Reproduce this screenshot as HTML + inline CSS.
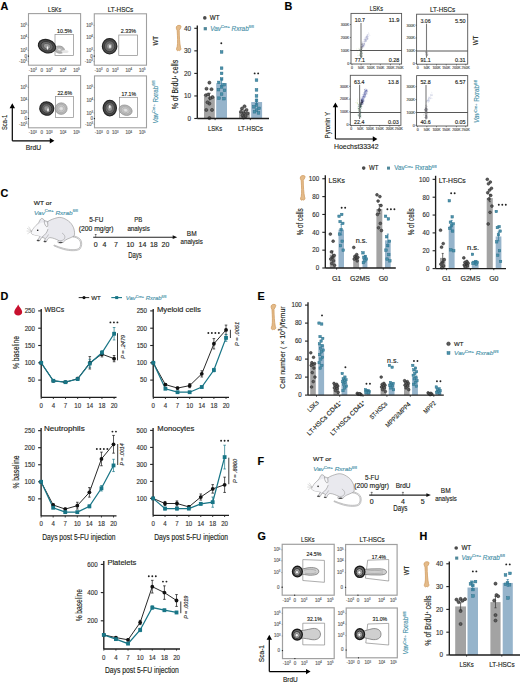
<!DOCTYPE html>
<html><head><meta charset="utf-8"><style>
html,body{margin:0;padding:0;background:#fff;}
svg{display:block;font-family:"Liberation Sans",sans-serif;}
text{stroke-width:0.15px;}
text:not([stroke]){stroke:#231f20;}
text:not([fill]){fill:#231f20;}
</style></head><body>
<svg width="520" height="684" viewBox="0 0 520 684">
<defs><radialGradient id="blobg" cx="0.5" cy="0.5" r="0.5"><stop offset="0" stop-color="#c8c8c8"/><stop offset="0.3" stop-color="#8a8a8a"/><stop offset="0.65" stop-color="#555"/><stop offset="1" stop-color="#2a2a2a"/></radialGradient><radialGradient id="lblobg" cx="0.5" cy="0.5" r="0.5"><stop offset="0" stop-color="#e8e8e8"/><stop offset="0.6" stop-color="#c4c4c4"/><stop offset="1" stop-color="#b0b0b0"/></radialGradient><radialGradient id="gdark" cx="0.55" cy="0.5" r="0.55"><stop offset="0" stop-color="#bbb"/><stop offset="0.35" stop-color="#555"/><stop offset="0.7" stop-color="#333"/><stop offset="1" stop-color="#1a1a1a"/></radialGradient></defs>
<rect width="520" height="684" fill="#fff"/>
<text x="0.6" y="10.1" font-size="10.8" font-weight="bold" fill="#000" stroke="#000" >A</text>
<text x="54.7" y="11.6" font-size="6.8" text-anchor="middle" textLength="13.3" lengthAdjust="spacingAndGlyphs" >LSKs</text>
<text x="120.5" y="11.6" font-size="6.8" text-anchor="middle" textLength="25.5" lengthAdjust="spacingAndGlyphs" >LT-HSCs</text>
<rect x="28.5" y="13.6" width="52.1" height="51.6" fill="none" stroke="#a0a0a0" stroke-width="1.1" />
<text x="27" y="26.71" font-size="4.5" fill="#666" stroke="#666" text-anchor="end">10<tspan dy="-1.8" font-size="2.7">5</tspan></text>
<text x="27" y="39.09" font-size="4.5" fill="#666" stroke="#666" text-anchor="end">10<tspan dy="-1.8" font-size="2.7">4</tspan></text>
<text x="27" y="51.99" font-size="4.5" fill="#666" stroke="#666" text-anchor="end">10<tspan dy="-1.8" font-size="2.7">3</tspan></text>
<text x="27" y="57.57" font-size="4.5" text-anchor="end" fill="#666" stroke="#666" >0</text>
<text x="27" y="63.09" font-size="4.5" fill="#666" stroke="#666" text-anchor="end">-10<tspan dy="-1.8" font-size="2.7">3</tspan></text>
<text x="32.67" y="71.8" font-size="4.5" fill="#666" stroke="#666" text-anchor="middle">-10<tspan dy="-1.8" font-size="2.7">3</tspan></text>
<text x="41.79" y="71.8" font-size="4.5" text-anchor="middle" fill="#666" stroke="#666" >0</text>
<text x="49.34" y="71.8" font-size="4.5" fill="#666" stroke="#666" text-anchor="middle">10<tspan dy="-1.8" font-size="2.7">3</tspan></text>
<text x="62.89" y="71.8" font-size="4.5" fill="#666" stroke="#666" text-anchor="middle">10<tspan dy="-1.8" font-size="2.7">4</tspan></text>
<text x="76.43" y="71.8" font-size="4.5" fill="#666" stroke="#666" text-anchor="middle">10<tspan dy="-1.8" font-size="2.7">5</tspan></text>
<line x1="27.7" y1="25.21" x2="28.5" y2="25.21" stroke="#555" stroke-width="0.5" />
<line x1="27.7" y1="37.59" x2="28.5" y2="37.59" stroke="#555" stroke-width="0.5" />
<line x1="27.7" y1="50.49" x2="28.5" y2="50.49" stroke="#555" stroke-width="0.5" />
<line x1="27.7" y1="56.07" x2="28.5" y2="56.07" stroke="#555" stroke-width="0.5" />
<line x1="27.7" y1="61.59" x2="28.5" y2="61.59" stroke="#555" stroke-width="0.5" />
<circle cx="28.5" cy="56.07" r="0.6" fill="#111" stroke="none" stroke-width="0.3"/>
<rect x="55" y="34.6" width="18.6" height="20.8" fill="none" stroke="#8a8a8a" stroke-width="0.7" />
<text x="57" y="32.8" font-size="6" textLength="15.1" lengthAdjust="spacingAndGlyphs" >10.5%</text>
<rect x="94.3" y="13.8" width="52.2" height="51.4" fill="none" stroke="#a0a0a0" stroke-width="1.1" />
<text x="92.8" y="26.87" font-size="4.5" fill="#666" stroke="#666" text-anchor="end">10<tspan dy="-1.8" font-size="2.7">5</tspan></text>
<text x="92.8" y="39.2" font-size="4.5" fill="#666" stroke="#666" text-anchor="end">10<tspan dy="-1.8" font-size="2.7">4</tspan></text>
<text x="92.8" y="52.05" font-size="4.5" fill="#666" stroke="#666" text-anchor="end">10<tspan dy="-1.8" font-size="2.7">3</tspan></text>
<text x="92.8" y="57.6" font-size="4.5" text-anchor="end" fill="#666" stroke="#666" >0</text>
<text x="92.8" y="63.1" font-size="4.5" fill="#666" stroke="#666" text-anchor="end">-10<tspan dy="-1.8" font-size="2.7">3</tspan></text>
<text x="98.48" y="71.8" font-size="4.5" fill="#666" stroke="#666" text-anchor="middle">-10<tspan dy="-1.8" font-size="2.7">3</tspan></text>
<text x="107.61" y="71.8" font-size="4.5" text-anchor="middle" fill="#666" stroke="#666" >0</text>
<text x="115.18" y="71.8" font-size="4.5" fill="#666" stroke="#666" text-anchor="middle">10<tspan dy="-1.8" font-size="2.7">3</tspan></text>
<text x="128.75" y="71.8" font-size="4.5" fill="#666" stroke="#666" text-anchor="middle">10<tspan dy="-1.8" font-size="2.7">4</tspan></text>
<text x="142.32" y="71.8" font-size="4.5" fill="#666" stroke="#666" text-anchor="middle">10<tspan dy="-1.8" font-size="2.7">5</tspan></text>
<line x1="93.5" y1="25.37" x2="94.3" y2="25.37" stroke="#555" stroke-width="0.5" />
<line x1="93.5" y1="37.7" x2="94.3" y2="37.7" stroke="#555" stroke-width="0.5" />
<line x1="93.5" y1="50.55" x2="94.3" y2="50.55" stroke="#555" stroke-width="0.5" />
<line x1="93.5" y1="56.1" x2="94.3" y2="56.1" stroke="#555" stroke-width="0.5" />
<line x1="93.5" y1="61.6" x2="94.3" y2="61.6" stroke="#555" stroke-width="0.5" />
<circle cx="94.3" cy="56.1" r="0.6" fill="#111" stroke="none" stroke-width="0.3"/>
<rect x="118.8" y="35" width="18.8" height="20.4" fill="none" stroke="#8a8a8a" stroke-width="0.7" />
<text x="120.8" y="33.2" font-size="6" textLength="15.3" lengthAdjust="spacingAndGlyphs" >2.33%</text>
<rect x="28.5" y="75.6" width="52.1" height="52.2" fill="none" stroke="#a0a0a0" stroke-width="1.1" />
<text x="27" y="88.84" font-size="4.5" fill="#666" stroke="#666" text-anchor="end">10<tspan dy="-1.8" font-size="2.7">5</tspan></text>
<text x="27" y="101.37" font-size="4.5" fill="#666" stroke="#666" text-anchor="end">10<tspan dy="-1.8" font-size="2.7">4</tspan></text>
<text x="27" y="114.42" font-size="4.5" fill="#666" stroke="#666" text-anchor="end">10<tspan dy="-1.8" font-size="2.7">3</tspan></text>
<text x="27" y="120.06" font-size="4.5" text-anchor="end" fill="#666" stroke="#666" >0</text>
<text x="27" y="125.65" font-size="4.5" fill="#666" stroke="#666" text-anchor="end">-10<tspan dy="-1.8" font-size="2.7">3</tspan></text>
<text x="32.67" y="134.4" font-size="4.5" fill="#666" stroke="#666" text-anchor="middle">-10<tspan dy="-1.8" font-size="2.7">3</tspan></text>
<text x="41.79" y="134.4" font-size="4.5" text-anchor="middle" fill="#666" stroke="#666" >0</text>
<text x="49.34" y="134.4" font-size="4.5" fill="#666" stroke="#666" text-anchor="middle">10<tspan dy="-1.8" font-size="2.7">3</tspan></text>
<text x="62.89" y="134.4" font-size="4.5" fill="#666" stroke="#666" text-anchor="middle">10<tspan dy="-1.8" font-size="2.7">4</tspan></text>
<text x="76.43" y="134.4" font-size="4.5" fill="#666" stroke="#666" text-anchor="middle">10<tspan dy="-1.8" font-size="2.7">5</tspan></text>
<line x1="27.7" y1="87.34" x2="28.5" y2="87.34" stroke="#555" stroke-width="0.5" />
<line x1="27.7" y1="99.87" x2="28.5" y2="99.87" stroke="#555" stroke-width="0.5" />
<line x1="27.7" y1="112.92" x2="28.5" y2="112.92" stroke="#555" stroke-width="0.5" />
<line x1="27.7" y1="118.56" x2="28.5" y2="118.56" stroke="#555" stroke-width="0.5" />
<line x1="27.7" y1="124.15" x2="28.5" y2="124.15" stroke="#555" stroke-width="0.5" />
<circle cx="28.5" cy="118.56" r="0.6" fill="#111" stroke="none" stroke-width="0.3"/>
<rect x="55.4" y="96.6" width="18.2" height="20.8" fill="none" stroke="#8a8a8a" stroke-width="0.7" />
<text x="57.4" y="94.8" font-size="6" textLength="14.7" lengthAdjust="spacingAndGlyphs" >22.6%</text>
<rect x="94.5" y="75.9" width="52" height="51.9" fill="none" stroke="#a0a0a0" stroke-width="1.1" />
<text x="93" y="89.08" font-size="4.5" fill="#666" stroke="#666" text-anchor="end">10<tspan dy="-1.8" font-size="2.7">5</tspan></text>
<text x="93" y="101.53" font-size="4.5" fill="#666" stroke="#666" text-anchor="end">10<tspan dy="-1.8" font-size="2.7">4</tspan></text>
<text x="93" y="114.51" font-size="4.5" fill="#666" stroke="#666" text-anchor="end">10<tspan dy="-1.8" font-size="2.7">3</tspan></text>
<text x="93" y="120.11" font-size="4.5" text-anchor="end" fill="#666" stroke="#666" >0</text>
<text x="93" y="125.67" font-size="4.5" fill="#666" stroke="#666" text-anchor="end">-10<tspan dy="-1.8" font-size="2.7">3</tspan></text>
<text x="98.66" y="134.4" font-size="4.5" fill="#666" stroke="#666" text-anchor="middle">-10<tspan dy="-1.8" font-size="2.7">3</tspan></text>
<text x="107.76" y="134.4" font-size="4.5" text-anchor="middle" fill="#666" stroke="#666" >0</text>
<text x="115.3" y="134.4" font-size="4.5" fill="#666" stroke="#666" text-anchor="middle">10<tspan dy="-1.8" font-size="2.7">3</tspan></text>
<text x="128.82" y="134.4" font-size="4.5" fill="#666" stroke="#666" text-anchor="middle">10<tspan dy="-1.8" font-size="2.7">4</tspan></text>
<text x="142.34" y="134.4" font-size="4.5" fill="#666" stroke="#666" text-anchor="middle">10<tspan dy="-1.8" font-size="2.7">5</tspan></text>
<line x1="93.7" y1="87.58" x2="94.5" y2="87.58" stroke="#555" stroke-width="0.5" />
<line x1="93.7" y1="100.03" x2="94.5" y2="100.03" stroke="#555" stroke-width="0.5" />
<line x1="93.7" y1="113.01" x2="94.5" y2="113.01" stroke="#555" stroke-width="0.5" />
<line x1="93.7" y1="118.61" x2="94.5" y2="118.61" stroke="#555" stroke-width="0.5" />
<line x1="93.7" y1="124.17" x2="94.5" y2="124.17" stroke="#555" stroke-width="0.5" />
<circle cx="94.5" cy="118.61" r="0.6" fill="#111" stroke="none" stroke-width="0.3"/>
<rect x="119.4" y="97.3" width="18.2" height="20.1" fill="none" stroke="#8a8a8a" stroke-width="0.7" />
<text x="121.4" y="95.5" font-size="6" textLength="14.7" lengthAdjust="spacingAndGlyphs" >17.1%</text>
<ellipse cx="59.5" cy="49.6" rx="5" ry="3.6" fill="url(#lblobg)" stroke="#8a8a8a" stroke-width="0.6" transform="rotate(10 59.5 49.6)"/>
<ellipse cx="59.5" cy="49.6" rx="3.5" ry="2.52" fill="none" stroke="#999" stroke-width="0.4" transform="rotate(10 59.5 49.6)"/>
<ellipse cx="59.5" cy="49.6" rx="2.1" ry="1.51" fill="none" stroke="#999" stroke-width="0.4" transform="rotate(10 59.5 49.6)"/>
<ellipse cx="65" cy="51.5" rx="3.5" ry="1.6" fill="#e6e6e6"/>
<ellipse cx="47" cy="46.2" rx="8.8" ry="6.4" fill="#4e4e4e" stroke="#262626" stroke-width="1.3" transform="rotate(18 47 46.2)"/>
<ellipse cx="47" cy="46.2" rx="6.26" ry="4.62" fill="#6a6a6a" stroke="#2e2e2e" stroke-width="0.7" transform="rotate(18 47 46.2)"/>
<ellipse cx="47" cy="46.2" rx="3.68" ry="2.72" fill="#969696" stroke="#444" stroke-width="0.5" transform="rotate(18 47 46.2)"/>
<ellipse cx="47.5" cy="48" rx="0.8" ry="1.7" fill="#fff" fill-opacity="0.95"/>
<ellipse cx="109.6" cy="46.2" rx="7.2" ry="7.6" fill="#4e4e4e" stroke="#262626" stroke-width="1.3" transform="rotate(0 109.6 46.2)"/>
<ellipse cx="109.6" cy="46.2" rx="5.17" ry="5.44" fill="#6a6a6a" stroke="#2e2e2e" stroke-width="0.7" transform="rotate(0 109.6 46.2)"/>
<ellipse cx="109.6" cy="46.2" rx="3.04" ry="3.2" fill="#969696" stroke="#444" stroke-width="0.5" transform="rotate(0 109.6 46.2)"/>
<ellipse cx="110" cy="46.5" rx="0.8" ry="1.7" fill="#fff" fill-opacity="0.95"/>
<ellipse cx="61.2" cy="108.6" rx="6" ry="5.8" fill="url(#lblobg)" stroke="#8a8a8a" stroke-width="0.6" transform="rotate(0 61.2 108.6)"/>
<ellipse cx="61.2" cy="108.6" rx="4.2" ry="4.06" fill="none" stroke="#999" stroke-width="0.4" transform="rotate(0 61.2 108.6)"/>
<ellipse cx="61.2" cy="108.6" rx="2.52" ry="2.44" fill="none" stroke="#999" stroke-width="0.4" transform="rotate(0 61.2 108.6)"/>
<ellipse cx="46.8" cy="108.5" rx="7" ry="6.6" fill="#4e4e4e" stroke="#262626" stroke-width="1.3" transform="rotate(20 46.8 108.5)"/>
<ellipse cx="46.8" cy="108.5" rx="5.03" ry="4.76" fill="#6a6a6a" stroke="#2e2e2e" stroke-width="0.7" transform="rotate(20 46.8 108.5)"/>
<ellipse cx="46.8" cy="108.5" rx="2.96" ry="2.8" fill="#969696" stroke="#444" stroke-width="0.5" transform="rotate(20 46.8 108.5)"/>
<ellipse cx="48" cy="110" rx="0.8" ry="1.7" fill="#fff" fill-opacity="0.95"/>
<ellipse cx="125.6" cy="110.2" rx="6.7" ry="5" fill="url(#lblobg)" stroke="#8a8a8a" stroke-width="0.6" transform="rotate(20 125.6 110.2)"/>
<ellipse cx="125.6" cy="110.2" rx="4.69" ry="3.5" fill="none" stroke="#999" stroke-width="0.4" transform="rotate(20 125.6 110.2)"/>
<ellipse cx="125.6" cy="110.2" rx="2.81" ry="2.1" fill="none" stroke="#999" stroke-width="0.4" transform="rotate(20 125.6 110.2)"/>
<ellipse cx="109.8" cy="108.1" rx="6.6" ry="7.7" fill="#4e4e4e" stroke="#262626" stroke-width="1.3" transform="rotate(0 109.8 108.1)"/>
<ellipse cx="109.8" cy="108.1" rx="4.76" ry="5.51" fill="#6a6a6a" stroke="#2e2e2e" stroke-width="0.7" transform="rotate(0 109.8 108.1)"/>
<ellipse cx="109.8" cy="108.1" rx="2.8" ry="3.24" fill="#969696" stroke="#444" stroke-width="0.5" transform="rotate(0 109.8 108.1)"/>
<ellipse cx="109.8" cy="106.8" rx="0.8" ry="1.7" fill="#fff" fill-opacity="0.95"/>
<text x="157.6" y="45.5" font-size="7.2" transform="rotate(-90 157.6 45.5)" textLength="9.6" lengthAdjust="spacingAndGlyphs" >WT</text>
<text x="158" y="123.6" font-size="7" fill="#4a93aa" stroke="#4a93aa" transform="rotate(-90 158 123.6)" textLength="43" lengthAdjust="spacingAndGlyphs"><tspan font-style="italic">Vav</tspan><tspan dy="-2.66" font-size="4.34">Cre+</tspan><tspan dy="2.66"> Rxrab</tspan><tspan dy="-2.66" font-size="4.34">fl/fl</tspan></text>
<path d="M12.3,140.8 L12.3,107 M12.3,140.8 L50.5,140.8" stroke="#000" stroke-width="1.2" fill="none"/>
<path d="M9.6,108.2 L12.3,103.2 L15,108.2 Z M49.8,138.1 L54.4,140.8 L49.8,143.5 Z" fill="#000"/>
<text x="7.4" y="130" font-size="7.8" transform="rotate(-90 7.4 130)" textLength="15.2" lengthAdjust="spacingAndGlyphs" >Sca-1</text>
<text x="25.8" y="150.3" font-size="7.8" textLength="15.3" lengthAdjust="spacingAndGlyphs" >BrdU</text>
<path d="M176.25,28.12 C175.93,25.52 178.77,24.74 180.66,25.78 C181.6,26.56 180.34,28.64 179.21,30.2 C179.21,36.7 179.71,43.2 180.47,47.36 C181.73,49.18 180.03,51.52 178.45,50.22 C177.19,51.52 175.62,49.7 177.19,46.84 C177.95,43.2 177.51,36.7 177.19,30.72 Z" fill="#e4bb8a" stroke="#cf9a5c" stroke-width="0.75" stroke-linejoin="round"/>
<circle cx="204.8" cy="17.9" r="1.8" fill="#4a4a4a" stroke="none" stroke-width="0.3"/>
<text x="209.8" y="20.3" font-size="6.6" textLength="9.8" lengthAdjust="spacingAndGlyphs" >WT</text>
<rect x="203.7" y="27.1" width="3.2" height="3.2" fill="#4f8799" stroke="none" stroke-width="0.4" />
<text x="210.2" y="31" font-size="6.6" fill="#4a93aa" stroke="#4a93aa" textLength="43.6" lengthAdjust="spacingAndGlyphs"><tspan font-style="italic">Vav</tspan><tspan dy="-2.51" font-size="4.09">Cre+</tspan><tspan dy="2.51" font-style="italic"> Rxrab</tspan><tspan dy="-2.51" font-size="4.09">fl/fl</tspan></text>
<rect x="204" y="96.85" width="10.8" height="21.65" fill="#a3a3a3" stroke="none" stroke-width="0.8" />
<rect x="216.2" y="83.1" width="10.8" height="35.4" fill="#96b4cb" stroke="none" stroke-width="0.8" />
<rect x="239" y="111.73" width="10.8" height="6.77" fill="#a3a3a3" stroke="none" stroke-width="0.8" />
<rect x="251.2" y="102.04" width="10.9" height="16.46" fill="#96b4cb" stroke="none" stroke-width="0.8" />
<circle cx="209.4" cy="82.65" r="1.55" fill="#5c5c5c" stroke="#262626" stroke-width="0.55"/>
<circle cx="206.5" cy="88.73" r="1.55" fill="#5c5c5c" stroke="#262626" stroke-width="0.55"/>
<circle cx="211.5" cy="89.19" r="1.55" fill="#5c5c5c" stroke="#262626" stroke-width="0.55"/>
<circle cx="205.8" cy="95.27" r="1.55" fill="#5c5c5c" stroke="#262626" stroke-width="0.55"/>
<circle cx="208" cy="94.6" r="1.55" fill="#5c5c5c" stroke="#262626" stroke-width="0.55"/>
<circle cx="212.5" cy="97.08" r="1.55" fill="#5c5c5c" stroke="#262626" stroke-width="0.55"/>
<circle cx="210.2" cy="98.2" r="1.55" fill="#5c5c5c" stroke="#262626" stroke-width="0.55"/>
<circle cx="209.4" cy="103.62" r="1.55" fill="#5c5c5c" stroke="#262626" stroke-width="0.55"/>
<circle cx="206.3" cy="109.93" r="1.55" fill="#5c5c5c" stroke="#262626" stroke-width="0.55"/>
<circle cx="212" cy="109.93" r="1.55" fill="#5c5c5c" stroke="#262626" stroke-width="0.55"/>
<circle cx="209.4" cy="118.05" r="1.55" fill="#5c5c5c" stroke="#262626" stroke-width="0.55"/>
<circle cx="207.5" cy="102.26" r="1.55" fill="#5c5c5c" stroke="#262626" stroke-width="0.55"/>
<rect x="220.25" y="50.63" width="2.7" height="2.7" fill="#4b91ab" stroke="#2c6f88" stroke-width="0.45" />
<rect x="220.25" y="66.86" width="2.7" height="2.7" fill="#4b91ab" stroke="#2c6f88" stroke-width="0.45" />
<rect x="220.25" y="72.05" width="2.7" height="2.7" fill="#4b91ab" stroke="#2c6f88" stroke-width="0.45" />
<rect x="220.25" y="77.69" width="2.7" height="2.7" fill="#4b91ab" stroke="#2c6f88" stroke-width="0.45" />
<rect x="217.45" y="81.07" width="2.7" height="2.7" fill="#4b91ab" stroke="#2c6f88" stroke-width="0.45" />
<rect x="222.85" y="83.33" width="2.7" height="2.7" fill="#4b91ab" stroke="#2c6f88" stroke-width="0.45" />
<rect x="217.15" y="88.29" width="2.7" height="2.7" fill="#4b91ab" stroke="#2c6f88" stroke-width="0.45" />
<rect x="223.15" y="88.96" width="2.7" height="2.7" fill="#4b91ab" stroke="#2c6f88" stroke-width="0.45" />
<rect x="220.25" y="92.8" width="2.7" height="2.7" fill="#4b91ab" stroke="#2c6f88" stroke-width="0.45" />
<rect x="217.65" y="96.86" width="2.7" height="2.7" fill="#4b91ab" stroke="#2c6f88" stroke-width="0.45" />
<rect x="222.65" y="97.31" width="2.7" height="2.7" fill="#4b91ab" stroke="#2c6f88" stroke-width="0.45" />
<rect x="220.25" y="85.58" width="2.7" height="2.7" fill="#4b91ab" stroke="#2c6f88" stroke-width="0.45" />
<circle cx="244.5" cy="106.32" r="1.55" fill="#5c5c5c" stroke="#262626" stroke-width="0.55"/>
<circle cx="242" cy="108.58" r="1.55" fill="#5c5c5c" stroke="#262626" stroke-width="0.55"/>
<circle cx="246.5" cy="109.93" r="1.55" fill="#5c5c5c" stroke="#262626" stroke-width="0.55"/>
<circle cx="241" cy="111.73" r="1.55" fill="#5c5c5c" stroke="#262626" stroke-width="0.55"/>
<circle cx="244" cy="113.09" r="1.55" fill="#5c5c5c" stroke="#262626" stroke-width="0.55"/>
<circle cx="247.5" cy="113.54" r="1.55" fill="#5c5c5c" stroke="#262626" stroke-width="0.55"/>
<circle cx="242.5" cy="115.34" r="1.55" fill="#5c5c5c" stroke="#262626" stroke-width="0.55"/>
<circle cx="245.5" cy="116.25" r="1.55" fill="#5c5c5c" stroke="#262626" stroke-width="0.55"/>
<circle cx="243.5" cy="117.6" r="1.55" fill="#5c5c5c" stroke="#262626" stroke-width="0.55"/>
<rect x="255.15" y="78.81" width="2.7" height="2.7" fill="#4b91ab" stroke="#2c6f88" stroke-width="0.45" />
<rect x="255.15" y="88.51" width="2.7" height="2.7" fill="#4b91ab" stroke="#2c6f88" stroke-width="0.45" />
<rect x="255.15" y="94.6" width="2.7" height="2.7" fill="#4b91ab" stroke="#2c6f88" stroke-width="0.45" />
<rect x="255.15" y="99.11" width="2.7" height="2.7" fill="#4b91ab" stroke="#2c6f88" stroke-width="0.45" />
<rect x="255.15" y="103.62" width="2.7" height="2.7" fill="#4b91ab" stroke="#2c6f88" stroke-width="0.45" />
<rect x="252.65" y="105.42" width="2.7" height="2.7" fill="#4b91ab" stroke="#2c6f88" stroke-width="0.45" />
<rect x="257.65" y="107" width="2.7" height="2.7" fill="#4b91ab" stroke="#2c6f88" stroke-width="0.45" />
<rect x="255.15" y="108.81" width="2.7" height="2.7" fill="#4b91ab" stroke="#2c6f88" stroke-width="0.45" />
<rect x="253.15" y="110.39" width="2.7" height="2.7" fill="#4b91ab" stroke="#2c6f88" stroke-width="0.45" />
<rect x="257.15" y="111.51" width="2.7" height="2.7" fill="#4b91ab" stroke="#2c6f88" stroke-width="0.45" />
<line x1="209.4" y1="100.46" x2="209.4" y2="93.24" stroke="#3c3c3c" stroke-width="0.8" />
<line x1="208.1" y1="93.24" x2="210.7" y2="93.24" stroke="#3c3c3c" stroke-width="0.8" />
<line x1="221.6" y1="87.16" x2="221.6" y2="79.04" stroke="#2f7a9c" stroke-width="0.8" />
<line x1="220.3" y1="79.04" x2="222.9" y2="79.04" stroke="#2f7a9c" stroke-width="0.8" />
<line x1="244.5" y1="113.09" x2="244.5" y2="110.38" stroke="#3c3c3c" stroke-width="0.8" />
<line x1="243.2" y1="110.38" x2="245.8" y2="110.38" stroke="#3c3c3c" stroke-width="0.8" />
<line x1="256.5" y1="104.97" x2="256.5" y2="99.11" stroke="#2f7a9c" stroke-width="0.8" />
<line x1="255.2" y1="99.11" x2="257.8" y2="99.11" stroke="#2f7a9c" stroke-width="0.8" />
<line x1="197.3" y1="118.5" x2="197.3" y2="25.59" stroke="#1e1e1e" stroke-width="1.35" />
<line x1="197.3" y1="118.5" x2="269" y2="118.5" stroke="#1e1e1e" stroke-width="1.35" />
<line x1="194.3" y1="118.5" x2="197.3" y2="118.5" stroke="#222" stroke-width="1.1" />
<text x="191" y="120.9" font-size="7" text-anchor="end" fill="#333" stroke="#333" textLength="3.56" lengthAdjust="spacingAndGlyphs" >0</text>
<line x1="194.3" y1="95.95" x2="197.3" y2="95.95" stroke="#222" stroke-width="1.1" />
<text x="191" y="98.35" font-size="7" text-anchor="end" fill="#333" stroke="#333" textLength="7.12" lengthAdjust="spacingAndGlyphs" >10</text>
<line x1="194.3" y1="73.4" x2="197.3" y2="73.4" stroke="#222" stroke-width="1.1" />
<text x="191" y="75.8" font-size="7" text-anchor="end" fill="#333" stroke="#333" textLength="7.12" lengthAdjust="spacingAndGlyphs" >20</text>
<line x1="194.3" y1="50.85" x2="197.3" y2="50.85" stroke="#222" stroke-width="1.1" />
<text x="191" y="53.25" font-size="7" text-anchor="end" fill="#333" stroke="#333" textLength="7.12" lengthAdjust="spacingAndGlyphs" >30</text>
<line x1="194.3" y1="28.3" x2="197.3" y2="28.3" stroke="#222" stroke-width="1.1" />
<text x="191" y="30.7" font-size="7" text-anchor="end" fill="#333" stroke="#333" textLength="7.12" lengthAdjust="spacingAndGlyphs" >40</text>
<line x1="215.1" y1="118.5" x2="215.1" y2="120.1" stroke="#222" stroke-width="0.9" />
<line x1="250.3" y1="118.5" x2="250.3" y2="120.1" stroke="#222" stroke-width="0.9" />
<text x="215.1" y="131.1" font-size="6.6" text-anchor="middle" textLength="14" lengthAdjust="spacingAndGlyphs" >LSKs</text>
<text x="250.5" y="131.1" font-size="6.6" text-anchor="middle" textLength="25" lengthAdjust="spacingAndGlyphs" >LT-HSCs</text>
<circle cx="221.3" cy="43.3" r="0.95" fill="#222" stroke="none" stroke-width="0.3"/>
<circle cx="254.65" cy="73.4" r="0.95" fill="#222" stroke="none" stroke-width="0.3"/>
<circle cx="258.15" cy="73.4" r="0.95" fill="#222" stroke="none" stroke-width="0.3"/>
<text x="178.6" y="84.8" font-size="8.6" text-anchor="middle" transform="rotate(-90 178.4 84.8)" textLength="49.5" lengthAdjust="spacingAndGlyphs">% of BrdU<tspan dy="-2.6" font-size="4.2">+</tspan><tspan dy="2.6"> cells</tspan></text>
<text x="284.6" y="10.1" font-size="10.8" font-weight="bold" fill="#000" stroke="#000" >B</text>
<text x="376.3" y="11.2" font-size="6.8" text-anchor="middle" textLength="13.3" lengthAdjust="spacingAndGlyphs" >LSKs</text>
<text x="442.6" y="11.7" font-size="6.8" text-anchor="middle" textLength="25.2" lengthAdjust="spacingAndGlyphs" >LT-HSCs</text>
<circle cx="364.7" cy="44.17" r="0.55" fill="#8088b8" fill-opacity="0.2"/>
<circle cx="361.6" cy="45.94" r="0.55" fill="#8088b8" fill-opacity="0.2"/>
<circle cx="362.1" cy="46.29" r="0.55" fill="#8088b8" fill-opacity="0.2"/>
<circle cx="364.96" cy="41.96" r="0.55" fill="#8088b8" fill-opacity="0.2"/>
<circle cx="364.76" cy="41.5" r="0.55" fill="#8088b8" fill-opacity="0.2"/>
<circle cx="361.82" cy="42.75" r="0.55" fill="#8088b8" fill-opacity="0.2"/>
<circle cx="363.5" cy="41.56" r="0.55" fill="#8088b8" fill-opacity="0.2"/>
<circle cx="362.75" cy="45.86" r="0.55" fill="#8088b8" fill-opacity="0.2"/>
<circle cx="363.44" cy="45.79" r="0.55" fill="#8088b8" fill-opacity="0.2"/>
<circle cx="367.4" cy="38.28" r="0.55" fill="#8088b8" fill-opacity="0.2"/>
<circle cx="365.04" cy="40.15" r="0.55" fill="#8088b8" fill-opacity="0.2"/>
<circle cx="362.95" cy="46.47" r="0.55" fill="#8088b8" fill-opacity="0.2"/>
<circle cx="365.38" cy="39.18" r="0.55" fill="#8088b8" fill-opacity="0.2"/>
<circle cx="364.79" cy="40.19" r="0.55" fill="#8088b8" fill-opacity="0.2"/>
<circle cx="366.55" cy="36.83" r="0.55" fill="#8088b8" fill-opacity="0.2"/>
<circle cx="363.63" cy="39.82" r="0.55" fill="#8088b8" fill-opacity="0.2"/>
<circle cx="365.78" cy="40.7" r="0.55" fill="#8088b8" fill-opacity="0.2"/>
<circle cx="361.39" cy="46.33" r="0.55" fill="#8088b8" fill-opacity="0.2"/>
<circle cx="362.66" cy="45.19" r="0.55" fill="#8088b8" fill-opacity="0.2"/>
<circle cx="366.12" cy="37.81" r="0.55" fill="#8088b8" fill-opacity="0.2"/>
<circle cx="366.71" cy="37.77" r="0.55" fill="#8088b8" fill-opacity="0.2"/>
<circle cx="364.7" cy="39.39" r="0.55" fill="#8088b8" fill-opacity="0.2"/>
<circle cx="368" cy="36.57" r="0.55" fill="#8088b8" fill-opacity="0.2"/>
<circle cx="367.28" cy="39.55" r="0.55" fill="#8088b8" fill-opacity="0.2"/>
<circle cx="367.55" cy="39.16" r="0.55" fill="#8088b8" fill-opacity="0.2"/>
<circle cx="362.7" cy="44.46" r="0.55" fill="#8088b8" fill-opacity="0.2"/>
<circle cx="361.61" cy="46.86" r="0.55" fill="#8088b8" fill-opacity="0.2"/>
<circle cx="364.14" cy="46.15" r="0.55" fill="#8088b8" fill-opacity="0.2"/>
<circle cx="362.79" cy="46.34" r="0.55" fill="#8088b8" fill-opacity="0.2"/>
<circle cx="368.09" cy="37.02" r="0.55" fill="#8088b8" fill-opacity="0.2"/>
<circle cx="366.53" cy="39.29" r="0.55" fill="#8088b8" fill-opacity="0.2"/>
<circle cx="367.02" cy="37.55" r="0.55" fill="#8088b8" fill-opacity="0.2"/>
<circle cx="365.84" cy="41.19" r="0.55" fill="#8088b8" fill-opacity="0.2"/>
<circle cx="363.2" cy="45.77" r="0.55" fill="#8088b8" fill-opacity="0.2"/>
<circle cx="362.2" cy="44.31" r="0.55" fill="#8088b8" fill-opacity="0.2"/>
<circle cx="364.51" cy="43.87" r="0.55" fill="#8088b8" fill-opacity="0.2"/>
<circle cx="362.18" cy="41.67" r="0.55" fill="#8088b8" fill-opacity="0.2"/>
<circle cx="364.9" cy="38.59" r="0.55" fill="#8088b8" fill-opacity="0.2"/>
<circle cx="367.88" cy="39.53" r="0.55" fill="#8088b8" fill-opacity="0.2"/>
<circle cx="367.81" cy="36.5" r="0.55" fill="#8088b8" fill-opacity="0.2"/>
<circle cx="364.02" cy="42.54" r="0.55" fill="#8088b8" fill-opacity="0.2"/>
<circle cx="366.12" cy="39.52" r="0.55" fill="#8088b8" fill-opacity="0.2"/>
<circle cx="363.68" cy="45.19" r="0.55" fill="#8088b8" fill-opacity="0.2"/>
<circle cx="362.83" cy="46.37" r="0.55" fill="#8088b8" fill-opacity="0.2"/>
<circle cx="362.47" cy="45.94" r="0.55" fill="#8088b8" fill-opacity="0.2"/>
<circle cx="366.86" cy="36.17" r="0.55" fill="#8088b8" fill-opacity="0.2"/>
<circle cx="363.02" cy="44.67" r="0.55" fill="#8088b8" fill-opacity="0.2"/>
<circle cx="364.39" cy="43.22" r="0.55" fill="#8088b8" fill-opacity="0.2"/>
<circle cx="364.42" cy="41.45" r="0.55" fill="#8088b8" fill-opacity="0.2"/>
<circle cx="362.23" cy="46.36" r="0.55" fill="#8088b8" fill-opacity="0.2"/>
<circle cx="367.08" cy="37.22" r="0.55" fill="#8088b8" fill-opacity="0.2"/>
<circle cx="367.21" cy="35.5" r="0.55" fill="#8088b8" fill-opacity="0.2"/>
<circle cx="366.35" cy="40.67" r="0.55" fill="#8088b8" fill-opacity="0.2"/>
<circle cx="368.78" cy="34.21" r="0.55" fill="#8088b8" fill-opacity="0.2"/>
<circle cx="363.2" cy="44.27" r="0.55" fill="#8088b8" fill-opacity="0.2"/>
<circle cx="365.1" cy="37.42" r="0.55" fill="#8088b8" fill-opacity="0.2"/>
<circle cx="364.26" cy="44.66" r="0.55" fill="#8088b8" fill-opacity="0.2"/>
<circle cx="368.89" cy="33.88" r="0.55" fill="#8088b8" fill-opacity="0.2"/>
<circle cx="366.87" cy="36.54" r="0.55" fill="#8088b8" fill-opacity="0.2"/>
<circle cx="364.97" cy="40.96" r="0.55" fill="#8088b8" fill-opacity="0.2"/>
<circle cx="362.04" cy="47.35" r="0.55" fill="#8088b8" fill-opacity="0.2"/>
<circle cx="367.1" cy="38.43" r="0.55" fill="#8088b8" fill-opacity="0.2"/>
<circle cx="369.86" cy="35.59" r="0.55" fill="#8088b8" fill-opacity="0.2"/>
<circle cx="364.31" cy="43.26" r="0.55" fill="#8088b8" fill-opacity="0.2"/>
<circle cx="363.54" cy="45.85" r="0.55" fill="#8088b8" fill-opacity="0.2"/>
<circle cx="367.96" cy="35.33" r="0.55" fill="#8088b8" fill-opacity="0.2"/>
<circle cx="366.03" cy="38.8" r="0.55" fill="#8088b8" fill-opacity="0.2"/>
<circle cx="367.29" cy="38.23" r="0.55" fill="#8088b8" fill-opacity="0.2"/>
<circle cx="365.94" cy="38.08" r="0.55" fill="#8088b8" fill-opacity="0.2"/>
<circle cx="365.93" cy="38.93" r="0.55" fill="#8088b8" fill-opacity="0.2"/>
<circle cx="367.11" cy="35.9" r="0.55" fill="#8088b8" fill-opacity="0.2"/>
<circle cx="367.59" cy="35.1" r="0.55" fill="#8088b8" fill-opacity="0.2"/>
<circle cx="363.9" cy="47.06" r="0.55" fill="#8088b8" fill-opacity="0.2"/>
<circle cx="367.86" cy="38.66" r="0.55" fill="#8088b8" fill-opacity="0.2"/>
<circle cx="367.42" cy="34.54" r="0.55" fill="#8088b8" fill-opacity="0.2"/>
<circle cx="365.4" cy="40.53" r="0.55" fill="#8088b8" fill-opacity="0.2"/>
<circle cx="367.18" cy="34.46" r="0.55" fill="#8088b8" fill-opacity="0.2"/>
<circle cx="365.93" cy="36.53" r="0.55" fill="#8088b8" fill-opacity="0.2"/>
<circle cx="367.12" cy="37.75" r="0.55" fill="#8088b8" fill-opacity="0.2"/>
<circle cx="363.83" cy="44.68" r="0.55" fill="#8088b8" fill-opacity="0.2"/>
<circle cx="363.14" cy="44.12" r="0.55" fill="#8088b8" fill-opacity="0.2"/>
<circle cx="366.86" cy="36.87" r="0.55" fill="#8088b8" fill-opacity="0.2"/>
<circle cx="366.28" cy="39.47" r="0.55" fill="#8088b8" fill-opacity="0.2"/>
<circle cx="366.4" cy="35.98" r="0.55" fill="#8088b8" fill-opacity="0.2"/>
<circle cx="366.1" cy="40.83" r="0.55" fill="#8088b8" fill-opacity="0.2"/>
<circle cx="364.71" cy="44.84" r="0.55" fill="#8088b8" fill-opacity="0.2"/>
<circle cx="361.61" cy="45.17" r="0.55" fill="#8088b8" fill-opacity="0.2"/>
<circle cx="364.84" cy="41.29" r="0.55" fill="#8088b8" fill-opacity="0.2"/>
<circle cx="365.42" cy="39.92" r="0.55" fill="#8088b8" fill-opacity="0.2"/>
<circle cx="365.37" cy="41" r="0.55" fill="#8088b8" fill-opacity="0.2"/>
<circle cx="365.48" cy="37.68" r="0.55" fill="#8088b8" fill-opacity="0.2"/>
<circle cx="367.39" cy="37.37" r="0.55" fill="#8088b8" fill-opacity="0.2"/>
<circle cx="364.6" cy="39.61" r="0.55" fill="#8088b8" fill-opacity="0.2"/>
<circle cx="365.09" cy="39.01" r="0.55" fill="#8088b8" fill-opacity="0.2"/>
<circle cx="366.17" cy="40.76" r="0.55" fill="#8088b8" fill-opacity="0.2"/>
<circle cx="367.91" cy="36.23" r="0.55" fill="#8088b8" fill-opacity="0.2"/>
<circle cx="366.97" cy="39.68" r="0.55" fill="#8088b8" fill-opacity="0.2"/>
<circle cx="363.52" cy="46.03" r="0.55" fill="#8088b8" fill-opacity="0.2"/>
<circle cx="362.46" cy="46.48" r="0.55" fill="#8088b8" fill-opacity="0.2"/>
<circle cx="366.42" cy="37.09" r="0.55" fill="#8088b8" fill-opacity="0.2"/>
<circle cx="362.65" cy="43.85" r="0.55" fill="#8088b8" fill-opacity="0.2"/>
<circle cx="364.6" cy="43.7" r="0.55" fill="#8088b8" fill-opacity="0.2"/>
<circle cx="364.18" cy="44.1" r="0.55" fill="#8088b8" fill-opacity="0.2"/>
<circle cx="366.62" cy="41.04" r="0.55" fill="#8088b8" fill-opacity="0.2"/>
<circle cx="361.98" cy="45.51" r="0.55" fill="#8088b8" fill-opacity="0.2"/>
<circle cx="364.3" cy="43.67" r="0.55" fill="#8088b8" fill-opacity="0.2"/>
<circle cx="367.47" cy="38.47" r="0.55" fill="#8088b8" fill-opacity="0.2"/>
<circle cx="365.45" cy="41.81" r="0.55" fill="#8088b8" fill-opacity="0.2"/>
<circle cx="365.42" cy="39.49" r="0.55" fill="#8088b8" fill-opacity="0.2"/>
<circle cx="368.48" cy="32.85" r="0.55" fill="#8088b8" fill-opacity="0.2"/>
<circle cx="362.6" cy="46" r="0.55" fill="#8088b8" fill-opacity="0.2"/>
<circle cx="366.61" cy="38.12" r="0.55" fill="#8088b8" fill-opacity="0.2"/>
<circle cx="365.95" cy="41.05" r="0.55" fill="#8088b8" fill-opacity="0.2"/>
<circle cx="364.74" cy="45.53" r="0.55" fill="#8088b8" fill-opacity="0.2"/>
<circle cx="365.3" cy="39.78" r="0.55" fill="#8088b8" fill-opacity="0.2"/>
<circle cx="361.99" cy="45.43" r="0.55" fill="#8088b8" fill-opacity="0.2"/>
<circle cx="363.62" cy="45.65" r="0.55" fill="#8088b8" fill-opacity="0.2"/>
<circle cx="368.34" cy="38.27" r="0.55" fill="#8088b8" fill-opacity="0.2"/>
<circle cx="363.04" cy="45.45" r="0.55" fill="#8088b8" fill-opacity="0.2"/>
<circle cx="362.09" cy="42.26" r="0.55" fill="#8088b8" fill-opacity="0.2"/>
<circle cx="362.05" cy="47.93" r="0.5" fill="#556" fill-opacity="0.3"/>
<circle cx="361.79" cy="47.8" r="0.5" fill="#556" fill-opacity="0.3"/>
<circle cx="361.42" cy="49.19" r="0.5" fill="#556" fill-opacity="0.3"/>
<circle cx="361.63" cy="46.67" r="0.5" fill="#556" fill-opacity="0.3"/>
<circle cx="362.09" cy="46.5" r="0.5" fill="#556" fill-opacity="0.3"/>
<circle cx="361.22" cy="49" r="0.5" fill="#556" fill-opacity="0.3"/>
<circle cx="361.78" cy="44.48" r="0.5" fill="#556" fill-opacity="0.3"/>
<circle cx="362.08" cy="46.04" r="0.5" fill="#556" fill-opacity="0.3"/>
<circle cx="361.63" cy="44.38" r="0.5" fill="#556" fill-opacity="0.3"/>
<circle cx="361.73" cy="44.44" r="0.5" fill="#556" fill-opacity="0.3"/>
<circle cx="362.64" cy="44.81" r="0.5" fill="#556" fill-opacity="0.3"/>
<circle cx="362.05" cy="43.18" r="0.5" fill="#556" fill-opacity="0.3"/>
<circle cx="361.61" cy="46.74" r="0.5" fill="#556" fill-opacity="0.3"/>
<circle cx="362.26" cy="48.64" r="0.5" fill="#556" fill-opacity="0.3"/>
<circle cx="361.66" cy="47.68" r="0.5" fill="#556" fill-opacity="0.3"/>
<circle cx="362.91" cy="43.3" r="0.5" fill="#556" fill-opacity="0.3"/>
<circle cx="361.59" cy="47.81" r="0.5" fill="#556" fill-opacity="0.3"/>
<circle cx="362.16" cy="46.79" r="0.5" fill="#556" fill-opacity="0.3"/>
<circle cx="363.11" cy="47.04" r="0.5" fill="#556" fill-opacity="0.3"/>
<circle cx="361.97" cy="47.27" r="0.5" fill="#556" fill-opacity="0.3"/>
<circle cx="361.59" cy="47.16" r="0.5" fill="#556" fill-opacity="0.3"/>
<circle cx="361" cy="46.82" r="0.5" fill="#556" fill-opacity="0.3"/>
<circle cx="361.4" cy="47.79" r="0.5" fill="#556" fill-opacity="0.3"/>
<circle cx="362.06" cy="47.74" r="0.5" fill="#556" fill-opacity="0.3"/>
<circle cx="361.76" cy="48.82" r="0.5" fill="#556" fill-opacity="0.3"/>
<circle cx="360.87" cy="47.23" r="0.5" fill="#556" fill-opacity="0.3"/>
<circle cx="361.65" cy="43.7" r="0.5" fill="#556" fill-opacity="0.3"/>
<circle cx="361.93" cy="44.07" r="0.5" fill="#556" fill-opacity="0.3"/>
<circle cx="363.05" cy="43.87" r="0.5" fill="#556" fill-opacity="0.3"/>
<circle cx="363.13" cy="45.45" r="0.5" fill="#556" fill-opacity="0.3"/>
<circle cx="360.38" cy="55.32" r="0.55" fill="#3a5a4a" fill-opacity="0.35"/>
<circle cx="361.71" cy="56.15" r="0.55" fill="#3a5a4a" fill-opacity="0.35"/>
<circle cx="361.74" cy="51.95" r="0.55" fill="#3a5a4a" fill-opacity="0.35"/>
<circle cx="359.89" cy="54.87" r="0.55" fill="#3a5a4a" fill-opacity="0.35"/>
<circle cx="360.96" cy="53.99" r="0.55" fill="#3a5a4a" fill-opacity="0.35"/>
<circle cx="361.45" cy="49.74" r="0.55" fill="#3a5a4a" fill-opacity="0.35"/>
<circle cx="361.48" cy="49.07" r="0.55" fill="#3a5a4a" fill-opacity="0.35"/>
<circle cx="360.38" cy="53.27" r="0.55" fill="#3a5a4a" fill-opacity="0.35"/>
<circle cx="362.35" cy="52.94" r="0.55" fill="#3a5a4a" fill-opacity="0.35"/>
<circle cx="360.28" cy="54.97" r="0.55" fill="#3a5a4a" fill-opacity="0.35"/>
<circle cx="362.18" cy="54.74" r="0.55" fill="#3a5a4a" fill-opacity="0.35"/>
<circle cx="361.54" cy="51.27" r="0.55" fill="#3a5a4a" fill-opacity="0.35"/>
<circle cx="361.46" cy="55.94" r="0.55" fill="#3a5a4a" fill-opacity="0.35"/>
<circle cx="360.51" cy="56.83" r="0.55" fill="#3a5a4a" fill-opacity="0.35"/>
<circle cx="360.61" cy="51.74" r="0.55" fill="#3a5a4a" fill-opacity="0.35"/>
<circle cx="360.95" cy="53.72" r="0.55" fill="#3a5a4a" fill-opacity="0.35"/>
<circle cx="361" cy="51.33" r="0.55" fill="#3a5a4a" fill-opacity="0.35"/>
<circle cx="360.96" cy="51.39" r="0.55" fill="#3a5a4a" fill-opacity="0.35"/>
<circle cx="360.89" cy="50.52" r="0.55" fill="#3a5a4a" fill-opacity="0.35"/>
<circle cx="360.88" cy="54.02" r="0.55" fill="#3a5a4a" fill-opacity="0.35"/>
<circle cx="360.34" cy="53.31" r="0.55" fill="#3a5a4a" fill-opacity="0.35"/>
<circle cx="361.39" cy="49.66" r="0.55" fill="#3a5a4a" fill-opacity="0.35"/>
<circle cx="361.32" cy="56.77" r="0.55" fill="#3a5a4a" fill-opacity="0.35"/>
<circle cx="361.87" cy="51.01" r="0.55" fill="#3a5a4a" fill-opacity="0.35"/>
<circle cx="361.03" cy="53.07" r="0.55" fill="#3a5a4a" fill-opacity="0.35"/>
<circle cx="361.41" cy="57.46" r="0.55" fill="#3a5a4a" fill-opacity="0.35"/>
<circle cx="359.32" cy="49.87" r="0.55" fill="#3a5a4a" fill-opacity="0.35"/>
<circle cx="361.38" cy="49.31" r="0.55" fill="#3a5a4a" fill-opacity="0.35"/>
<circle cx="361.03" cy="55.61" r="0.55" fill="#3a5a4a" fill-opacity="0.35"/>
<circle cx="361.02" cy="56.2" r="0.55" fill="#3a5a4a" fill-opacity="0.35"/>
<circle cx="360.24" cy="49.07" r="0.55" fill="#3a5a4a" fill-opacity="0.35"/>
<circle cx="361.47" cy="51.91" r="0.55" fill="#3a5a4a" fill-opacity="0.35"/>
<circle cx="361.09" cy="51.49" r="0.55" fill="#3a5a4a" fill-opacity="0.35"/>
<circle cx="361.34" cy="54.71" r="0.55" fill="#3a5a4a" fill-opacity="0.35"/>
<circle cx="360.84" cy="54.94" r="0.55" fill="#3a5a4a" fill-opacity="0.35"/>
<circle cx="360.57" cy="51.82" r="0.55" fill="#3a5a4a" fill-opacity="0.35"/>
<circle cx="360.64" cy="56.64" r="0.55" fill="#3a5a4a" fill-opacity="0.35"/>
<circle cx="361.05" cy="52.64" r="0.55" fill="#3a5a4a" fill-opacity="0.35"/>
<circle cx="361.31" cy="49.32" r="0.55" fill="#3a5a4a" fill-opacity="0.35"/>
<circle cx="361.19" cy="57.03" r="0.55" fill="#3a5a4a" fill-opacity="0.35"/>
<circle cx="361.35" cy="53.72" r="0.55" fill="#3a5a4a" fill-opacity="0.35"/>
<circle cx="362.15" cy="55.8" r="0.55" fill="#3a5a4a" fill-opacity="0.35"/>
<circle cx="362.55" cy="53.19" r="0.55" fill="#3a5a4a" fill-opacity="0.35"/>
<circle cx="361.07" cy="53.17" r="0.55" fill="#3a5a4a" fill-opacity="0.35"/>
<circle cx="360.03" cy="55.21" r="0.55" fill="#3a5a4a" fill-opacity="0.35"/>
<circle cx="361.08" cy="54.37" r="0.55" fill="#3a5a4a" fill-opacity="0.35"/>
<circle cx="361.74" cy="56.98" r="0.55" fill="#3a5a4a" fill-opacity="0.35"/>
<circle cx="360.73" cy="52.85" r="0.55" fill="#3a5a4a" fill-opacity="0.35"/>
<circle cx="361.13" cy="57.83" r="0.55" fill="#3a5a4a" fill-opacity="0.35"/>
<circle cx="360.4" cy="51.16" r="0.55" fill="#3a5a4a" fill-opacity="0.35"/>
<circle cx="361.29" cy="50.74" r="0.55" fill="#3a5a4a" fill-opacity="0.35"/>
<circle cx="360.69" cy="56.26" r="0.55" fill="#3a5a4a" fill-opacity="0.35"/>
<circle cx="361.95" cy="56.23" r="0.55" fill="#3a5a4a" fill-opacity="0.35"/>
<circle cx="361.14" cy="50.4" r="0.55" fill="#3a5a4a" fill-opacity="0.35"/>
<circle cx="361.5" cy="52.02" r="0.55" fill="#3a5a4a" fill-opacity="0.35"/>
<circle cx="359.73" cy="50.45" r="0.55" fill="#3a5a4a" fill-opacity="0.35"/>
<circle cx="360.53" cy="55.37" r="0.55" fill="#3a5a4a" fill-opacity="0.35"/>
<circle cx="360.65" cy="53.64" r="0.55" fill="#3a5a4a" fill-opacity="0.35"/>
<circle cx="360.7" cy="51.3" r="0.55" fill="#3a5a4a" fill-opacity="0.35"/>
<circle cx="360.04" cy="49.99" r="0.55" fill="#3a5a4a" fill-opacity="0.35"/>
<circle cx="358.52" cy="55.45" r="0.55" fill="#c8d890" fill-opacity="0.3"/>
<circle cx="357.36" cy="50.44" r="0.55" fill="#c8d890" fill-opacity="0.3"/>
<circle cx="359.29" cy="54.47" r="0.55" fill="#c8d890" fill-opacity="0.3"/>
<circle cx="358.89" cy="48.4" r="0.55" fill="#c8d890" fill-opacity="0.3"/>
<circle cx="357.51" cy="55.32" r="0.55" fill="#c8d890" fill-opacity="0.3"/>
<circle cx="356.56" cy="49.01" r="0.55" fill="#c8d890" fill-opacity="0.3"/>
<circle cx="359.53" cy="53.13" r="0.55" fill="#c8d890" fill-opacity="0.3"/>
<circle cx="358.29" cy="50.24" r="0.55" fill="#c8d890" fill-opacity="0.3"/>
<circle cx="357.48" cy="50.66" r="0.55" fill="#c8d890" fill-opacity="0.3"/>
<circle cx="357.59" cy="52.82" r="0.55" fill="#c8d890" fill-opacity="0.3"/>
<circle cx="363.26" cy="97.05" r="0.55" fill="#5860a8" fill-opacity="0.22"/>
<circle cx="365.54" cy="94.39" r="0.55" fill="#5860a8" fill-opacity="0.22"/>
<circle cx="364.39" cy="94.79" r="0.55" fill="#5860a8" fill-opacity="0.22"/>
<circle cx="361.42" cy="99.11" r="0.55" fill="#5860a8" fill-opacity="0.22"/>
<circle cx="362.66" cy="102.81" r="0.55" fill="#5860a8" fill-opacity="0.22"/>
<circle cx="363.69" cy="95.69" r="0.55" fill="#5860a8" fill-opacity="0.22"/>
<circle cx="365.11" cy="95.04" r="0.55" fill="#5860a8" fill-opacity="0.22"/>
<circle cx="364.86" cy="96.74" r="0.55" fill="#5860a8" fill-opacity="0.22"/>
<circle cx="365.17" cy="90.85" r="0.55" fill="#5860a8" fill-opacity="0.22"/>
<circle cx="363.8" cy="99.93" r="0.55" fill="#5860a8" fill-opacity="0.22"/>
<circle cx="363.8" cy="99.54" r="0.55" fill="#5860a8" fill-opacity="0.22"/>
<circle cx="364.07" cy="94.24" r="0.55" fill="#5860a8" fill-opacity="0.22"/>
<circle cx="365.28" cy="93.68" r="0.55" fill="#5860a8" fill-opacity="0.22"/>
<circle cx="360.67" cy="104.33" r="0.55" fill="#5860a8" fill-opacity="0.22"/>
<circle cx="365.3" cy="95.37" r="0.55" fill="#5860a8" fill-opacity="0.22"/>
<circle cx="364.42" cy="92.89" r="0.55" fill="#5860a8" fill-opacity="0.22"/>
<circle cx="365.67" cy="91.08" r="0.55" fill="#5860a8" fill-opacity="0.22"/>
<circle cx="362.56" cy="102.12" r="0.55" fill="#5860a8" fill-opacity="0.22"/>
<circle cx="363.68" cy="99.25" r="0.55" fill="#5860a8" fill-opacity="0.22"/>
<circle cx="362.19" cy="102.16" r="0.55" fill="#5860a8" fill-opacity="0.22"/>
<circle cx="365.17" cy="93.85" r="0.55" fill="#5860a8" fill-opacity="0.22"/>
<circle cx="363.76" cy="100.6" r="0.55" fill="#5860a8" fill-opacity="0.22"/>
<circle cx="362.1" cy="101.98" r="0.55" fill="#5860a8" fill-opacity="0.22"/>
<circle cx="364.74" cy="96.92" r="0.55" fill="#5860a8" fill-opacity="0.22"/>
<circle cx="367.23" cy="92.97" r="0.55" fill="#5860a8" fill-opacity="0.22"/>
<circle cx="363.69" cy="101.11" r="0.55" fill="#5860a8" fill-opacity="0.22"/>
<circle cx="366.48" cy="93.08" r="0.55" fill="#5860a8" fill-opacity="0.22"/>
<circle cx="362.48" cy="98.93" r="0.55" fill="#5860a8" fill-opacity="0.22"/>
<circle cx="362.7" cy="101.47" r="0.55" fill="#5860a8" fill-opacity="0.22"/>
<circle cx="363.4" cy="98.59" r="0.55" fill="#5860a8" fill-opacity="0.22"/>
<circle cx="366.54" cy="90.4" r="0.55" fill="#5860a8" fill-opacity="0.22"/>
<circle cx="365.96" cy="90.77" r="0.55" fill="#5860a8" fill-opacity="0.22"/>
<circle cx="360.37" cy="103.41" r="0.55" fill="#5860a8" fill-opacity="0.22"/>
<circle cx="366.37" cy="91.05" r="0.55" fill="#5860a8" fill-opacity="0.22"/>
<circle cx="366.89" cy="90.73" r="0.55" fill="#5860a8" fill-opacity="0.22"/>
<circle cx="365.49" cy="91.55" r="0.55" fill="#5860a8" fill-opacity="0.22"/>
<circle cx="363.16" cy="104.3" r="0.55" fill="#5860a8" fill-opacity="0.22"/>
<circle cx="362.38" cy="98.11" r="0.55" fill="#5860a8" fill-opacity="0.22"/>
<circle cx="362.53" cy="101.28" r="0.55" fill="#5860a8" fill-opacity="0.22"/>
<circle cx="364.28" cy="96.25" r="0.55" fill="#5860a8" fill-opacity="0.22"/>
<circle cx="362.73" cy="99.33" r="0.55" fill="#5860a8" fill-opacity="0.22"/>
<circle cx="366.32" cy="91.99" r="0.55" fill="#5860a8" fill-opacity="0.22"/>
<circle cx="366.87" cy="89.96" r="0.55" fill="#5860a8" fill-opacity="0.22"/>
<circle cx="365.88" cy="96.24" r="0.55" fill="#5860a8" fill-opacity="0.22"/>
<circle cx="363.12" cy="99.21" r="0.55" fill="#5860a8" fill-opacity="0.22"/>
<circle cx="364.26" cy="96.33" r="0.55" fill="#5860a8" fill-opacity="0.22"/>
<circle cx="365.29" cy="90.2" r="0.55" fill="#5860a8" fill-opacity="0.22"/>
<circle cx="364.59" cy="91.88" r="0.55" fill="#5860a8" fill-opacity="0.22"/>
<circle cx="361.69" cy="100.47" r="0.55" fill="#5860a8" fill-opacity="0.22"/>
<circle cx="361.95" cy="104.32" r="0.55" fill="#5860a8" fill-opacity="0.22"/>
<circle cx="362.59" cy="100.39" r="0.55" fill="#5860a8" fill-opacity="0.22"/>
<circle cx="362.82" cy="98.08" r="0.55" fill="#5860a8" fill-opacity="0.22"/>
<circle cx="366.6" cy="90.69" r="0.55" fill="#5860a8" fill-opacity="0.22"/>
<circle cx="362.38" cy="103.37" r="0.55" fill="#5860a8" fill-opacity="0.22"/>
<circle cx="364.25" cy="93.58" r="0.55" fill="#5860a8" fill-opacity="0.22"/>
<circle cx="362.26" cy="96.77" r="0.55" fill="#5860a8" fill-opacity="0.22"/>
<circle cx="365.92" cy="91.63" r="0.55" fill="#5860a8" fill-opacity="0.22"/>
<circle cx="362.09" cy="101.52" r="0.55" fill="#5860a8" fill-opacity="0.22"/>
<circle cx="363.03" cy="96.61" r="0.55" fill="#5860a8" fill-opacity="0.22"/>
<circle cx="362.11" cy="101.72" r="0.55" fill="#5860a8" fill-opacity="0.22"/>
<circle cx="362.78" cy="100.87" r="0.55" fill="#5860a8" fill-opacity="0.22"/>
<circle cx="360.44" cy="100.91" r="0.55" fill="#5860a8" fill-opacity="0.22"/>
<circle cx="363.99" cy="98.11" r="0.55" fill="#5860a8" fill-opacity="0.22"/>
<circle cx="365.03" cy="94.18" r="0.55" fill="#5860a8" fill-opacity="0.22"/>
<circle cx="364.38" cy="95.23" r="0.55" fill="#5860a8" fill-opacity="0.22"/>
<circle cx="366.8" cy="90.48" r="0.55" fill="#5860a8" fill-opacity="0.22"/>
<circle cx="362.6" cy="104.58" r="0.55" fill="#5860a8" fill-opacity="0.22"/>
<circle cx="365.04" cy="94.86" r="0.55" fill="#5860a8" fill-opacity="0.22"/>
<circle cx="365.06" cy="91.24" r="0.55" fill="#5860a8" fill-opacity="0.22"/>
<circle cx="365.7" cy="92.18" r="0.55" fill="#5860a8" fill-opacity="0.22"/>
<circle cx="363.79" cy="94.6" r="0.55" fill="#5860a8" fill-opacity="0.22"/>
<circle cx="363.43" cy="98.97" r="0.55" fill="#5860a8" fill-opacity="0.22"/>
<circle cx="361.28" cy="99.37" r="0.55" fill="#5860a8" fill-opacity="0.22"/>
<circle cx="362.96" cy="101.01" r="0.55" fill="#5860a8" fill-opacity="0.22"/>
<circle cx="365.06" cy="94.58" r="0.55" fill="#5860a8" fill-opacity="0.22"/>
<circle cx="362.45" cy="99.8" r="0.55" fill="#5860a8" fill-opacity="0.22"/>
<circle cx="362.11" cy="103.62" r="0.55" fill="#5860a8" fill-opacity="0.22"/>
<circle cx="363.76" cy="95.43" r="0.55" fill="#5860a8" fill-opacity="0.22"/>
<circle cx="361.57" cy="100.63" r="0.55" fill="#5860a8" fill-opacity="0.22"/>
<circle cx="361.73" cy="101.95" r="0.55" fill="#5860a8" fill-opacity="0.22"/>
<circle cx="361.9" cy="98.95" r="0.55" fill="#5860a8" fill-opacity="0.22"/>
<circle cx="365.4" cy="95.34" r="0.55" fill="#5860a8" fill-opacity="0.22"/>
<circle cx="363.5" cy="99.99" r="0.55" fill="#5860a8" fill-opacity="0.22"/>
<circle cx="364.16" cy="101.02" r="0.55" fill="#5860a8" fill-opacity="0.22"/>
<circle cx="363.75" cy="96.77" r="0.55" fill="#5860a8" fill-opacity="0.22"/>
<circle cx="365.31" cy="90.9" r="0.55" fill="#5860a8" fill-opacity="0.22"/>
<circle cx="359.79" cy="103.34" r="0.55" fill="#5860a8" fill-opacity="0.22"/>
<circle cx="367.13" cy="91.06" r="0.55" fill="#5860a8" fill-opacity="0.22"/>
<circle cx="362.51" cy="98.42" r="0.55" fill="#5860a8" fill-opacity="0.22"/>
<circle cx="360.41" cy="99.46" r="0.55" fill="#5860a8" fill-opacity="0.22"/>
<circle cx="359.88" cy="102.47" r="0.55" fill="#5860a8" fill-opacity="0.22"/>
<circle cx="366.48" cy="89.96" r="0.55" fill="#5860a8" fill-opacity="0.22"/>
<circle cx="367.26" cy="89.69" r="0.55" fill="#5860a8" fill-opacity="0.22"/>
<circle cx="362.14" cy="102.78" r="0.55" fill="#5860a8" fill-opacity="0.22"/>
<circle cx="364.68" cy="89.22" r="0.55" fill="#5860a8" fill-opacity="0.22"/>
<circle cx="362.03" cy="100.94" r="0.55" fill="#5860a8" fill-opacity="0.22"/>
<circle cx="364.24" cy="96.46" r="0.55" fill="#5860a8" fill-opacity="0.22"/>
<circle cx="362.2" cy="102.2" r="0.55" fill="#5860a8" fill-opacity="0.22"/>
<circle cx="363.49" cy="96.56" r="0.55" fill="#5860a8" fill-opacity="0.22"/>
<circle cx="362.04" cy="98.29" r="0.55" fill="#5860a8" fill-opacity="0.22"/>
<circle cx="359.75" cy="102.77" r="0.55" fill="#5860a8" fill-opacity="0.22"/>
<circle cx="361.46" cy="103.02" r="0.55" fill="#5860a8" fill-opacity="0.22"/>
<circle cx="363.03" cy="94.59" r="0.55" fill="#5860a8" fill-opacity="0.22"/>
<circle cx="361.58" cy="100.01" r="0.55" fill="#5860a8" fill-opacity="0.22"/>
<circle cx="362.78" cy="96.75" r="0.55" fill="#5860a8" fill-opacity="0.22"/>
<circle cx="364.72" cy="97.62" r="0.55" fill="#5860a8" fill-opacity="0.22"/>
<circle cx="363.84" cy="98.26" r="0.55" fill="#5860a8" fill-opacity="0.22"/>
<circle cx="364.71" cy="92.46" r="0.55" fill="#5860a8" fill-opacity="0.22"/>
<circle cx="363.99" cy="97.21" r="0.55" fill="#5860a8" fill-opacity="0.22"/>
<circle cx="364.23" cy="98.1" r="0.55" fill="#5860a8" fill-opacity="0.22"/>
<circle cx="365.11" cy="96.69" r="0.55" fill="#5860a8" fill-opacity="0.22"/>
<circle cx="361.28" cy="101.13" r="0.55" fill="#5860a8" fill-opacity="0.22"/>
<circle cx="364.87" cy="96.7" r="0.55" fill="#5860a8" fill-opacity="0.22"/>
<circle cx="363.57" cy="98.18" r="0.55" fill="#5860a8" fill-opacity="0.22"/>
<circle cx="367.26" cy="91.11" r="0.55" fill="#5860a8" fill-opacity="0.22"/>
<circle cx="366.41" cy="94.3" r="0.55" fill="#5860a8" fill-opacity="0.22"/>
<circle cx="365.74" cy="96.05" r="0.55" fill="#5860a8" fill-opacity="0.22"/>
<circle cx="362.43" cy="99.39" r="0.55" fill="#5860a8" fill-opacity="0.22"/>
<circle cx="360.41" cy="104.3" r="0.55" fill="#5860a8" fill-opacity="0.22"/>
<circle cx="362.48" cy="101.16" r="0.55" fill="#5860a8" fill-opacity="0.22"/>
<circle cx="366.18" cy="92.65" r="0.55" fill="#5860a8" fill-opacity="0.22"/>
<circle cx="366.25" cy="90.92" r="0.55" fill="#5860a8" fill-opacity="0.22"/>
<circle cx="363.67" cy="96.65" r="0.55" fill="#5860a8" fill-opacity="0.22"/>
<circle cx="363.18" cy="103.16" r="0.55" fill="#5860a8" fill-opacity="0.22"/>
<circle cx="365.2" cy="93.45" r="0.55" fill="#5860a8" fill-opacity="0.22"/>
<circle cx="366.19" cy="93" r="0.55" fill="#5860a8" fill-opacity="0.22"/>
<circle cx="363.27" cy="95.94" r="0.55" fill="#5860a8" fill-opacity="0.22"/>
<circle cx="362.33" cy="94.72" r="0.55" fill="#5860a8" fill-opacity="0.22"/>
<circle cx="362.91" cy="102.37" r="0.55" fill="#5860a8" fill-opacity="0.22"/>
<circle cx="363.39" cy="97.37" r="0.55" fill="#5860a8" fill-opacity="0.22"/>
<circle cx="365.65" cy="88.72" r="0.55" fill="#5860a8" fill-opacity="0.22"/>
<circle cx="364.65" cy="92.74" r="0.55" fill="#5860a8" fill-opacity="0.22"/>
<circle cx="366.77" cy="93.37" r="0.55" fill="#5860a8" fill-opacity="0.22"/>
<circle cx="360.64" cy="98.1" r="0.55" fill="#5860a8" fill-opacity="0.22"/>
<circle cx="363.8" cy="94.51" r="0.55" fill="#5860a8" fill-opacity="0.22"/>
<circle cx="361.54" cy="104.09" r="0.55" fill="#5860a8" fill-opacity="0.22"/>
<circle cx="363.35" cy="95.23" r="0.55" fill="#5860a8" fill-opacity="0.22"/>
<circle cx="366.39" cy="91.07" r="0.55" fill="#5860a8" fill-opacity="0.22"/>
<circle cx="364.66" cy="94.21" r="0.55" fill="#5860a8" fill-opacity="0.22"/>
<circle cx="363.65" cy="99.23" r="0.55" fill="#5860a8" fill-opacity="0.22"/>
<circle cx="361.14" cy="100" r="0.55" fill="#5860a8" fill-opacity="0.22"/>
<circle cx="361.36" cy="100.18" r="0.55" fill="#5860a8" fill-opacity="0.22"/>
<circle cx="362.4" cy="101.7" r="0.55" fill="#5860a8" fill-opacity="0.22"/>
<circle cx="362.94" cy="102.53" r="0.55" fill="#5860a8" fill-opacity="0.22"/>
<circle cx="365.99" cy="89.99" r="0.55" fill="#5860a8" fill-opacity="0.22"/>
<circle cx="363.82" cy="100.14" r="0.55" fill="#5860a8" fill-opacity="0.22"/>
<circle cx="363.29" cy="96.67" r="0.55" fill="#5860a8" fill-opacity="0.22"/>
<circle cx="364.87" cy="96.75" r="0.55" fill="#5860a8" fill-opacity="0.22"/>
<circle cx="362.6" cy="100.11" r="0.55" fill="#5860a8" fill-opacity="0.22"/>
<circle cx="363.34" cy="96.42" r="0.55" fill="#5860a8" fill-opacity="0.22"/>
<circle cx="361.35" cy="102.98" r="0.55" fill="#5860a8" fill-opacity="0.22"/>
<circle cx="364.52" cy="95.55" r="0.55" fill="#5860a8" fill-opacity="0.22"/>
<circle cx="361.22" cy="100.3" r="0.55" fill="#5860a8" fill-opacity="0.22"/>
<circle cx="364.76" cy="93.83" r="0.55" fill="#5860a8" fill-opacity="0.22"/>
<circle cx="362.61" cy="99.64" r="0.55" fill="#5860a8" fill-opacity="0.22"/>
<circle cx="366.2" cy="89.19" r="0.55" fill="#5860a8" fill-opacity="0.22"/>
<circle cx="361.91" cy="102.6" r="0.55" fill="#5860a8" fill-opacity="0.22"/>
<circle cx="363.5" cy="95.98" r="0.55" fill="#5860a8" fill-opacity="0.22"/>
<circle cx="362.79" cy="101.04" r="0.55" fill="#5860a8" fill-opacity="0.22"/>
<circle cx="360.4" cy="104.78" r="0.55" fill="#5860a8" fill-opacity="0.22"/>
<circle cx="365.67" cy="92.34" r="0.55" fill="#5860a8" fill-opacity="0.22"/>
<circle cx="361.5" cy="99.67" r="0.55" fill="#5860a8" fill-opacity="0.22"/>
<circle cx="364.6" cy="92.06" r="0.55" fill="#5860a8" fill-opacity="0.22"/>
<circle cx="365.18" cy="94.23" r="0.55" fill="#5860a8" fill-opacity="0.22"/>
<circle cx="366.57" cy="90.87" r="0.55" fill="#5860a8" fill-opacity="0.22"/>
<circle cx="362.21" cy="98.17" r="0.55" fill="#5860a8" fill-opacity="0.22"/>
<circle cx="364.19" cy="94.54" r="0.55" fill="#5860a8" fill-opacity="0.22"/>
<circle cx="362.95" cy="101.14" r="0.55" fill="#5860a8" fill-opacity="0.22"/>
<circle cx="363.97" cy="93.22" r="0.55" fill="#5860a8" fill-opacity="0.22"/>
<circle cx="364.6" cy="89.66" r="0.55" fill="#5860a8" fill-opacity="0.22"/>
<circle cx="365.47" cy="92.74" r="0.55" fill="#5860a8" fill-opacity="0.22"/>
<circle cx="364.25" cy="92.78" r="0.55" fill="#5860a8" fill-opacity="0.22"/>
<circle cx="361.89" cy="100.55" r="0.55" fill="#5860a8" fill-opacity="0.22"/>
<circle cx="366.15" cy="90.51" r="0.55" fill="#5860a8" fill-opacity="0.22"/>
<circle cx="362.37" cy="102.02" r="0.55" fill="#5860a8" fill-opacity="0.22"/>
<circle cx="362.05" cy="101.92" r="0.55" fill="#5860a8" fill-opacity="0.22"/>
<circle cx="363.83" cy="92.52" r="0.55" fill="#5860a8" fill-opacity="0.22"/>
<circle cx="366.21" cy="93.46" r="0.55" fill="#5860a8" fill-opacity="0.22"/>
<circle cx="363.72" cy="96.95" r="0.55" fill="#5860a8" fill-opacity="0.22"/>
<circle cx="367.65" cy="91.4" r="0.55" fill="#5860a8" fill-opacity="0.22"/>
<circle cx="366.45" cy="90.13" r="0.55" fill="#5860a8" fill-opacity="0.22"/>
<circle cx="362.32" cy="101.08" r="0.55" fill="#5860a8" fill-opacity="0.22"/>
<circle cx="366.17" cy="90.04" r="0.55" fill="#5860a8" fill-opacity="0.22"/>
<circle cx="365.01" cy="91.05" r="0.55" fill="#5860a8" fill-opacity="0.22"/>
<circle cx="362.86" cy="103.42" r="0.55" fill="#5860a8" fill-opacity="0.22"/>
<circle cx="361.71" cy="101.83" r="0.55" fill="#5860a8" fill-opacity="0.22"/>
<circle cx="361.08" cy="104.46" r="0.55" fill="#5860a8" fill-opacity="0.22"/>
<circle cx="364.37" cy="93.88" r="0.55" fill="#5860a8" fill-opacity="0.22"/>
<circle cx="364.45" cy="89.5" r="0.55" fill="#5860a8" fill-opacity="0.22"/>
<circle cx="365.36" cy="94.92" r="0.55" fill="#5860a8" fill-opacity="0.22"/>
<circle cx="363.53" cy="96.59" r="0.55" fill="#5860a8" fill-opacity="0.22"/>
<circle cx="364.23" cy="93.27" r="0.55" fill="#5860a8" fill-opacity="0.22"/>
<circle cx="367.22" cy="92.02" r="0.55" fill="#5860a8" fill-opacity="0.22"/>
<circle cx="362.58" cy="101.45" r="0.55" fill="#5860a8" fill-opacity="0.22"/>
<circle cx="365.28" cy="92.55" r="0.55" fill="#5860a8" fill-opacity="0.22"/>
<circle cx="362.01" cy="96.73" r="0.55" fill="#5860a8" fill-opacity="0.22"/>
<circle cx="361.14" cy="101.26" r="0.55" fill="#5860a8" fill-opacity="0.22"/>
<circle cx="365.42" cy="93.8" r="0.55" fill="#5860a8" fill-opacity="0.22"/>
<circle cx="362.88" cy="101.18" r="0.55" fill="#5860a8" fill-opacity="0.22"/>
<circle cx="364.78" cy="97.39" r="0.55" fill="#5860a8" fill-opacity="0.22"/>
<circle cx="361.79" cy="101.36" r="0.55" fill="#5860a8" fill-opacity="0.22"/>
<circle cx="364.71" cy="91.55" r="0.55" fill="#5860a8" fill-opacity="0.22"/>
<circle cx="361.63" cy="99.21" r="0.55" fill="#5860a8" fill-opacity="0.22"/>
<circle cx="361.64" cy="102.57" r="0.55" fill="#5860a8" fill-opacity="0.22"/>
<circle cx="361.96" cy="102.95" r="0.55" fill="#5860a8" fill-opacity="0.22"/>
<circle cx="362.33" cy="97.84" r="0.55" fill="#5860a8" fill-opacity="0.22"/>
<circle cx="361.15" cy="100.78" r="0.55" fill="#5860a8" fill-opacity="0.22"/>
<circle cx="365.18" cy="91.31" r="0.55" fill="#5860a8" fill-opacity="0.22"/>
<circle cx="362.66" cy="99.26" r="0.55" fill="#5860a8" fill-opacity="0.22"/>
<circle cx="364.82" cy="90.02" r="0.55" fill="#5860a8" fill-opacity="0.22"/>
<circle cx="360.42" cy="102.07" r="0.55" fill="#5860a8" fill-opacity="0.22"/>
<circle cx="364.93" cy="96.07" r="0.55" fill="#5860a8" fill-opacity="0.22"/>
<circle cx="365.92" cy="91.34" r="0.55" fill="#5860a8" fill-opacity="0.22"/>
<circle cx="362.13" cy="97.73" r="0.55" fill="#5860a8" fill-opacity="0.22"/>
<circle cx="362.25" cy="102.28" r="0.55" fill="#5860a8" fill-opacity="0.22"/>
<circle cx="362.24" cy="99.02" r="0.55" fill="#5860a8" fill-opacity="0.22"/>
<circle cx="363.77" cy="101.48" r="0.55" fill="#5860a8" fill-opacity="0.22"/>
<circle cx="366.96" cy="94.52" r="0.55" fill="#5860a8" fill-opacity="0.22"/>
<circle cx="359.52" cy="104.29" r="0.55" fill="#5860a8" fill-opacity="0.22"/>
<circle cx="365.27" cy="91.07" r="0.55" fill="#5860a8" fill-opacity="0.22"/>
<circle cx="360.31" cy="106.21" r="0.5" fill="#334" fill-opacity="0.3"/>
<circle cx="360.4" cy="106.45" r="0.5" fill="#334" fill-opacity="0.3"/>
<circle cx="361.23" cy="103.92" r="0.5" fill="#334" fill-opacity="0.3"/>
<circle cx="360.8" cy="103.5" r="0.5" fill="#334" fill-opacity="0.3"/>
<circle cx="359.87" cy="106.49" r="0.5" fill="#334" fill-opacity="0.3"/>
<circle cx="362.39" cy="101.72" r="0.5" fill="#334" fill-opacity="0.3"/>
<circle cx="361.43" cy="102.78" r="0.5" fill="#334" fill-opacity="0.3"/>
<circle cx="360.36" cy="104.95" r="0.5" fill="#334" fill-opacity="0.3"/>
<circle cx="361.57" cy="100.69" r="0.5" fill="#334" fill-opacity="0.3"/>
<circle cx="361.28" cy="102.05" r="0.5" fill="#334" fill-opacity="0.3"/>
<circle cx="360.59" cy="105.3" r="0.5" fill="#334" fill-opacity="0.3"/>
<circle cx="361.24" cy="103.71" r="0.5" fill="#334" fill-opacity="0.3"/>
<circle cx="361.57" cy="103.59" r="0.5" fill="#334" fill-opacity="0.3"/>
<circle cx="360.69" cy="103.93" r="0.5" fill="#334" fill-opacity="0.3"/>
<circle cx="362.03" cy="102.44" r="0.5" fill="#334" fill-opacity="0.3"/>
<circle cx="361.74" cy="102.18" r="0.5" fill="#334" fill-opacity="0.3"/>
<circle cx="361.39" cy="104.05" r="0.5" fill="#334" fill-opacity="0.3"/>
<circle cx="361.91" cy="104.54" r="0.5" fill="#334" fill-opacity="0.3"/>
<circle cx="362.08" cy="100.44" r="0.5" fill="#334" fill-opacity="0.3"/>
<circle cx="360.51" cy="103.16" r="0.5" fill="#334" fill-opacity="0.3"/>
<circle cx="360.56" cy="103.04" r="0.5" fill="#334" fill-opacity="0.3"/>
<circle cx="360.07" cy="104.61" r="0.5" fill="#334" fill-opacity="0.3"/>
<circle cx="360.29" cy="105.77" r="0.5" fill="#334" fill-opacity="0.3"/>
<circle cx="363.15" cy="103.1" r="0.5" fill="#334" fill-opacity="0.3"/>
<circle cx="361.34" cy="105.32" r="0.5" fill="#334" fill-opacity="0.3"/>
<circle cx="361.62" cy="104.85" r="0.5" fill="#334" fill-opacity="0.3"/>
<circle cx="360.87" cy="104.11" r="0.5" fill="#334" fill-opacity="0.3"/>
<circle cx="360.82" cy="106.85" r="0.5" fill="#334" fill-opacity="0.3"/>
<circle cx="361.93" cy="100.41" r="0.5" fill="#334" fill-opacity="0.3"/>
<circle cx="361.68" cy="101.85" r="0.5" fill="#334" fill-opacity="0.3"/>
<circle cx="360.51" cy="105.89" r="0.5" fill="#334" fill-opacity="0.3"/>
<circle cx="360.83" cy="103.07" r="0.5" fill="#334" fill-opacity="0.3"/>
<circle cx="361.11" cy="106.07" r="0.5" fill="#334" fill-opacity="0.3"/>
<circle cx="362.06" cy="101.89" r="0.5" fill="#334" fill-opacity="0.3"/>
<circle cx="360.96" cy="104.98" r="0.5" fill="#334" fill-opacity="0.3"/>
<circle cx="360.59" cy="106.51" r="0.5" fill="#334" fill-opacity="0.3"/>
<circle cx="362.06" cy="101.77" r="0.5" fill="#334" fill-opacity="0.3"/>
<circle cx="360.29" cy="106.14" r="0.5" fill="#334" fill-opacity="0.3"/>
<circle cx="359.92" cy="107.5" r="0.5" fill="#334" fill-opacity="0.3"/>
<circle cx="360.39" cy="106.69" r="0.5" fill="#334" fill-opacity="0.3"/>
<circle cx="360.5" cy="103.9" r="0.5" fill="#334" fill-opacity="0.3"/>
<circle cx="361.97" cy="104.59" r="0.5" fill="#334" fill-opacity="0.3"/>
<circle cx="360.76" cy="106.39" r="0.5" fill="#334" fill-opacity="0.3"/>
<circle cx="362.68" cy="102.6" r="0.5" fill="#334" fill-opacity="0.3"/>
<circle cx="361.67" cy="102.94" r="0.5" fill="#334" fill-opacity="0.3"/>
<circle cx="362.13" cy="100.01" r="0.5" fill="#334" fill-opacity="0.3"/>
<circle cx="360.53" cy="107.53" r="0.5" fill="#334" fill-opacity="0.3"/>
<circle cx="361.74" cy="102.07" r="0.5" fill="#334" fill-opacity="0.3"/>
<circle cx="362.35" cy="100.42" r="0.5" fill="#334" fill-opacity="0.3"/>
<circle cx="361.41" cy="100.21" r="0.5" fill="#334" fill-opacity="0.3"/>
<circle cx="362.5" cy="102" r="0.5" fill="#334" fill-opacity="0.3"/>
<circle cx="362.4" cy="102.16" r="0.5" fill="#334" fill-opacity="0.3"/>
<circle cx="361.29" cy="103.11" r="0.5" fill="#334" fill-opacity="0.3"/>
<circle cx="361.76" cy="100.78" r="0.5" fill="#334" fill-opacity="0.3"/>
<circle cx="361.03" cy="106.66" r="0.5" fill="#334" fill-opacity="0.3"/>
<circle cx="359.82" cy="107.6" r="0.5" fill="#334" fill-opacity="0.3"/>
<circle cx="360.48" cy="104.08" r="0.5" fill="#334" fill-opacity="0.3"/>
<circle cx="363.31" cy="101.14" r="0.5" fill="#334" fill-opacity="0.3"/>
<circle cx="360.35" cy="103.92" r="0.5" fill="#334" fill-opacity="0.3"/>
<circle cx="361.66" cy="101.72" r="0.5" fill="#334" fill-opacity="0.3"/>
<circle cx="363.16" cy="100.7" r="0.5" fill="#334" fill-opacity="0.3"/>
<circle cx="362.4" cy="103.06" r="0.5" fill="#334" fill-opacity="0.3"/>
<circle cx="362.19" cy="102.32" r="0.5" fill="#334" fill-opacity="0.3"/>
<circle cx="361.76" cy="100.1" r="0.5" fill="#334" fill-opacity="0.3"/>
<circle cx="363.18" cy="101.02" r="0.5" fill="#334" fill-opacity="0.3"/>
<circle cx="360.93" cy="104.01" r="0.5" fill="#334" fill-opacity="0.3"/>
<circle cx="360.19" cy="105.19" r="0.5" fill="#334" fill-opacity="0.3"/>
<circle cx="362.08" cy="102.46" r="0.5" fill="#334" fill-opacity="0.3"/>
<circle cx="360" cy="104.25" r="0.5" fill="#334" fill-opacity="0.3"/>
<circle cx="361.02" cy="105.12" r="0.5" fill="#334" fill-opacity="0.3"/>
<circle cx="361.16" cy="104.68" r="0.5" fill="#334" fill-opacity="0.3"/>
<circle cx="361.84" cy="99.32" r="0.5" fill="#334" fill-opacity="0.3"/>
<circle cx="360.62" cy="105.81" r="0.5" fill="#334" fill-opacity="0.3"/>
<circle cx="360.77" cy="102.52" r="0.5" fill="#334" fill-opacity="0.3"/>
<circle cx="359.89" cy="106.45" r="0.5" fill="#334" fill-opacity="0.3"/>
<circle cx="361.85" cy="103.79" r="0.5" fill="#334" fill-opacity="0.3"/>
<circle cx="360.51" cy="109.21" r="0.5" fill="#334" fill-opacity="0.3"/>
<circle cx="360.94" cy="102.24" r="0.5" fill="#334" fill-opacity="0.3"/>
<circle cx="361.64" cy="100.18" r="0.5" fill="#334" fill-opacity="0.3"/>
<circle cx="361.3" cy="102.22" r="0.5" fill="#334" fill-opacity="0.3"/>
<circle cx="359.81" cy="113.86" r="0.55" fill="#2f5f4f" fill-opacity="0.35"/>
<circle cx="359.57" cy="109.63" r="0.55" fill="#2f5f4f" fill-opacity="0.35"/>
<circle cx="360.69" cy="106.64" r="0.55" fill="#2f5f4f" fill-opacity="0.35"/>
<circle cx="359.22" cy="115.33" r="0.55" fill="#2f5f4f" fill-opacity="0.35"/>
<circle cx="359.79" cy="113.82" r="0.55" fill="#2f5f4f" fill-opacity="0.35"/>
<circle cx="359.29" cy="108.05" r="0.55" fill="#2f5f4f" fill-opacity="0.35"/>
<circle cx="358.62" cy="108.56" r="0.55" fill="#2f5f4f" fill-opacity="0.35"/>
<circle cx="360.45" cy="116.45" r="0.55" fill="#2f5f4f" fill-opacity="0.35"/>
<circle cx="360.44" cy="105.38" r="0.55" fill="#2f5f4f" fill-opacity="0.35"/>
<circle cx="360.22" cy="111.11" r="0.55" fill="#2f5f4f" fill-opacity="0.35"/>
<circle cx="358.79" cy="104.79" r="0.55" fill="#2f5f4f" fill-opacity="0.35"/>
<circle cx="360.38" cy="116.09" r="0.55" fill="#2f5f4f" fill-opacity="0.35"/>
<circle cx="360.35" cy="109.96" r="0.55" fill="#2f5f4f" fill-opacity="0.35"/>
<circle cx="359.59" cy="106.86" r="0.55" fill="#2f5f4f" fill-opacity="0.35"/>
<circle cx="359.36" cy="103.74" r="0.55" fill="#2f5f4f" fill-opacity="0.35"/>
<circle cx="360.8" cy="117.31" r="0.55" fill="#2f5f4f" fill-opacity="0.35"/>
<circle cx="360.62" cy="105.8" r="0.55" fill="#2f5f4f" fill-opacity="0.35"/>
<circle cx="359.48" cy="106.7" r="0.55" fill="#2f5f4f" fill-opacity="0.35"/>
<circle cx="359.67" cy="103.56" r="0.55" fill="#2f5f4f" fill-opacity="0.35"/>
<circle cx="359.55" cy="114.83" r="0.55" fill="#2f5f4f" fill-opacity="0.35"/>
<circle cx="359.37" cy="111.42" r="0.55" fill="#2f5f4f" fill-opacity="0.35"/>
<circle cx="359.55" cy="117.93" r="0.55" fill="#2f5f4f" fill-opacity="0.35"/>
<circle cx="359.69" cy="113.33" r="0.55" fill="#2f5f4f" fill-opacity="0.35"/>
<circle cx="359.68" cy="112.2" r="0.55" fill="#2f5f4f" fill-opacity="0.35"/>
<circle cx="359.48" cy="107.63" r="0.55" fill="#2f5f4f" fill-opacity="0.35"/>
<circle cx="359.34" cy="115.21" r="0.55" fill="#2f5f4f" fill-opacity="0.35"/>
<circle cx="358.87" cy="108.44" r="0.55" fill="#2f5f4f" fill-opacity="0.35"/>
<circle cx="360.33" cy="113.79" r="0.55" fill="#2f5f4f" fill-opacity="0.35"/>
<circle cx="358.93" cy="107.94" r="0.55" fill="#2f5f4f" fill-opacity="0.35"/>
<circle cx="358.62" cy="110.24" r="0.55" fill="#2f5f4f" fill-opacity="0.35"/>
<circle cx="359.79" cy="115.4" r="0.55" fill="#2f5f4f" fill-opacity="0.35"/>
<circle cx="361.28" cy="108.5" r="0.55" fill="#2f5f4f" fill-opacity="0.35"/>
<circle cx="359.86" cy="112.59" r="0.55" fill="#2f5f4f" fill-opacity="0.35"/>
<circle cx="360.87" cy="111.69" r="0.55" fill="#2f5f4f" fill-opacity="0.35"/>
<circle cx="359.29" cy="112.51" r="0.55" fill="#2f5f4f" fill-opacity="0.35"/>
<circle cx="358.83" cy="116.29" r="0.55" fill="#2f5f4f" fill-opacity="0.35"/>
<circle cx="360.57" cy="111.05" r="0.55" fill="#2f5f4f" fill-opacity="0.35"/>
<circle cx="360.08" cy="107.69" r="0.55" fill="#2f5f4f" fill-opacity="0.35"/>
<circle cx="358.44" cy="108.83" r="0.55" fill="#2f5f4f" fill-opacity="0.35"/>
<circle cx="360.87" cy="115.88" r="0.55" fill="#2f5f4f" fill-opacity="0.35"/>
<circle cx="360.19" cy="113.88" r="0.55" fill="#2f5f4f" fill-opacity="0.35"/>
<circle cx="360.28" cy="106.54" r="0.55" fill="#2f5f4f" fill-opacity="0.35"/>
<circle cx="360.12" cy="112.57" r="0.55" fill="#2f5f4f" fill-opacity="0.35"/>
<circle cx="358.33" cy="104.69" r="0.55" fill="#2f5f4f" fill-opacity="0.35"/>
<circle cx="359.52" cy="104.98" r="0.55" fill="#2f5f4f" fill-opacity="0.35"/>
<circle cx="358.7" cy="106.39" r="0.55" fill="#2f5f4f" fill-opacity="0.35"/>
<circle cx="359.69" cy="110.57" r="0.55" fill="#2f5f4f" fill-opacity="0.35"/>
<circle cx="359.78" cy="113.01" r="0.55" fill="#2f5f4f" fill-opacity="0.35"/>
<circle cx="359.93" cy="104.01" r="0.55" fill="#2f5f4f" fill-opacity="0.35"/>
<circle cx="358.21" cy="106.31" r="0.55" fill="#2f5f4f" fill-opacity="0.35"/>
<circle cx="358.8" cy="115.4" r="0.55" fill="#2f5f4f" fill-opacity="0.35"/>
<circle cx="359.73" cy="112.09" r="0.55" fill="#2f5f4f" fill-opacity="0.35"/>
<circle cx="359.32" cy="105.72" r="0.55" fill="#2f5f4f" fill-opacity="0.35"/>
<circle cx="358.87" cy="111.82" r="0.55" fill="#2f5f4f" fill-opacity="0.35"/>
<circle cx="361.82" cy="106.6" r="0.55" fill="#2f5f4f" fill-opacity="0.35"/>
<circle cx="360.32" cy="109.48" r="0.55" fill="#2f5f4f" fill-opacity="0.35"/>
<circle cx="360.1" cy="115.02" r="0.55" fill="#2f5f4f" fill-opacity="0.35"/>
<circle cx="359.39" cy="108.47" r="0.55" fill="#2f5f4f" fill-opacity="0.35"/>
<circle cx="360.9" cy="104.35" r="0.55" fill="#2f5f4f" fill-opacity="0.35"/>
<circle cx="359.05" cy="110.1" r="0.55" fill="#2f5f4f" fill-opacity="0.35"/>
<circle cx="358.06" cy="114.89" r="0.55" fill="#2f5f4f" fill-opacity="0.35"/>
<circle cx="360.33" cy="112.34" r="0.55" fill="#2f5f4f" fill-opacity="0.35"/>
<circle cx="359.98" cy="107.41" r="0.55" fill="#2f5f4f" fill-opacity="0.35"/>
<circle cx="359.71" cy="106.46" r="0.55" fill="#2f5f4f" fill-opacity="0.35"/>
<circle cx="360.09" cy="110.68" r="0.55" fill="#2f5f4f" fill-opacity="0.35"/>
<circle cx="359.81" cy="116.18" r="0.55" fill="#2f5f4f" fill-opacity="0.35"/>
<circle cx="359.28" cy="111.99" r="0.55" fill="#2f5f4f" fill-opacity="0.35"/>
<circle cx="359.56" cy="117.37" r="0.55" fill="#2f5f4f" fill-opacity="0.35"/>
<circle cx="360.57" cy="112.05" r="0.55" fill="#2f5f4f" fill-opacity="0.35"/>
<circle cx="359.15" cy="109.24" r="0.55" fill="#2f5f4f" fill-opacity="0.35"/>
<circle cx="360.09" cy="116.53" r="0.55" fill="#2f5f4f" fill-opacity="0.35"/>
<circle cx="359.48" cy="105.15" r="0.55" fill="#2f5f4f" fill-opacity="0.35"/>
<circle cx="360.69" cy="114.98" r="0.55" fill="#2f5f4f" fill-opacity="0.35"/>
<circle cx="359.75" cy="103.54" r="0.55" fill="#2f5f4f" fill-opacity="0.35"/>
<circle cx="359.8" cy="112.39" r="0.55" fill="#2f5f4f" fill-opacity="0.35"/>
<circle cx="359.57" cy="104.23" r="0.55" fill="#2f5f4f" fill-opacity="0.35"/>
<circle cx="359.29" cy="113.69" r="0.55" fill="#2f5f4f" fill-opacity="0.35"/>
<circle cx="360.06" cy="114.23" r="0.55" fill="#2f5f4f" fill-opacity="0.35"/>
<circle cx="360.1" cy="107.91" r="0.55" fill="#2f5f4f" fill-opacity="0.35"/>
<circle cx="359.55" cy="106.58" r="0.55" fill="#2f5f4f" fill-opacity="0.35"/>
<circle cx="360.68" cy="112.9" r="0.55" fill="#2f5f4f" fill-opacity="0.35"/>
<circle cx="361.08" cy="106.9" r="0.55" fill="#2f5f4f" fill-opacity="0.35"/>
<circle cx="360.81" cy="106.3" r="0.55" fill="#2f5f4f" fill-opacity="0.35"/>
<circle cx="360.08" cy="116.14" r="0.55" fill="#2f5f4f" fill-opacity="0.35"/>
<circle cx="360.72" cy="104.68" r="0.55" fill="#2f5f4f" fill-opacity="0.35"/>
<circle cx="358.95" cy="112.36" r="0.55" fill="#2f5f4f" fill-opacity="0.35"/>
<circle cx="358.61" cy="114.84" r="0.55" fill="#2f5f4f" fill-opacity="0.35"/>
<circle cx="359.56" cy="106.09" r="0.55" fill="#2f5f4f" fill-opacity="0.35"/>
<circle cx="359.2" cy="113.15" r="0.55" fill="#2f5f4f" fill-opacity="0.35"/>
<circle cx="359.51" cy="116.04" r="0.55" fill="#2f5f4f" fill-opacity="0.35"/>
<circle cx="357.09" cy="103.07" r="0.55" fill="#c8d890" fill-opacity="0.3"/>
<circle cx="357.86" cy="104.15" r="0.55" fill="#c8d890" fill-opacity="0.3"/>
<circle cx="357.71" cy="102.96" r="0.55" fill="#c8d890" fill-opacity="0.3"/>
<circle cx="359.38" cy="110.38" r="0.55" fill="#c8d890" fill-opacity="0.3"/>
<circle cx="357.82" cy="107.57" r="0.55" fill="#c8d890" fill-opacity="0.3"/>
<circle cx="357.35" cy="103.4" r="0.55" fill="#c8d890" fill-opacity="0.3"/>
<circle cx="360.24" cy="103.48" r="0.55" fill="#c8d890" fill-opacity="0.3"/>
<circle cx="358.3" cy="109.63" r="0.55" fill="#c8d890" fill-opacity="0.3"/>
<circle cx="358.94" cy="109.42" r="0.55" fill="#c8d890" fill-opacity="0.3"/>
<circle cx="357.52" cy="102.92" r="0.55" fill="#c8d890" fill-opacity="0.3"/>
<circle cx="357.45" cy="108.44" r="0.55" fill="#c8d890" fill-opacity="0.3"/>
<circle cx="357.68" cy="99.17" r="0.55" fill="#c8d890" fill-opacity="0.3"/>
<circle cx="355.69" cy="102.56" r="0.55" fill="#c8d890" fill-opacity="0.3"/>
<circle cx="356.94" cy="101.99" r="0.55" fill="#c8d890" fill-opacity="0.3"/>
<circle cx="357.47" cy="100.55" r="0.55" fill="#c8d890" fill-opacity="0.3"/>
<circle cx="426.73" cy="52.91" r="0.5" fill="#556" fill-opacity="0.5"/>
<circle cx="426.02" cy="54.45" r="0.5" fill="#556" fill-opacity="0.5"/>
<circle cx="425.78" cy="52.21" r="0.5" fill="#556" fill-opacity="0.5"/>
<circle cx="426.15" cy="55.05" r="0.5" fill="#556" fill-opacity="0.5"/>
<circle cx="426.43" cy="51.65" r="0.5" fill="#556" fill-opacity="0.5"/>
<circle cx="427.53" cy="55.26" r="0.5" fill="#556" fill-opacity="0.5"/>
<circle cx="427.15" cy="52.34" r="0.5" fill="#556" fill-opacity="0.5"/>
<circle cx="427.81" cy="54.1" r="0.5" fill="#556" fill-opacity="0.5"/>
<circle cx="426.83" cy="53.57" r="0.5" fill="#556" fill-opacity="0.5"/>
<circle cx="426.78" cy="52.24" r="0.5" fill="#556" fill-opacity="0.5"/>
<circle cx="425.94" cy="53.24" r="0.5" fill="#556" fill-opacity="0.5"/>
<circle cx="425.85" cy="51.94" r="0.5" fill="#556" fill-opacity="0.5"/>
<circle cx="427.19" cy="54.72" r="0.5" fill="#556" fill-opacity="0.5"/>
<circle cx="426.85" cy="54.87" r="0.5" fill="#556" fill-opacity="0.5"/>
<circle cx="429.24" cy="97.62" r="0.55" fill="#8890c0" fill-opacity="0.2"/>
<circle cx="429.3" cy="100.85" r="0.55" fill="#8890c0" fill-opacity="0.2"/>
<circle cx="428.38" cy="98.45" r="0.55" fill="#8890c0" fill-opacity="0.2"/>
<circle cx="431.98" cy="98.47" r="0.55" fill="#8890c0" fill-opacity="0.2"/>
<circle cx="428.57" cy="101.37" r="0.55" fill="#8890c0" fill-opacity="0.2"/>
<circle cx="428.59" cy="100.54" r="0.55" fill="#8890c0" fill-opacity="0.2"/>
<circle cx="427.7" cy="101.57" r="0.55" fill="#8890c0" fill-opacity="0.2"/>
<circle cx="426.61" cy="102.15" r="0.55" fill="#8890c0" fill-opacity="0.2"/>
<circle cx="429.47" cy="97.89" r="0.55" fill="#8890c0" fill-opacity="0.2"/>
<circle cx="430.92" cy="94.91" r="0.55" fill="#8890c0" fill-opacity="0.2"/>
<circle cx="426.93" cy="101.94" r="0.55" fill="#8890c0" fill-opacity="0.2"/>
<circle cx="429.28" cy="101.12" r="0.55" fill="#8890c0" fill-opacity="0.2"/>
<circle cx="426.55" cy="100.79" r="0.55" fill="#8890c0" fill-opacity="0.2"/>
<circle cx="426.75" cy="101.02" r="0.55" fill="#8890c0" fill-opacity="0.2"/>
<circle cx="429.13" cy="99.64" r="0.55" fill="#8890c0" fill-opacity="0.2"/>
<circle cx="427.54" cy="100.33" r="0.55" fill="#8890c0" fill-opacity="0.2"/>
<circle cx="427.9" cy="99.58" r="0.55" fill="#8890c0" fill-opacity="0.2"/>
<circle cx="430.26" cy="96.57" r="0.55" fill="#8890c0" fill-opacity="0.2"/>
<circle cx="426.51" cy="100.98" r="0.55" fill="#8890c0" fill-opacity="0.2"/>
<circle cx="432.13" cy="94.9" r="0.55" fill="#8890c0" fill-opacity="0.2"/>
<circle cx="431.92" cy="95.73" r="0.55" fill="#8890c0" fill-opacity="0.2"/>
<circle cx="431.96" cy="94.11" r="0.55" fill="#8890c0" fill-opacity="0.2"/>
<circle cx="428.61" cy="98.57" r="0.55" fill="#8890c0" fill-opacity="0.2"/>
<circle cx="430.49" cy="98.63" r="0.55" fill="#8890c0" fill-opacity="0.2"/>
<circle cx="430.01" cy="98.52" r="0.55" fill="#8890c0" fill-opacity="0.2"/>
<circle cx="431.73" cy="92.19" r="0.55" fill="#8890c0" fill-opacity="0.2"/>
<circle cx="430.71" cy="95.56" r="0.55" fill="#8890c0" fill-opacity="0.2"/>
<circle cx="432.3" cy="95.31" r="0.55" fill="#8890c0" fill-opacity="0.2"/>
<circle cx="428.25" cy="99.96" r="0.55" fill="#8890c0" fill-opacity="0.2"/>
<circle cx="430.78" cy="97.55" r="0.55" fill="#8890c0" fill-opacity="0.2"/>
<circle cx="427.55" cy="100.62" r="0.55" fill="#8890c0" fill-opacity="0.2"/>
<circle cx="431.12" cy="95.19" r="0.55" fill="#8890c0" fill-opacity="0.2"/>
<circle cx="430.97" cy="98" r="0.55" fill="#8890c0" fill-opacity="0.2"/>
<circle cx="430.62" cy="94.33" r="0.55" fill="#8890c0" fill-opacity="0.2"/>
<circle cx="428.87" cy="98.69" r="0.55" fill="#8890c0" fill-opacity="0.2"/>
<circle cx="428.5" cy="102.44" r="0.55" fill="#8890c0" fill-opacity="0.2"/>
<circle cx="428.97" cy="99.99" r="0.55" fill="#8890c0" fill-opacity="0.2"/>
<circle cx="426.2" cy="101.72" r="0.55" fill="#8890c0" fill-opacity="0.2"/>
<circle cx="428.76" cy="96.95" r="0.55" fill="#8890c0" fill-opacity="0.2"/>
<circle cx="428.06" cy="100.22" r="0.55" fill="#8890c0" fill-opacity="0.2"/>
<circle cx="428.92" cy="97.41" r="0.55" fill="#8890c0" fill-opacity="0.2"/>
<circle cx="428.77" cy="100.84" r="0.55" fill="#8890c0" fill-opacity="0.2"/>
<circle cx="428.66" cy="99.19" r="0.55" fill="#8890c0" fill-opacity="0.2"/>
<circle cx="426.47" cy="104.32" r="0.55" fill="#8890c0" fill-opacity="0.2"/>
<circle cx="427.47" cy="100.49" r="0.55" fill="#8890c0" fill-opacity="0.2"/>
<circle cx="426.73" cy="109.37" r="0.55" fill="#445" fill-opacity="0.35"/>
<circle cx="426.53" cy="115.48" r="0.55" fill="#445" fill-opacity="0.35"/>
<circle cx="426.2" cy="116.55" r="0.55" fill="#445" fill-opacity="0.35"/>
<circle cx="425.13" cy="111.08" r="0.55" fill="#445" fill-opacity="0.35"/>
<circle cx="426.33" cy="109.06" r="0.55" fill="#445" fill-opacity="0.35"/>
<circle cx="426.73" cy="115.39" r="0.55" fill="#445" fill-opacity="0.35"/>
<circle cx="425.74" cy="109.37" r="0.55" fill="#445" fill-opacity="0.35"/>
<circle cx="426.79" cy="115.44" r="0.55" fill="#445" fill-opacity="0.35"/>
<circle cx="426.32" cy="113.68" r="0.55" fill="#445" fill-opacity="0.35"/>
<circle cx="426.48" cy="110.63" r="0.55" fill="#445" fill-opacity="0.35"/>
<circle cx="427.44" cy="117.99" r="0.55" fill="#445" fill-opacity="0.35"/>
<circle cx="426.09" cy="105.13" r="0.55" fill="#445" fill-opacity="0.35"/>
<circle cx="427.14" cy="111.76" r="0.55" fill="#445" fill-opacity="0.35"/>
<circle cx="426.51" cy="109.63" r="0.55" fill="#445" fill-opacity="0.35"/>
<circle cx="425.75" cy="113.82" r="0.55" fill="#445" fill-opacity="0.35"/>
<circle cx="426.13" cy="110.92" r="0.55" fill="#445" fill-opacity="0.35"/>
<circle cx="425.55" cy="110.45" r="0.55" fill="#445" fill-opacity="0.35"/>
<circle cx="426.48" cy="108.54" r="0.55" fill="#445" fill-opacity="0.35"/>
<circle cx="425.83" cy="112.15" r="0.55" fill="#445" fill-opacity="0.35"/>
<circle cx="426.71" cy="110.37" r="0.55" fill="#445" fill-opacity="0.35"/>
<circle cx="427.63" cy="113.8" r="0.55" fill="#445" fill-opacity="0.35"/>
<circle cx="426.9" cy="108.77" r="0.55" fill="#445" fill-opacity="0.35"/>
<circle cx="426.69" cy="118.21" r="0.55" fill="#445" fill-opacity="0.35"/>
<circle cx="426.67" cy="116.94" r="0.55" fill="#445" fill-opacity="0.35"/>
<circle cx="424.71" cy="112.81" r="0.55" fill="#445" fill-opacity="0.35"/>
<circle cx="423.96" cy="114.68" r="0.55" fill="#445" fill-opacity="0.35"/>
<circle cx="425.2" cy="112.09" r="0.55" fill="#445" fill-opacity="0.35"/>
<circle cx="425.61" cy="111.41" r="0.55" fill="#445" fill-opacity="0.35"/>
<circle cx="427.17" cy="109.88" r="0.55" fill="#445" fill-opacity="0.35"/>
<circle cx="426.81" cy="112.7" r="0.55" fill="#445" fill-opacity="0.35"/>
<circle cx="425.35" cy="110.47" r="0.55" fill="#445" fill-opacity="0.35"/>
<circle cx="427.23" cy="116.38" r="0.55" fill="#445" fill-opacity="0.35"/>
<circle cx="424.57" cy="109.64" r="0.55" fill="#445" fill-opacity="0.35"/>
<circle cx="424.91" cy="109.88" r="0.55" fill="#445" fill-opacity="0.35"/>
<circle cx="425.28" cy="109.81" r="0.55" fill="#445" fill-opacity="0.35"/>
<circle cx="426.08" cy="115.89" r="0.55" fill="#445" fill-opacity="0.35"/>
<circle cx="425.97" cy="115.53" r="0.55" fill="#445" fill-opacity="0.35"/>
<circle cx="427.05" cy="117.41" r="0.55" fill="#445" fill-opacity="0.35"/>
<circle cx="425.87" cy="108.69" r="0.55" fill="#445" fill-opacity="0.35"/>
<circle cx="426.42" cy="112.47" r="0.55" fill="#445" fill-opacity="0.35"/>
<circle cx="425.79" cy="113.17" r="0.55" fill="#445" fill-opacity="0.35"/>
<circle cx="426.36" cy="117.77" r="0.55" fill="#445" fill-opacity="0.35"/>
<circle cx="426.35" cy="110.35" r="0.55" fill="#445" fill-opacity="0.35"/>
<circle cx="426.94" cy="114.3" r="0.55" fill="#445" fill-opacity="0.35"/>
<circle cx="425.53" cy="115.57" r="0.55" fill="#445" fill-opacity="0.35"/>
<circle cx="425.21" cy="108.37" r="0.55" fill="#445" fill-opacity="0.35"/>
<circle cx="425.61" cy="108.51" r="0.55" fill="#445" fill-opacity="0.35"/>
<circle cx="425.86" cy="117.64" r="0.55" fill="#445" fill-opacity="0.35"/>
<circle cx="426.71" cy="108.44" r="0.55" fill="#445" fill-opacity="0.35"/>
<circle cx="426.4" cy="107.53" r="0.55" fill="#445" fill-opacity="0.35"/>
<circle cx="426.69" cy="111.41" r="0.55" fill="#445" fill-opacity="0.35"/>
<circle cx="426.51" cy="115.72" r="0.55" fill="#445" fill-opacity="0.35"/>
<circle cx="425.9" cy="116.24" r="0.55" fill="#445" fill-opacity="0.35"/>
<circle cx="426.44" cy="110.73" r="0.55" fill="#445" fill-opacity="0.35"/>
<circle cx="426.81" cy="106.67" r="0.55" fill="#445" fill-opacity="0.35"/>
<circle cx="425.52" cy="110.4" r="0.55" fill="#445" fill-opacity="0.35"/>
<circle cx="426.74" cy="106.07" r="0.55" fill="#445" fill-opacity="0.35"/>
<circle cx="425.58" cy="117.88" r="0.55" fill="#445" fill-opacity="0.35"/>
<circle cx="427.68" cy="109.43" r="0.55" fill="#445" fill-opacity="0.35"/>
<circle cx="425.83" cy="117.63" r="0.55" fill="#445" fill-opacity="0.35"/>
<circle cx="426.09" cy="116.69" r="0.55" fill="#445" fill-opacity="0.35"/>
<circle cx="424.77" cy="117.57" r="0.55" fill="#445" fill-opacity="0.35"/>
<circle cx="425.26" cy="109.63" r="0.55" fill="#445" fill-opacity="0.35"/>
<circle cx="425.59" cy="109.99" r="0.55" fill="#445" fill-opacity="0.35"/>
<circle cx="426.38" cy="111.31" r="0.55" fill="#445" fill-opacity="0.35"/>
<circle cx="425.8" cy="108.43" r="0.55" fill="#445" fill-opacity="0.35"/>
<circle cx="426.26" cy="118.53" r="0.55" fill="#445" fill-opacity="0.35"/>
<circle cx="425.38" cy="107.23" r="0.55" fill="#445" fill-opacity="0.35"/>
<circle cx="426.53" cy="110.98" r="0.55" fill="#445" fill-opacity="0.35"/>
<circle cx="426.1" cy="116.33" r="0.55" fill="#445" fill-opacity="0.35"/>
<circle cx="425.99" cy="108.8" r="0.55" fill="#445" fill-opacity="0.35"/>
<circle cx="425.69" cy="105.87" r="0.55" fill="#445" fill-opacity="0.35"/>
<circle cx="425.99" cy="107.57" r="0.55" fill="#445" fill-opacity="0.35"/>
<circle cx="426.32" cy="108.92" r="0.55" fill="#445" fill-opacity="0.35"/>
<circle cx="426.87" cy="110.24" r="0.55" fill="#445" fill-opacity="0.35"/>
<circle cx="425.4" cy="108.81" r="0.55" fill="#445" fill-opacity="0.35"/>
<circle cx="426.65" cy="110.4" r="0.55" fill="#445" fill-opacity="0.35"/>
<circle cx="425.97" cy="117.4" r="0.55" fill="#445" fill-opacity="0.35"/>
<circle cx="426.97" cy="112.24" r="0.55" fill="#445" fill-opacity="0.35"/>
<circle cx="426.88" cy="108.58" r="0.55" fill="#445" fill-opacity="0.35"/>
<rect x="351" y="13.4" width="50.6" height="50.6" fill="none" stroke="#555" stroke-width="0.9" />
<line x1="349.8" y1="24.53" x2="351" y2="24.53" stroke="#333" stroke-width="0.6" />
<text x="349.2" y="25.83" font-size="3.6" text-anchor="end" fill="#555" stroke="#555" >300K</text>
<line x1="349.8" y1="37.44" x2="351" y2="37.44" stroke="#333" stroke-width="0.6" />
<text x="349.2" y="38.73" font-size="3.6" text-anchor="end" fill="#555" stroke="#555" >200K</text>
<line x1="349.8" y1="50.34" x2="351" y2="50.34" stroke="#333" stroke-width="0.6" />
<text x="349.2" y="51.64" font-size="3.6" text-anchor="end" fill="#555" stroke="#555" >100K</text>
<line x1="349.8" y1="63.24" x2="351" y2="63.24" stroke="#333" stroke-width="0.6" />
<text x="349.2" y="64.54" font-size="3.6" text-anchor="end" fill="#555" stroke="#555" >0</text>
<line x1="352.01" y1="64" x2="352.01" y2="65.2" stroke="#333" stroke-width="0.6" />
<text x="352.01" y="68.6" font-size="3.5" text-anchor="middle" fill="#555" stroke="#555" >0</text>
<line x1="361.12" y1="64" x2="361.12" y2="65.2" stroke="#333" stroke-width="0.6" />
<text x="361.12" y="68.6" font-size="3.5" text-anchor="middle" fill="#555" stroke="#555" >50K</text>
<line x1="370.73" y1="64" x2="370.73" y2="65.2" stroke="#333" stroke-width="0.6" />
<text x="370.73" y="68.6" font-size="3.5" text-anchor="middle" fill="#555" stroke="#555" >100K</text>
<line x1="380.35" y1="64" x2="380.35" y2="65.2" stroke="#333" stroke-width="0.6" />
<text x="380.35" y="68.6" font-size="3.5" text-anchor="middle" fill="#555" stroke="#555" >150K</text>
<line x1="390.47" y1="64" x2="390.47" y2="65.2" stroke="#333" stroke-width="0.6" />
<text x="390.47" y="68.6" font-size="3.5" text-anchor="middle" fill="#555" stroke="#555" >200K</text>
<line x1="399.58" y1="64" x2="399.58" y2="65.2" stroke="#333" stroke-width="0.6" />
<text x="399.58" y="68.6" font-size="3.5" text-anchor="middle" fill="#555" stroke="#555" >250K</text>
<line x1="351" y1="50.5" x2="401.6" y2="50.5" stroke="#444" stroke-width="0.9" />
<line x1="361" y1="22.9" x2="361" y2="57.5" stroke="#7a7a7a" stroke-width="1.1" />
<text x="354.8" y="22.1" font-size="6.2" textLength="10.2" lengthAdjust="spacingAndGlyphs" >10.7</text>
<text x="399.4" y="22.1" font-size="6.2" text-anchor="end" textLength="10.6" lengthAdjust="spacingAndGlyphs" >11.9</text>
<text x="354.8" y="62.2" font-size="6.2" textLength="10.2" lengthAdjust="spacingAndGlyphs" >77.1</text>
<text x="399.4" y="62.2" font-size="6.2" text-anchor="end" textLength="10.6" lengthAdjust="spacingAndGlyphs" >0.28</text>
<rect x="416.6" y="14.2" width="51.1" height="50" fill="none" stroke="#555" stroke-width="0.9" />
<line x1="415.4" y1="25.2" x2="416.6" y2="25.2" stroke="#333" stroke-width="0.6" />
<text x="414.8" y="26.5" font-size="3.6" text-anchor="end" fill="#555" stroke="#555" >300K</text>
<line x1="415.4" y1="37.95" x2="416.6" y2="37.95" stroke="#333" stroke-width="0.6" />
<text x="414.8" y="39.25" font-size="3.6" text-anchor="end" fill="#555" stroke="#555" >200K</text>
<line x1="415.4" y1="50.7" x2="416.6" y2="50.7" stroke="#333" stroke-width="0.6" />
<text x="414.8" y="52" font-size="3.6" text-anchor="end" fill="#555" stroke="#555" >100K</text>
<line x1="415.4" y1="63.45" x2="416.6" y2="63.45" stroke="#333" stroke-width="0.6" />
<text x="414.8" y="64.75" font-size="3.6" text-anchor="end" fill="#555" stroke="#555" >0</text>
<line x1="417.62" y1="64.2" x2="417.62" y2="65.4" stroke="#333" stroke-width="0.6" />
<text x="417.62" y="68.8" font-size="3.5" text-anchor="middle" fill="#555" stroke="#555" >0</text>
<line x1="426.82" y1="64.2" x2="426.82" y2="65.4" stroke="#333" stroke-width="0.6" />
<text x="426.82" y="68.8" font-size="3.5" text-anchor="middle" fill="#555" stroke="#555" >50K</text>
<line x1="436.53" y1="64.2" x2="436.53" y2="65.4" stroke="#333" stroke-width="0.6" />
<text x="436.53" y="68.8" font-size="3.5" text-anchor="middle" fill="#555" stroke="#555" >100K</text>
<line x1="446.24" y1="64.2" x2="446.24" y2="65.4" stroke="#333" stroke-width="0.6" />
<text x="446.24" y="68.8" font-size="3.5" text-anchor="middle" fill="#555" stroke="#555" >150K</text>
<line x1="456.46" y1="64.2" x2="456.46" y2="65.4" stroke="#333" stroke-width="0.6" />
<text x="456.46" y="68.8" font-size="3.5" text-anchor="middle" fill="#555" stroke="#555" >200K</text>
<line x1="465.66" y1="64.2" x2="465.66" y2="65.4" stroke="#333" stroke-width="0.6" />
<text x="465.66" y="68.8" font-size="3.5" text-anchor="middle" fill="#555" stroke="#555" >250K</text>
<line x1="416.6" y1="51" x2="467.7" y2="51" stroke="#444" stroke-width="0.9" />
<line x1="426.5" y1="23.7" x2="426.5" y2="57.7" stroke="#7a7a7a" stroke-width="1.1" />
<text x="420.4" y="22.9" font-size="6.2" textLength="10.2" lengthAdjust="spacingAndGlyphs" >3.06</text>
<text x="465.5" y="22.9" font-size="6.2" text-anchor="end" textLength="10.6" lengthAdjust="spacingAndGlyphs" >5.50</text>
<text x="420.4" y="62.4" font-size="6.2" textLength="10.2" lengthAdjust="spacingAndGlyphs" >91.1</text>
<text x="465.5" y="62.4" font-size="6.2" text-anchor="end" textLength="10.6" lengthAdjust="spacingAndGlyphs" >0.31</text>
<rect x="350.3" y="75.3" width="50.6" height="50.1" fill="none" stroke="#555" stroke-width="0.9" />
<line x1="349.1" y1="86.32" x2="350.3" y2="86.32" stroke="#333" stroke-width="0.6" />
<text x="348.5" y="87.62" font-size="3.6" text-anchor="end" fill="#555" stroke="#555" >300K</text>
<line x1="349.1" y1="99.1" x2="350.3" y2="99.1" stroke="#333" stroke-width="0.6" />
<text x="348.5" y="100.4" font-size="3.6" text-anchor="end" fill="#555" stroke="#555" >200K</text>
<line x1="349.1" y1="111.87" x2="350.3" y2="111.87" stroke="#333" stroke-width="0.6" />
<text x="348.5" y="113.17" font-size="3.6" text-anchor="end" fill="#555" stroke="#555" >100K</text>
<line x1="349.1" y1="124.65" x2="350.3" y2="124.65" stroke="#333" stroke-width="0.6" />
<text x="348.5" y="125.95" font-size="3.6" text-anchor="end" fill="#555" stroke="#555" >0</text>
<line x1="351.31" y1="125.4" x2="351.31" y2="126.6" stroke="#333" stroke-width="0.6" />
<text x="351.31" y="130" font-size="3.5" text-anchor="middle" fill="#555" stroke="#555" >0</text>
<line x1="360.42" y1="125.4" x2="360.42" y2="126.6" stroke="#333" stroke-width="0.6" />
<text x="360.42" y="130" font-size="3.5" text-anchor="middle" fill="#555" stroke="#555" >50K</text>
<line x1="370.03" y1="125.4" x2="370.03" y2="126.6" stroke="#333" stroke-width="0.6" />
<text x="370.03" y="130" font-size="3.5" text-anchor="middle" fill="#555" stroke="#555" >100K</text>
<line x1="379.65" y1="125.4" x2="379.65" y2="126.6" stroke="#333" stroke-width="0.6" />
<text x="379.65" y="130" font-size="3.5" text-anchor="middle" fill="#555" stroke="#555" >150K</text>
<line x1="389.77" y1="125.4" x2="389.77" y2="126.6" stroke="#333" stroke-width="0.6" />
<text x="389.77" y="130" font-size="3.5" text-anchor="middle" fill="#555" stroke="#555" >200K</text>
<line x1="398.88" y1="125.4" x2="398.88" y2="126.6" stroke="#333" stroke-width="0.6" />
<text x="398.88" y="130" font-size="3.5" text-anchor="middle" fill="#555" stroke="#555" >250K</text>
<line x1="350.3" y1="112.5" x2="400.9" y2="112.5" stroke="#444" stroke-width="0.9" />
<line x1="359.6" y1="84.8" x2="359.6" y2="118.9" stroke="#7a7a7a" stroke-width="1.1" />
<text x="354.1" y="84" font-size="6.2" textLength="10.2" lengthAdjust="spacingAndGlyphs" >63.4</text>
<text x="398.7" y="84" font-size="6.2" text-anchor="end" textLength="10.6" lengthAdjust="spacingAndGlyphs" >13.8</text>
<text x="354.1" y="123.6" font-size="6.2" textLength="10.2" lengthAdjust="spacingAndGlyphs" >22.4</text>
<text x="398.7" y="123.6" font-size="6.2" text-anchor="end" textLength="10.6" lengthAdjust="spacingAndGlyphs" >0.03</text>
<rect x="416.6" y="75.6" width="51.1" height="50.4" fill="none" stroke="#555" stroke-width="0.9" />
<line x1="415.4" y1="86.69" x2="416.6" y2="86.69" stroke="#333" stroke-width="0.6" />
<text x="414.8" y="87.99" font-size="3.6" text-anchor="end" fill="#555" stroke="#555" >300K</text>
<line x1="415.4" y1="99.54" x2="416.6" y2="99.54" stroke="#333" stroke-width="0.6" />
<text x="414.8" y="100.84" font-size="3.6" text-anchor="end" fill="#555" stroke="#555" >200K</text>
<line x1="415.4" y1="112.39" x2="416.6" y2="112.39" stroke="#333" stroke-width="0.6" />
<text x="414.8" y="113.69" font-size="3.6" text-anchor="end" fill="#555" stroke="#555" >100K</text>
<line x1="415.4" y1="125.24" x2="416.6" y2="125.24" stroke="#333" stroke-width="0.6" />
<text x="414.8" y="126.54" font-size="3.6" text-anchor="end" fill="#555" stroke="#555" >0</text>
<line x1="417.62" y1="126" x2="417.62" y2="127.2" stroke="#333" stroke-width="0.6" />
<text x="417.62" y="130.6" font-size="3.5" text-anchor="middle" fill="#555" stroke="#555" >0</text>
<line x1="426.82" y1="126" x2="426.82" y2="127.2" stroke="#333" stroke-width="0.6" />
<text x="426.82" y="130.6" font-size="3.5" text-anchor="middle" fill="#555" stroke="#555" >50K</text>
<line x1="436.53" y1="126" x2="436.53" y2="127.2" stroke="#333" stroke-width="0.6" />
<text x="436.53" y="130.6" font-size="3.5" text-anchor="middle" fill="#555" stroke="#555" >100K</text>
<line x1="446.24" y1="126" x2="446.24" y2="127.2" stroke="#333" stroke-width="0.6" />
<text x="446.24" y="130.6" font-size="3.5" text-anchor="middle" fill="#555" stroke="#555" >150K</text>
<line x1="456.46" y1="126" x2="456.46" y2="127.2" stroke="#333" stroke-width="0.6" />
<text x="456.46" y="130.6" font-size="3.5" text-anchor="middle" fill="#555" stroke="#555" >200K</text>
<line x1="465.66" y1="126" x2="465.66" y2="127.2" stroke="#333" stroke-width="0.6" />
<text x="465.66" y="130.6" font-size="3.5" text-anchor="middle" fill="#555" stroke="#555" >250K</text>
<line x1="416.6" y1="112.5" x2="467.7" y2="112.5" stroke="#444" stroke-width="0.9" />
<line x1="426" y1="85.1" x2="426" y2="119.5" stroke="#7a7a7a" stroke-width="1.1" />
<text x="420.4" y="84.3" font-size="6.2" textLength="10.2" lengthAdjust="spacingAndGlyphs" >52.8</text>
<text x="465.5" y="84.3" font-size="6.2" text-anchor="end" textLength="10.6" lengthAdjust="spacingAndGlyphs" >6.57</text>
<text x="420.4" y="124.2" font-size="6.2" textLength="10.2" lengthAdjust="spacingAndGlyphs" >40.6</text>
<text x="465.5" y="124.2" font-size="6.2" text-anchor="end" textLength="10.6" lengthAdjust="spacingAndGlyphs" >0.05</text>
<text x="478" y="45.2" font-size="7.2" transform="rotate(-90 478 45.2)" textLength="9.6" lengthAdjust="spacingAndGlyphs" >WT</text>
<text x="479.2" y="123" font-size="7" fill="#4a93aa" stroke="#4a93aa" transform="rotate(-90 479.2 123)" textLength="43.2" lengthAdjust="spacingAndGlyphs"><tspan font-style="italic">Vav</tspan><tspan dy="-2.66" font-size="4.34">Cre+</tspan><tspan dy="2.66"> Rxrab</tspan><tspan dy="-2.66" font-size="4.34">fl/fl</tspan></text>
<path d="M335.4,139 L335.4,106 M335.4,139 L373.5,139" stroke="#000" stroke-width="1.2" fill="none"/>
<path d="M332.7,107.2 L335.4,102.4 L338.1,107.2 Z M372.8,136.3 L377.4,139 L372.8,141.7 Z" fill="#000"/>
<text x="330.2" y="138.4" font-size="7.8" transform="rotate(-90 330.2 138.4)" textLength="26.5" lengthAdjust="spacingAndGlyphs" >Pyronin Y</text>
<text x="334" y="149.3" font-size="7.8" textLength="44.5" lengthAdjust="spacingAndGlyphs" >Hoechst33342</text>
<text x="0.4" y="196.8" font-size="10.8" font-weight="bold" fill="#000" stroke="#000" >C</text>
<text x="33.8" y="204.7" font-size="6" textLength="17.9" lengthAdjust="spacingAndGlyphs" >WT or</text>
<text x="34" y="214.6" font-size="6" fill="#4a93aa" stroke="#4a93aa" textLength="43.8" lengthAdjust="spacingAndGlyphs"><tspan font-style="italic">Vav</tspan><tspan dy="-2.28" font-size="3.72">Cre+</tspan><tspan dy="2.28" font-style="italic"> Rxrab</tspan><tspan dy="-2.28" font-size="3.72">fl/fl</tspan></text>
<path d="M72.8,236 C75.5,236 78.5,237.2 80.6,239.6 C82.2,241.8 82.2,246.5 80,249 C77.5,251.2 70,251.2 63.5,249.4 C60,248.4 57,247.2 54,245.9 C53.6,245.6 53.8,245 54.3,245.1 C57.2,246.3 60.3,247.5 63.8,248.4 C70,250 77,250.2 79.2,248.2 C81,246.2 81,242.2 79.6,240.2 C77.8,238.2 75.4,237 72.8,237 Z" fill="#f4f4f6" stroke="#8a8a8a" stroke-width="0.5"/>
<path d="M31.3,232.4 C32.5,229.5 34.5,226.5 37,224.7 C38.3,223.5 39.5,221.5 40.2,219.7 C40.8,218.6 41.6,218.3 42.2,218.5 C43.2,218.8 44,219.5 44.4,220.6 C45.5,221 46.8,221.2 47.8,221.6 C49.5,220.3 52,219.3 54.5,218.5 C56.5,217.8 58,217.4 59.2,217.4 C62,217.3 64.5,218.4 66.8,219.9 C69.3,221.4 71,223 71.9,224.7 C73.3,226.8 74,228.5 74.3,230.6 C74.6,232 74.7,233.5 74.5,234.8 C74.2,236 73.5,236.5 72.5,236.8 C71,237.5 69,238.5 67,239.2 C65.2,240.2 63.8,241.2 63.3,242.4 L58.3,242.9 C57.6,242 57.8,241 58.6,240.5 C56,239.2 53,237.8 50,237.6 C49,237.7 48,238.6 47.4,239.6 L46.2,241.9 L44,241.7 C44.5,240.6 45,239.6 45.3,238.6 C44.3,238.1 43,237.6 42,237.1 L39.6,240.9 L37,240.7 C38,239.5 39.4,237.6 40.2,235.9 C38,235.6 35,235.3 32.6,234.4 C31.8,233.9 31.2,233.2 31.3,232.4 Z" fill="#e9e9ee" stroke="#7a7a7a" stroke-width="0.5" stroke-linejoin="round"/>
<path d="M31.6,232.4 C32.8,229.6 34.8,226.8 37.2,225 C39.5,223.2 42.5,222 45.2,222.2 C47.8,222.6 48.6,226 47.6,229.2 C46.8,232 45,234.5 42.2,236.4 C39.5,235.6 35.5,235.2 32.8,234.2 C32,233.8 31.5,233.2 31.6,232.4 Z" fill="#f7f7f9" stroke="none"/>
<path d="M44.4,220.6 C44,222 44.5,224.8 46.4,226.6 C47.3,227.4 47.9,226 47.8,224.6 C47.7,223.2 47.5,222.2 47.8,221.6" fill="none" stroke="#666" stroke-width="0.45"/>
<path d="M48,229 C47.2,232.2 45.4,234.6 42,237.1" fill="none" stroke="#777" stroke-width="0.45"/>
<path d="M62,233 C65,234.8 66,237.6 63.3,240 C61.5,240.8 60,240.6 58.6,240.5" fill="none" stroke="#888" stroke-width="0.45"/>
<path d="M48.5,234.5 C47.8,236 46.8,237.3 45.3,238.6" fill="none" stroke="#888" stroke-width="0.45"/>
<ellipse cx="38.2" cy="240.5" rx="1.5" ry="0.75" fill="#4a4a4a"/>
<ellipse cx="45" cy="241.5" rx="1.4" ry="0.7" fill="#4a4a4a"/>
<ellipse cx="60.6" cy="242.4" rx="2" ry="0.75" fill="#4a4a4a"/>
<circle cx="37.7" cy="230.3" r="0.8" fill="#111"/>
<path d="M31.6,231.2 L27,228.2" stroke="#999" stroke-width="0.35"/>
<path d="M31.6,231.2 L26.6,231" stroke="#999" stroke-width="0.35"/>
<path d="M31.6,231.2 L27.4,233.8" stroke="#999" stroke-width="0.35"/>
<path d="M31.6,231.2 L28.6,226.6" stroke="#999" stroke-width="0.35"/>
<line x1="93.2" y1="237.2" x2="174.2" y2="237.2" stroke="#222" stroke-width="1.15" />
<path d="M172.7,235.3 L177.2,237.2 L172.7,239.1 Z" fill="#111"/>
<path d="M95.7,237.2 L95.7,234 M94.8,235 L95.7,234 L96.6,235" stroke="#222" stroke-width="0.5" fill="none"/>
<text x="95.7" y="246.9" font-size="7" text-anchor="middle" >0</text>
<text x="104.5" y="246.9" font-size="7" text-anchor="middle" >4</text>
<text x="116" y="246.9" font-size="7" text-anchor="middle" >7</text>
<text x="130.3" y="246.9" font-size="7" text-anchor="middle" >10</text>
<text x="142.5" y="246.9" font-size="7" text-anchor="middle" >14</text>
<text x="153.8" y="246.9" font-size="7" text-anchor="middle" >18</text>
<text x="165.5" y="246.9" font-size="7" text-anchor="middle" >20</text>
<text x="135" y="257.8" font-size="8.2" text-anchor="middle" textLength="13.5" lengthAdjust="spacingAndGlyphs" >Days</text>
<text x="96.3" y="222.3" font-size="7.2" text-anchor="middle" textLength="14.2" lengthAdjust="spacingAndGlyphs" >5-FU</text>
<text x="96.2" y="230.5" font-size="7" text-anchor="middle" textLength="34.8" lengthAdjust="spacingAndGlyphs" >(200 mg/gr)</text>
<text x="138.3" y="222.3" font-size="7.2" text-anchor="middle" textLength="8" lengthAdjust="spacingAndGlyphs" >PB</text>
<text x="138.6" y="230.5" font-size="7" text-anchor="middle" textLength="22.4" lengthAdjust="spacingAndGlyphs" >analysis</text>
<text x="191.7" y="235.9" font-size="7" text-anchor="middle" textLength="9.8" lengthAdjust="spacingAndGlyphs" >BM</text>
<text x="191.7" y="244.4" font-size="7" text-anchor="middle" textLength="22.2" lengthAdjust="spacingAndGlyphs" >analysis</text>
<path d="M300.26,178.24 C299.94,175.71 302.82,174.95 304.74,175.96 C305.7,176.72 304.42,178.74 303.27,180.26 C303.27,186.58 303.78,192.91 304.55,196.96 C305.83,198.73 304.1,201.01 302.5,199.74 C301.22,201.01 299.62,199.23 301.22,196.45 C301.99,192.91 301.54,186.58 301.22,180.77 Z" fill="#e4bb8a" stroke="#cf9a5c" stroke-width="0.75" stroke-linejoin="round"/>
<circle cx="363.7" cy="168.1" r="1.8" fill="#4a4a4a" stroke="none" stroke-width="0.3"/>
<text x="369" y="170.4" font-size="6.8" textLength="9.4" lengthAdjust="spacingAndGlyphs" >WT</text>
<rect x="387" y="166.6" width="3" height="3" fill="#4f8799" stroke="none" stroke-width="0.4" />
<text x="394.2" y="170.4" font-size="6.6" fill="#4a93aa" stroke="#4a93aa" textLength="42.5" lengthAdjust="spacingAndGlyphs"><tspan>Vav</tspan><tspan dy="-2.51" font-size="4.09">Cre+</tspan><tspan dy="2.51"> Rxrab</tspan><tspan dy="-2.51" font-size="4.09">fl/fl</tspan></text>
<rect x="329.8" y="254.61" width="5.6" height="13.39" fill="#a3a3a3" stroke="none" stroke-width="0.8" />
<rect x="338.5" y="229.62" width="5.5" height="38.38" fill="#96b4cb" stroke="none" stroke-width="0.8" />
<rect x="353.2" y="257.29" width="5.9" height="10.71" fill="#a3a3a3" stroke="none" stroke-width="0.8" />
<rect x="362.5" y="257.29" width="4.9" height="10.71" fill="#96b4cb" stroke="none" stroke-width="0.8" />
<rect x="376.4" y="209.09" width="5.9" height="58.91" fill="#a3a3a3" stroke="none" stroke-width="0.8" />
<rect x="385" y="240.33" width="5.7" height="27.67" fill="#96b4cb" stroke="none" stroke-width="0.8" />
<circle cx="330.36" cy="234.08" r="1.4" fill="#5c5c5c" stroke="#262626" stroke-width="0.55"/>
<circle cx="333.13" cy="241.22" r="1.4" fill="#5c5c5c" stroke="#262626" stroke-width="0.55"/>
<circle cx="331.42" cy="251.94" r="1.4" fill="#5c5c5c" stroke="#262626" stroke-width="0.55"/>
<circle cx="334.19" cy="255.5" r="1.4" fill="#5c5c5c" stroke="#262626" stroke-width="0.55"/>
<circle cx="332.47" cy="257.29" r="1.4" fill="#5c5c5c" stroke="#262626" stroke-width="0.55"/>
<circle cx="330.76" cy="259.07" r="1.4" fill="#5c5c5c" stroke="#262626" stroke-width="0.55"/>
<circle cx="333.53" cy="260.86" r="1.4" fill="#5c5c5c" stroke="#262626" stroke-width="0.55"/>
<circle cx="331.82" cy="263.54" r="1.4" fill="#5c5c5c" stroke="#262626" stroke-width="0.55"/>
<circle cx="334.59" cy="265.32" r="1.4" fill="#5c5c5c" stroke="#262626" stroke-width="0.55"/>
<line x1="332.6" y1="258.18" x2="332.6" y2="251.04" stroke="#333" stroke-width="0.7" />
<line x1="331.6" y1="251.04" x2="333.6" y2="251.04" stroke="#333" stroke-width="0.7" />
<line x1="331.6" y1="258.18" x2="333.6" y2="258.18" stroke="#333" stroke-width="0.7" />
<rect x="337.8" y="214.99" width="2.5" height="2.5" fill="#4b91ab" stroke="#2c6f88" stroke-width="0.45" />
<rect x="340.52" y="213.2" width="2.5" height="2.5" fill="#4b91ab" stroke="#2c6f88" stroke-width="0.45" />
<rect x="338.84" y="220.34" width="2.5" height="2.5" fill="#4b91ab" stroke="#2c6f88" stroke-width="0.45" />
<rect x="341.56" y="222.12" width="2.5" height="2.5" fill="#4b91ab" stroke="#2c6f88" stroke-width="0.45" />
<rect x="339.88" y="228.37" width="2.5" height="2.5" fill="#4b91ab" stroke="#2c6f88" stroke-width="0.45" />
<rect x="338.2" y="232.83" width="2.5" height="2.5" fill="#4b91ab" stroke="#2c6f88" stroke-width="0.45" />
<rect x="340.92" y="239.97" width="2.5" height="2.5" fill="#4b91ab" stroke="#2c6f88" stroke-width="0.45" />
<rect x="339.23" y="244.44" width="2.5" height="2.5" fill="#4b91ab" stroke="#2c6f88" stroke-width="0.45" />
<rect x="341.95" y="248.9" width="2.5" height="2.5" fill="#4b91ab" stroke="#2c6f88" stroke-width="0.45" />
<line x1="341.25" y1="234.98" x2="341.25" y2="224.27" stroke="#2f7a9c" stroke-width="0.7" />
<line x1="340.25" y1="224.27" x2="342.25" y2="224.27" stroke="#2f7a9c" stroke-width="0.7" />
<line x1="340.25" y1="234.98" x2="342.25" y2="234.98" stroke="#2f7a9c" stroke-width="0.7" />
<circle cx="353.79" cy="247.47" r="1.4" fill="#5c5c5c" stroke="#262626" stroke-width="0.55"/>
<circle cx="356.71" cy="254.61" r="1.4" fill="#5c5c5c" stroke="#262626" stroke-width="0.55"/>
<circle cx="354.9" cy="256.4" r="1.4" fill="#5c5c5c" stroke="#262626" stroke-width="0.55"/>
<circle cx="357.82" cy="257.29" r="1.4" fill="#5c5c5c" stroke="#262626" stroke-width="0.55"/>
<circle cx="356.02" cy="258.18" r="1.4" fill="#5c5c5c" stroke="#262626" stroke-width="0.55"/>
<circle cx="354.21" cy="259.07" r="1.4" fill="#5c5c5c" stroke="#262626" stroke-width="0.55"/>
<circle cx="357.13" cy="260.86" r="1.4" fill="#5c5c5c" stroke="#262626" stroke-width="0.55"/>
<line x1="356.15" y1="258.63" x2="356.15" y2="255.95" stroke="#333" stroke-width="0.7" />
<line x1="355.15" y1="255.95" x2="357.15" y2="255.95" stroke="#333" stroke-width="0.7" />
<line x1="355.15" y1="258.63" x2="357.15" y2="258.63" stroke="#333" stroke-width="0.7" />
<rect x="361.74" y="251.58" width="2.5" height="2.5" fill="#4b91ab" stroke="#2c6f88" stroke-width="0.45" />
<rect x="364.16" y="255.15" width="2.5" height="2.5" fill="#4b91ab" stroke="#2c6f88" stroke-width="0.45" />
<rect x="362.67" y="256.04" width="2.5" height="2.5" fill="#4b91ab" stroke="#2c6f88" stroke-width="0.45" />
<rect x="365.09" y="257.82" width="2.5" height="2.5" fill="#4b91ab" stroke="#2c6f88" stroke-width="0.45" />
<rect x="363.59" y="259.61" width="2.5" height="2.5" fill="#4b91ab" stroke="#2c6f88" stroke-width="0.45" />
<rect x="362.09" y="261.39" width="2.5" height="2.5" fill="#4b91ab" stroke="#2c6f88" stroke-width="0.45" />
<line x1="364.95" y1="258.63" x2="364.95" y2="255.95" stroke="#2f7a9c" stroke-width="0.7" />
<line x1="363.95" y1="255.95" x2="365.95" y2="255.95" stroke="#2f7a9c" stroke-width="0.7" />
<line x1="363.95" y1="258.63" x2="365.95" y2="258.63" stroke="#2f7a9c" stroke-width="0.7" />
<circle cx="376.99" cy="194.81" r="1.4" fill="#5c5c5c" stroke="#262626" stroke-width="0.55"/>
<circle cx="379.91" cy="196.6" r="1.4" fill="#5c5c5c" stroke="#262626" stroke-width="0.55"/>
<circle cx="378.1" cy="201.06" r="1.4" fill="#5c5c5c" stroke="#262626" stroke-width="0.55"/>
<circle cx="381.02" cy="205.52" r="1.4" fill="#5c5c5c" stroke="#262626" stroke-width="0.55"/>
<circle cx="379.22" cy="209.99" r="1.4" fill="#5c5c5c" stroke="#262626" stroke-width="0.55"/>
<circle cx="377.41" cy="214.45" r="1.4" fill="#5c5c5c" stroke="#262626" stroke-width="0.55"/>
<circle cx="380.33" cy="223.38" r="1.4" fill="#5c5c5c" stroke="#262626" stroke-width="0.55"/>
<circle cx="378.53" cy="227.84" r="1.4" fill="#5c5c5c" stroke="#262626" stroke-width="0.55"/>
<circle cx="381.45" cy="230.51" r="1.4" fill="#5c5c5c" stroke="#262626" stroke-width="0.55"/>
<line x1="379.35" y1="213.56" x2="379.35" y2="204.63" stroke="#333" stroke-width="0.7" />
<line x1="378.35" y1="204.63" x2="380.35" y2="204.63" stroke="#333" stroke-width="0.7" />
<line x1="378.35" y1="213.56" x2="380.35" y2="213.56" stroke="#333" stroke-width="0.7" />
<rect x="384.32" y="214.99" width="2.5" height="2.5" fill="#4b91ab" stroke="#2c6f88" stroke-width="0.45" />
<rect x="387.14" y="217.66" width="2.5" height="2.5" fill="#4b91ab" stroke="#2c6f88" stroke-width="0.45" />
<rect x="385.4" y="235.51" width="2.5" height="2.5" fill="#4b91ab" stroke="#2c6f88" stroke-width="0.45" />
<rect x="388.21" y="239.97" width="2.5" height="2.5" fill="#4b91ab" stroke="#2c6f88" stroke-width="0.45" />
<rect x="386.47" y="244.44" width="2.5" height="2.5" fill="#4b91ab" stroke="#2c6f88" stroke-width="0.45" />
<rect x="384.73" y="248.9" width="2.5" height="2.5" fill="#4b91ab" stroke="#2c6f88" stroke-width="0.45" />
<rect x="387.55" y="253.36" width="2.5" height="2.5" fill="#4b91ab" stroke="#2c6f88" stroke-width="0.45" />
<rect x="385.81" y="257.82" width="2.5" height="2.5" fill="#4b91ab" stroke="#2c6f88" stroke-width="0.45" />
<rect x="388.62" y="259.61" width="2.5" height="2.5" fill="#4b91ab" stroke="#2c6f88" stroke-width="0.45" />
<line x1="387.85" y1="246.58" x2="387.85" y2="234.08" stroke="#2f7a9c" stroke-width="0.7" />
<line x1="386.85" y1="234.08" x2="388.85" y2="234.08" stroke="#2f7a9c" stroke-width="0.7" />
<line x1="386.85" y1="246.58" x2="388.85" y2="246.58" stroke="#2f7a9c" stroke-width="0.7" />
<line x1="325.3" y1="268" x2="325.3" y2="175.18" stroke="#1e1e1e" stroke-width="1.35" />
<line x1="325.3" y1="268" x2="395.8" y2="268" stroke="#1e1e1e" stroke-width="1.35" />
<line x1="322.3" y1="268" x2="325.3" y2="268" stroke="#222" stroke-width="1.1" />
<text x="319.1" y="270.3" font-size="6.9" text-anchor="end" fill="#333" stroke="#333" textLength="3.45" lengthAdjust="spacingAndGlyphs" >0</text>
<line x1="322.3" y1="250.15" x2="325.3" y2="250.15" stroke="#222" stroke-width="1.1" />
<text x="319.1" y="252.45" font-size="6.9" text-anchor="end" fill="#333" stroke="#333" textLength="6.89" lengthAdjust="spacingAndGlyphs" >20</text>
<line x1="322.3" y1="232.3" x2="325.3" y2="232.3" stroke="#222" stroke-width="1.1" />
<text x="319.1" y="234.6" font-size="6.9" text-anchor="end" fill="#333" stroke="#333" textLength="6.89" lengthAdjust="spacingAndGlyphs" >40</text>
<line x1="322.3" y1="214.45" x2="325.3" y2="214.45" stroke="#222" stroke-width="1.1" />
<text x="319.1" y="216.75" font-size="6.9" text-anchor="end" fill="#333" stroke="#333" textLength="6.89" lengthAdjust="spacingAndGlyphs" >60</text>
<line x1="322.3" y1="196.6" x2="325.3" y2="196.6" stroke="#222" stroke-width="1.1" />
<text x="319.1" y="198.9" font-size="6.9" text-anchor="end" fill="#333" stroke="#333" textLength="6.89" lengthAdjust="spacingAndGlyphs" >80</text>
<line x1="322.3" y1="178.75" x2="325.3" y2="178.75" stroke="#222" stroke-width="1.1" />
<text x="319.1" y="181.05" font-size="6.9" text-anchor="end" fill="#333" stroke="#333" textLength="10.34" lengthAdjust="spacingAndGlyphs" >100</text>
<line x1="336.6" y1="268" x2="336.6" y2="269.6" stroke="#222" stroke-width="0.9" />
<text x="336.6" y="280.6" font-size="7" text-anchor="middle" >G1</text>
<line x1="360" y1="268" x2="360" y2="269.6" stroke="#222" stroke-width="0.9" />
<text x="360" y="280.6" font-size="7" text-anchor="middle" >G2MS</text>
<line x1="383.3" y1="268" x2="383.3" y2="269.6" stroke="#222" stroke-width="0.9" />
<text x="383.3" y="280.6" font-size="7" text-anchor="middle" >G0</text>
<text x="328.6" y="183.2" font-size="6.8" >LSKs</text>
<text x="302.6" y="221.8" font-size="8.6" text-anchor="middle" transform="rotate(-90 302.6 221.8)" textLength="27" lengthAdjust="spacingAndGlyphs">% of cells</text>
<rect x="440" y="257.89" width="5.4" height="10.71" fill="#a3a3a3" stroke="none" stroke-width="0.8" />
<rect x="448.7" y="225.76" width="5.9" height="42.84" fill="#96b4cb" stroke="none" stroke-width="0.8" />
<rect x="463.2" y="264.14" width="6.2" height="4.46" fill="#a3a3a3" stroke="none" stroke-width="0.8" />
<rect x="471.8" y="262.35" width="6.8" height="6.25" fill="#96b4cb" stroke="none" stroke-width="0.8" />
<rect x="486.7" y="198.09" width="6.1" height="70.51" fill="#a3a3a3" stroke="none" stroke-width="0.8" />
<rect x="495.7" y="236.47" width="5.7" height="32.13" fill="#96b4cb" stroke="none" stroke-width="0.8" />
<circle cx="440.54" cy="230.22" r="1.4" fill="#5c5c5c" stroke="#262626" stroke-width="0.55"/>
<circle cx="443.21" cy="243.61" r="1.4" fill="#5c5c5c" stroke="#262626" stroke-width="0.55"/>
<circle cx="441.56" cy="247.18" r="1.4" fill="#5c5c5c" stroke="#262626" stroke-width="0.55"/>
<circle cx="444.23" cy="259.68" r="1.4" fill="#5c5c5c" stroke="#262626" stroke-width="0.55"/>
<circle cx="442.58" cy="262.35" r="1.4" fill="#5c5c5c" stroke="#262626" stroke-width="0.55"/>
<circle cx="440.93" cy="264.14" r="1.4" fill="#5c5c5c" stroke="#262626" stroke-width="0.55"/>
<circle cx="443.6" cy="265.92" r="1.4" fill="#5c5c5c" stroke="#262626" stroke-width="0.55"/>
<circle cx="441.95" cy="267.71" r="1.4" fill="#5c5c5c" stroke="#262626" stroke-width="0.55"/>
<line x1="442.7" y1="262.35" x2="442.7" y2="253.43" stroke="#333" stroke-width="0.7" />
<line x1="441.7" y1="253.43" x2="443.7" y2="253.43" stroke="#333" stroke-width="0.7" />
<line x1="441.7" y1="262.35" x2="443.7" y2="262.35" stroke="#333" stroke-width="0.7" />
<rect x="448.04" y="199.52" width="2.5" height="2.5" fill="#4b91ab" stroke="#2c6f88" stroke-width="0.45" />
<rect x="450.96" y="215.59" width="2.5" height="2.5" fill="#4b91ab" stroke="#2c6f88" stroke-width="0.45" />
<rect x="449.15" y="220.94" width="2.5" height="2.5" fill="#4b91ab" stroke="#2c6f88" stroke-width="0.45" />
<rect x="452.07" y="222.73" width="2.5" height="2.5" fill="#4b91ab" stroke="#2c6f88" stroke-width="0.45" />
<rect x="450.27" y="224.51" width="2.5" height="2.5" fill="#4b91ab" stroke="#2c6f88" stroke-width="0.45" />
<rect x="448.46" y="227.19" width="2.5" height="2.5" fill="#4b91ab" stroke="#2c6f88" stroke-width="0.45" />
<rect x="451.38" y="229.87" width="2.5" height="2.5" fill="#4b91ab" stroke="#2c6f88" stroke-width="0.45" />
<rect x="449.58" y="248.61" width="2.5" height="2.5" fill="#4b91ab" stroke="#2c6f88" stroke-width="0.45" />
<rect x="452.5" y="249.5" width="2.5" height="2.5" fill="#4b91ab" stroke="#2c6f88" stroke-width="0.45" />
<line x1="451.65" y1="231.12" x2="451.65" y2="220.41" stroke="#2f7a9c" stroke-width="0.7" />
<line x1="450.65" y1="220.41" x2="452.65" y2="220.41" stroke="#2f7a9c" stroke-width="0.7" />
<line x1="450.65" y1="231.12" x2="452.65" y2="231.12" stroke="#2f7a9c" stroke-width="0.7" />
<circle cx="463.82" cy="257.89" r="1.4" fill="#5c5c5c" stroke="#262626" stroke-width="0.55"/>
<circle cx="466.89" cy="261.46" r="1.4" fill="#5c5c5c" stroke="#262626" stroke-width="0.55"/>
<circle cx="464.99" cy="262.35" r="1.4" fill="#5c5c5c" stroke="#262626" stroke-width="0.55"/>
<circle cx="468.06" cy="263.25" r="1.4" fill="#5c5c5c" stroke="#262626" stroke-width="0.55"/>
<circle cx="466.16" cy="264.14" r="1.4" fill="#5c5c5c" stroke="#262626" stroke-width="0.55"/>
<circle cx="464.27" cy="265.03" r="1.4" fill="#5c5c5c" stroke="#262626" stroke-width="0.55"/>
<circle cx="467.33" cy="265.92" r="1.4" fill="#5c5c5c" stroke="#262626" stroke-width="0.55"/>
<circle cx="465.44" cy="266.81" r="1.4" fill="#5c5c5c" stroke="#262626" stroke-width="0.55"/>
<line x1="466.3" y1="265.21" x2="466.3" y2="263.07" stroke="#333" stroke-width="0.7" />
<line x1="465.3" y1="263.07" x2="467.3" y2="263.07" stroke="#333" stroke-width="0.7" />
<line x1="465.3" y1="265.21" x2="467.3" y2="265.21" stroke="#333" stroke-width="0.7" />
<rect x="471.23" y="253.07" width="2.5" height="2.5" fill="#4b91ab" stroke="#2c6f88" stroke-width="0.45" />
<rect x="474.59" y="260.21" width="2.5" height="2.5" fill="#4b91ab" stroke="#2c6f88" stroke-width="0.45" />
<rect x="472.51" y="261.1" width="2.5" height="2.5" fill="#4b91ab" stroke="#2c6f88" stroke-width="0.45" />
<rect x="475.88" y="261.1" width="2.5" height="2.5" fill="#4b91ab" stroke="#2c6f88" stroke-width="0.45" />
<rect x="473.8" y="262" width="2.5" height="2.5" fill="#4b91ab" stroke="#2c6f88" stroke-width="0.45" />
<rect x="471.72" y="262" width="2.5" height="2.5" fill="#4b91ab" stroke="#2c6f88" stroke-width="0.45" />
<rect x="475.08" y="262.89" width="2.5" height="2.5" fill="#4b91ab" stroke="#2c6f88" stroke-width="0.45" />
<line x1="475.2" y1="263.42" x2="475.2" y2="261.28" stroke="#2f7a9c" stroke-width="0.7" />
<line x1="474.2" y1="261.28" x2="476.2" y2="261.28" stroke="#2f7a9c" stroke-width="0.7" />
<line x1="474.2" y1="263.42" x2="476.2" y2="263.42" stroke="#2f7a9c" stroke-width="0.7" />
<circle cx="487.31" cy="179.35" r="1.4" fill="#5c5c5c" stroke="#262626" stroke-width="0.55"/>
<circle cx="490.33" cy="182.03" r="1.4" fill="#5c5c5c" stroke="#262626" stroke-width="0.55"/>
<circle cx="488.46" cy="183.81" r="1.4" fill="#5c5c5c" stroke="#262626" stroke-width="0.55"/>
<circle cx="491.48" cy="188.28" r="1.4" fill="#5c5c5c" stroke="#262626" stroke-width="0.55"/>
<circle cx="489.61" cy="190.06" r="1.4" fill="#5c5c5c" stroke="#262626" stroke-width="0.55"/>
<circle cx="487.75" cy="192.74" r="1.4" fill="#5c5c5c" stroke="#262626" stroke-width="0.55"/>
<circle cx="490.77" cy="195.42" r="1.4" fill="#5c5c5c" stroke="#262626" stroke-width="0.55"/>
<circle cx="488.9" cy="198.99" r="1.4" fill="#5c5c5c" stroke="#262626" stroke-width="0.55"/>
<circle cx="491.92" cy="206.12" r="1.4" fill="#5c5c5c" stroke="#262626" stroke-width="0.55"/>
<circle cx="490.05" cy="212.37" r="1.4" fill="#5c5c5c" stroke="#262626" stroke-width="0.55"/>
<circle cx="488.19" cy="223.98" r="1.4" fill="#5c5c5c" stroke="#262626" stroke-width="0.55"/>
<line x1="489.75" y1="201.66" x2="489.75" y2="194.52" stroke="#333" stroke-width="0.7" />
<line x1="488.75" y1="194.52" x2="490.75" y2="194.52" stroke="#333" stroke-width="0.7" />
<line x1="488.75" y1="201.66" x2="490.75" y2="201.66" stroke="#333" stroke-width="0.7" />
<rect x="495.02" y="210.23" width="2.5" height="2.5" fill="#4b91ab" stroke="#2c6f88" stroke-width="0.45" />
<rect x="497.84" y="225.4" width="2.5" height="2.5" fill="#4b91ab" stroke="#2c6f88" stroke-width="0.45" />
<rect x="496.1" y="226.3" width="2.5" height="2.5" fill="#4b91ab" stroke="#2c6f88" stroke-width="0.45" />
<rect x="498.91" y="229.87" width="2.5" height="2.5" fill="#4b91ab" stroke="#2c6f88" stroke-width="0.45" />
<rect x="497.17" y="233.44" width="2.5" height="2.5" fill="#4b91ab" stroke="#2c6f88" stroke-width="0.45" />
<rect x="495.43" y="240.58" width="2.5" height="2.5" fill="#4b91ab" stroke="#2c6f88" stroke-width="0.45" />
<rect x="498.25" y="249.5" width="2.5" height="2.5" fill="#4b91ab" stroke="#2c6f88" stroke-width="0.45" />
<rect x="496.51" y="253.96" width="2.5" height="2.5" fill="#4b91ab" stroke="#2c6f88" stroke-width="0.45" />
<rect x="499.32" y="260.21" width="2.5" height="2.5" fill="#4b91ab" stroke="#2c6f88" stroke-width="0.45" />
<line x1="498.55" y1="240.93" x2="498.55" y2="232.01" stroke="#2f7a9c" stroke-width="0.7" />
<line x1="497.55" y1="232.01" x2="499.55" y2="232.01" stroke="#2f7a9c" stroke-width="0.7" />
<line x1="497.55" y1="240.93" x2="499.55" y2="240.93" stroke="#2f7a9c" stroke-width="0.7" />
<line x1="435.6" y1="268.6" x2="435.6" y2="175.78" stroke="#1e1e1e" stroke-width="1.35" />
<line x1="435.6" y1="268.6" x2="506" y2="268.6" stroke="#1e1e1e" stroke-width="1.35" />
<line x1="432.6" y1="268.6" x2="435.6" y2="268.6" stroke="#222" stroke-width="1.1" />
<text x="429.4" y="270.9" font-size="6.9" text-anchor="end" fill="#333" stroke="#333" textLength="3.45" lengthAdjust="spacingAndGlyphs" >0</text>
<line x1="432.6" y1="250.75" x2="435.6" y2="250.75" stroke="#222" stroke-width="1.1" />
<text x="429.4" y="253.05" font-size="6.9" text-anchor="end" fill="#333" stroke="#333" textLength="6.89" lengthAdjust="spacingAndGlyphs" >20</text>
<line x1="432.6" y1="232.9" x2="435.6" y2="232.9" stroke="#222" stroke-width="1.1" />
<text x="429.4" y="235.2" font-size="6.9" text-anchor="end" fill="#333" stroke="#333" textLength="6.89" lengthAdjust="spacingAndGlyphs" >40</text>
<line x1="432.6" y1="215.05" x2="435.6" y2="215.05" stroke="#222" stroke-width="1.1" />
<text x="429.4" y="217.35" font-size="6.9" text-anchor="end" fill="#333" stroke="#333" textLength="6.89" lengthAdjust="spacingAndGlyphs" >60</text>
<line x1="432.6" y1="197.2" x2="435.6" y2="197.2" stroke="#222" stroke-width="1.1" />
<text x="429.4" y="199.5" font-size="6.9" text-anchor="end" fill="#333" stroke="#333" textLength="6.89" lengthAdjust="spacingAndGlyphs" >80</text>
<line x1="432.6" y1="179.35" x2="435.6" y2="179.35" stroke="#222" stroke-width="1.1" />
<text x="429.4" y="181.65" font-size="6.9" text-anchor="end" fill="#333" stroke="#333" textLength="10.34" lengthAdjust="spacingAndGlyphs" >100</text>
<line x1="446.6" y1="268.6" x2="446.6" y2="270.2" stroke="#222" stroke-width="0.9" />
<text x="446.6" y="281.2" font-size="7" text-anchor="middle" >G1</text>
<line x1="470.4" y1="268.6" x2="470.4" y2="270.2" stroke="#222" stroke-width="0.9" />
<text x="470.4" y="281.2" font-size="7" text-anchor="middle" >G2MS</text>
<line x1="493.8" y1="268.6" x2="493.8" y2="270.2" stroke="#222" stroke-width="0.9" />
<text x="493.8" y="281.2" font-size="7" text-anchor="middle" >G0</text>
<text x="438.7" y="183.2" font-size="6.8" >LT-HSCs</text>
<text x="413.6" y="221.8" font-size="8.6" text-anchor="middle" transform="rotate(-90 413.6 221.8)" textLength="27" lengthAdjust="spacingAndGlyphs">% of cells</text>
<circle cx="341.65" cy="207.8" r="0.95" fill="#222" stroke="none" stroke-width="0.3"/>
<circle cx="345.15" cy="207.8" r="0.95" fill="#222" stroke="none" stroke-width="0.3"/>
<text x="361.5" y="243.2" font-size="6.4" text-anchor="middle" textLength="11.7" lengthAdjust="spacingAndGlyphs" >n.s.</text>
<circle cx="387.4" cy="209.2" r="0.95" fill="#222" stroke="none" stroke-width="0.3"/>
<circle cx="390.9" cy="209.2" r="0.95" fill="#222" stroke="none" stroke-width="0.3"/>
<circle cx="394.4" cy="209.2" r="0.95" fill="#222" stroke="none" stroke-width="0.3"/>
<circle cx="451.15" cy="193.2" r="0.95" fill="#222" stroke="none" stroke-width="0.3"/>
<circle cx="454.65" cy="193.2" r="0.95" fill="#222" stroke="none" stroke-width="0.3"/>
<text x="473.1" y="249.7" font-size="6.4" text-anchor="middle" textLength="12.2" lengthAdjust="spacingAndGlyphs" >n.s.</text>
<circle cx="498.8" cy="204.7" r="0.95" fill="#222" stroke="none" stroke-width="0.3"/>
<circle cx="502.3" cy="204.7" r="0.95" fill="#222" stroke="none" stroke-width="0.3"/>
<circle cx="505.8" cy="204.7" r="0.95" fill="#222" stroke="none" stroke-width="0.3"/>
<text x="0.6" y="299.6" font-size="10.8" font-weight="bold" fill="#000" stroke="#000" >D</text>
<path d="M18.2,304.6 C17.2,307.4 14.2,309.6 14.2,312.0 C14.2,314.2 16.0,315.4 18.2,315.4 C20.4,315.4 22.2,314.2 22.2,312.0 C22.2,309.6 19.2,307.4 18.2,304.6 Z" fill="#c8102e"/>
<line x1="78.7" y1="297.6" x2="89.2" y2="297.6" stroke="#111" stroke-width="0.9" />
<circle cx="84" cy="297.6" r="1.6" fill="#111" stroke="none" stroke-width="0.3"/>
<text x="91.2" y="299.8" font-size="6" textLength="9.6" lengthAdjust="spacingAndGlyphs" >WT</text>
<line x1="111.3" y1="297.6" x2="122" y2="297.6" stroke="#187586" stroke-width="1.1" />
<rect x="115.2" y="296.1" width="3" height="3" fill="#187586" stroke="none" stroke-width="0.4" />
<text x="125.8" y="299.8" font-size="6" fill="#4a93aa" stroke="#4a93aa" textLength="40.5" lengthAdjust="spacingAndGlyphs"><tspan font-style="italic">Vav</tspan><tspan dy="-2.28" font-size="3.72">Cre+</tspan><tspan dy="2.28" font-style="italic"> Rxrab</tspan><tspan dy="-2.28" font-size="3.72">fl/fl</tspan></text>
<line x1="41.2" y1="397.4" x2="41.2" y2="309" stroke="#1e1e1e" stroke-width="1.35" />
<line x1="41.2" y1="397.4" x2="116.5" y2="397.4" stroke="#1e1e1e" stroke-width="1.35" />
<line x1="38.2" y1="380.1" x2="41.2" y2="380.1" stroke="#222" stroke-width="1.1" />
<text x="35" y="382.4" font-size="6.9" text-anchor="end" fill="#333" stroke="#333" textLength="6.89" lengthAdjust="spacingAndGlyphs" >50</text>
<line x1="38.2" y1="362.8" x2="41.2" y2="362.8" stroke="#222" stroke-width="1.1" />
<text x="35" y="365.1" font-size="6.9" text-anchor="end" fill="#333" stroke="#333" textLength="10.34" lengthAdjust="spacingAndGlyphs" >100</text>
<line x1="38.2" y1="345.5" x2="41.2" y2="345.5" stroke="#222" stroke-width="1.1" />
<text x="35" y="347.8" font-size="6.9" text-anchor="end" fill="#333" stroke="#333" textLength="10.34" lengthAdjust="spacingAndGlyphs" >150</text>
<line x1="38.2" y1="328.2" x2="41.2" y2="328.2" stroke="#222" stroke-width="1.1" />
<text x="35" y="330.5" font-size="6.9" text-anchor="end" fill="#333" stroke="#333" textLength="10.34" lengthAdjust="spacingAndGlyphs" >200</text>
<line x1="38.2" y1="310.9" x2="41.2" y2="310.9" stroke="#222" stroke-width="1.1" />
<text x="35" y="313.2" font-size="6.9" text-anchor="end" fill="#333" stroke="#333" textLength="10.34" lengthAdjust="spacingAndGlyphs" >250</text>
<line x1="41.2" y1="397.4" x2="41.2" y2="399" stroke="#222" stroke-width="0.9" />
<text x="41.2" y="407.9" font-size="6.8" text-anchor="middle" fill="#333" stroke="#333" textLength="3.39" lengthAdjust="spacingAndGlyphs" >0</text>
<line x1="53.35" y1="397.4" x2="53.35" y2="399" stroke="#222" stroke-width="0.9" />
<text x="53.35" y="407.9" font-size="6.8" text-anchor="middle" fill="#333" stroke="#333" textLength="3.39" lengthAdjust="spacingAndGlyphs" >4</text>
<line x1="65.5" y1="397.4" x2="65.5" y2="399" stroke="#222" stroke-width="0.9" />
<text x="65.5" y="407.9" font-size="6.8" text-anchor="middle" fill="#333" stroke="#333" textLength="3.39" lengthAdjust="spacingAndGlyphs" >7</text>
<line x1="77.65" y1="397.4" x2="77.65" y2="399" stroke="#222" stroke-width="0.9" />
<text x="77.65" y="407.9" font-size="6.8" text-anchor="middle" fill="#333" stroke="#333" textLength="6.78" lengthAdjust="spacingAndGlyphs" >10</text>
<line x1="89.8" y1="397.4" x2="89.8" y2="399" stroke="#222" stroke-width="0.9" />
<text x="89.8" y="407.9" font-size="6.8" text-anchor="middle" fill="#333" stroke="#333" textLength="6.78" lengthAdjust="spacingAndGlyphs" >14</text>
<line x1="101.95" y1="397.4" x2="101.95" y2="399" stroke="#222" stroke-width="0.9" />
<text x="101.95" y="407.9" font-size="6.8" text-anchor="middle" fill="#333" stroke="#333" textLength="6.78" lengthAdjust="spacingAndGlyphs" >18</text>
<line x1="114.1" y1="397.4" x2="114.1" y2="399" stroke="#222" stroke-width="0.9" />
<text x="114.1" y="407.9" font-size="6.8" text-anchor="middle" fill="#333" stroke="#333" textLength="6.78" lengthAdjust="spacingAndGlyphs" >20</text>
<line x1="53.35" y1="381.48" x2="53.35" y2="380.1" stroke="#111" stroke-width="0.7" />
<line x1="52.05" y1="380.1" x2="54.65" y2="380.1" stroke="#111" stroke-width="0.7" />
<line x1="52.05" y1="381.48" x2="54.65" y2="381.48" stroke="#111" stroke-width="0.7" />
<line x1="65.5" y1="382.87" x2="65.5" y2="381.48" stroke="#111" stroke-width="0.7" />
<line x1="64.2" y1="381.48" x2="66.8" y2="381.48" stroke="#111" stroke-width="0.7" />
<line x1="64.2" y1="382.87" x2="66.8" y2="382.87" stroke="#111" stroke-width="0.7" />
<line x1="77.65" y1="380.1" x2="77.65" y2="377.33" stroke="#111" stroke-width="0.7" />
<line x1="76.35" y1="377.33" x2="78.95" y2="377.33" stroke="#111" stroke-width="0.7" />
<line x1="76.35" y1="380.1" x2="78.95" y2="380.1" stroke="#111" stroke-width="0.7" />
<line x1="89.8" y1="369.03" x2="89.8" y2="356.57" stroke="#111" stroke-width="0.7" />
<line x1="88.5" y1="356.57" x2="91.1" y2="356.57" stroke="#111" stroke-width="0.7" />
<line x1="88.5" y1="369.03" x2="91.1" y2="369.03" stroke="#111" stroke-width="0.7" />
<line x1="101.95" y1="356.92" x2="101.95" y2="351.38" stroke="#111" stroke-width="0.7" />
<line x1="100.65" y1="351.38" x2="103.25" y2="351.38" stroke="#111" stroke-width="0.7" />
<line x1="100.65" y1="356.92" x2="103.25" y2="356.92" stroke="#111" stroke-width="0.7" />
<line x1="114.1" y1="361.76" x2="114.1" y2="355.53" stroke="#111" stroke-width="0.7" />
<line x1="112.8" y1="355.53" x2="115.4" y2="355.53" stroke="#111" stroke-width="0.7" />
<line x1="112.8" y1="361.76" x2="115.4" y2="361.76" stroke="#111" stroke-width="0.7" />
<line x1="53.35" y1="381.48" x2="53.35" y2="380.1" stroke="#187586" stroke-width="0.7" />
<line x1="52.05" y1="380.1" x2="54.65" y2="380.1" stroke="#187586" stroke-width="0.7" />
<line x1="52.05" y1="381.48" x2="54.65" y2="381.48" stroke="#187586" stroke-width="0.7" />
<line x1="65.5" y1="382.87" x2="65.5" y2="381.48" stroke="#187586" stroke-width="0.7" />
<line x1="64.2" y1="381.48" x2="66.8" y2="381.48" stroke="#187586" stroke-width="0.7" />
<line x1="64.2" y1="382.87" x2="66.8" y2="382.87" stroke="#187586" stroke-width="0.7" />
<line x1="77.65" y1="380.1" x2="77.65" y2="378.02" stroke="#187586" stroke-width="0.7" />
<line x1="76.35" y1="378.02" x2="78.95" y2="378.02" stroke="#187586" stroke-width="0.7" />
<line x1="76.35" y1="380.1" x2="78.95" y2="380.1" stroke="#187586" stroke-width="0.7" />
<line x1="89.8" y1="367.64" x2="89.8" y2="359.34" stroke="#187586" stroke-width="0.7" />
<line x1="88.5" y1="359.34" x2="91.1" y2="359.34" stroke="#187586" stroke-width="0.7" />
<line x1="88.5" y1="367.64" x2="91.1" y2="367.64" stroke="#187586" stroke-width="0.7" />
<line x1="101.95" y1="354.84" x2="101.95" y2="350.69" stroke="#187586" stroke-width="0.7" />
<line x1="100.65" y1="350.69" x2="103.25" y2="350.69" stroke="#187586" stroke-width="0.7" />
<line x1="100.65" y1="354.84" x2="103.25" y2="354.84" stroke="#187586" stroke-width="0.7" />
<line x1="114.1" y1="339.96" x2="114.1" y2="327.51" stroke="#187586" stroke-width="0.7" />
<line x1="112.8" y1="327.51" x2="115.4" y2="327.51" stroke="#187586" stroke-width="0.7" />
<line x1="112.8" y1="339.96" x2="115.4" y2="339.96" stroke="#187586" stroke-width="0.7" />
<polyline points="41.2,362.8 53.35,380.79 65.5,382.18 77.65,378.72 89.8,362.8 101.95,354.15 114.1,358.65" fill="none" stroke="#111" stroke-width="0.9"/>
<polyline points="41.2,362.8 53.35,380.79 65.5,382.18 77.65,379.06 89.8,363.49 101.95,352.77 114.1,333.74" fill="none" stroke="#187586" stroke-width="1.25"/>
<circle cx="41.2" cy="362.8" r="1.9" fill="#111" stroke="none" stroke-width="0.3"/>
<circle cx="53.35" cy="380.79" r="1.9" fill="#111" stroke="none" stroke-width="0.3"/>
<circle cx="65.5" cy="382.18" r="1.9" fill="#111" stroke="none" stroke-width="0.3"/>
<circle cx="77.65" cy="378.72" r="1.9" fill="#111" stroke="none" stroke-width="0.3"/>
<circle cx="89.8" cy="362.8" r="1.9" fill="#111" stroke="none" stroke-width="0.3"/>
<circle cx="101.95" cy="354.15" r="1.9" fill="#111" stroke="none" stroke-width="0.3"/>
<circle cx="114.1" cy="358.65" r="1.9" fill="#111" stroke="none" stroke-width="0.3"/>
<rect x="39.3" y="360.9" width="3.8" height="3.8" fill="#187586" stroke="none" stroke-width="0.4" />
<rect x="51.45" y="378.89" width="3.8" height="3.8" fill="#187586" stroke="none" stroke-width="0.4" />
<rect x="63.6" y="380.28" width="3.8" height="3.8" fill="#187586" stroke="none" stroke-width="0.4" />
<rect x="75.75" y="377.16" width="3.8" height="3.8" fill="#187586" stroke="none" stroke-width="0.4" />
<rect x="87.9" y="361.59" width="3.8" height="3.8" fill="#187586" stroke="none" stroke-width="0.4" />
<rect x="100.05" y="350.87" width="3.8" height="3.8" fill="#187586" stroke="none" stroke-width="0.4" />
<rect x="112.2" y="331.84" width="3.8" height="3.8" fill="#187586" stroke="none" stroke-width="0.4" />
<text x="44.6" y="312.1" font-size="7" textLength="19.6" lengthAdjust="spacingAndGlyphs" >WBCs</text>
<circle cx="110.4" cy="322.4" r="0.95" fill="#222" stroke="none" stroke-width="0.3"/>
<circle cx="113.9" cy="322.4" r="0.95" fill="#222" stroke="none" stroke-width="0.3"/>
<circle cx="117.4" cy="322.4" r="0.95" fill="#222" stroke="none" stroke-width="0.3"/>
<line x1="117.5" y1="333.2" x2="117.5" y2="360.3" stroke="#222" stroke-width="0.9" />
<text x="125.4" y="346.75" font-size="5.2" font-style="italic" text-anchor="middle" fill="#333" stroke="#333" transform="rotate(-90 125.4 346.75)" textLength="24" lengthAdjust="spacingAndGlyphs">P = .2479</text>
<line x1="153.2" y1="397.4" x2="153.2" y2="309" stroke="#1e1e1e" stroke-width="1.35" />
<line x1="153.2" y1="397.4" x2="229" y2="397.4" stroke="#1e1e1e" stroke-width="1.35" />
<line x1="150.2" y1="380.1" x2="153.2" y2="380.1" stroke="#222" stroke-width="1.1" />
<text x="147" y="382.4" font-size="6.9" text-anchor="end" fill="#333" stroke="#333" textLength="6.89" lengthAdjust="spacingAndGlyphs" >50</text>
<line x1="150.2" y1="362.8" x2="153.2" y2="362.8" stroke="#222" stroke-width="1.1" />
<text x="147" y="365.1" font-size="6.9" text-anchor="end" fill="#333" stroke="#333" textLength="10.34" lengthAdjust="spacingAndGlyphs" >100</text>
<line x1="150.2" y1="345.5" x2="153.2" y2="345.5" stroke="#222" stroke-width="1.1" />
<text x="147" y="347.8" font-size="6.9" text-anchor="end" fill="#333" stroke="#333" textLength="10.34" lengthAdjust="spacingAndGlyphs" >150</text>
<line x1="150.2" y1="328.2" x2="153.2" y2="328.2" stroke="#222" stroke-width="1.1" />
<text x="147" y="330.5" font-size="6.9" text-anchor="end" fill="#333" stroke="#333" textLength="10.34" lengthAdjust="spacingAndGlyphs" >200</text>
<line x1="150.2" y1="310.9" x2="153.2" y2="310.9" stroke="#222" stroke-width="1.1" />
<text x="147" y="313.2" font-size="6.9" text-anchor="end" fill="#333" stroke="#333" textLength="10.34" lengthAdjust="spacingAndGlyphs" >250</text>
<line x1="153.3" y1="397.4" x2="153.3" y2="399" stroke="#222" stroke-width="0.9" />
<text x="153.3" y="407.9" font-size="6.8" text-anchor="middle" fill="#333" stroke="#333" textLength="3.39" lengthAdjust="spacingAndGlyphs" >0</text>
<line x1="165.42" y1="397.4" x2="165.42" y2="399" stroke="#222" stroke-width="0.9" />
<text x="165.42" y="407.9" font-size="6.8" text-anchor="middle" fill="#333" stroke="#333" textLength="3.39" lengthAdjust="spacingAndGlyphs" >4</text>
<line x1="177.54" y1="397.4" x2="177.54" y2="399" stroke="#222" stroke-width="0.9" />
<text x="177.54" y="407.9" font-size="6.8" text-anchor="middle" fill="#333" stroke="#333" textLength="3.39" lengthAdjust="spacingAndGlyphs" >7</text>
<line x1="189.66" y1="397.4" x2="189.66" y2="399" stroke="#222" stroke-width="0.9" />
<text x="189.66" y="407.9" font-size="6.8" text-anchor="middle" fill="#333" stroke="#333" textLength="6.78" lengthAdjust="spacingAndGlyphs" >10</text>
<line x1="201.78" y1="397.4" x2="201.78" y2="399" stroke="#222" stroke-width="0.9" />
<text x="201.78" y="407.9" font-size="6.8" text-anchor="middle" fill="#333" stroke="#333" textLength="6.78" lengthAdjust="spacingAndGlyphs" >14</text>
<line x1="213.9" y1="397.4" x2="213.9" y2="399" stroke="#222" stroke-width="0.9" />
<text x="213.9" y="407.9" font-size="6.8" text-anchor="middle" fill="#333" stroke="#333" textLength="6.78" lengthAdjust="spacingAndGlyphs" >18</text>
<line x1="226.02" y1="397.4" x2="226.02" y2="399" stroke="#222" stroke-width="0.9" />
<text x="226.02" y="407.9" font-size="6.8" text-anchor="middle" fill="#333" stroke="#333" textLength="6.78" lengthAdjust="spacingAndGlyphs" >20</text>
<line x1="165.42" y1="385.64" x2="165.42" y2="383.56" stroke="#111" stroke-width="0.7" />
<line x1="164.12" y1="383.56" x2="166.72" y2="383.56" stroke="#111" stroke-width="0.7" />
<line x1="164.12" y1="385.64" x2="166.72" y2="385.64" stroke="#111" stroke-width="0.7" />
<line x1="177.54" y1="389.1" x2="177.54" y2="387.02" stroke="#111" stroke-width="0.7" />
<line x1="176.24" y1="387.02" x2="178.84" y2="387.02" stroke="#111" stroke-width="0.7" />
<line x1="176.24" y1="389.1" x2="178.84" y2="389.1" stroke="#111" stroke-width="0.7" />
<line x1="189.66" y1="387.71" x2="189.66" y2="383.56" stroke="#111" stroke-width="0.7" />
<line x1="188.36" y1="383.56" x2="190.96" y2="383.56" stroke="#111" stroke-width="0.7" />
<line x1="188.36" y1="387.71" x2="190.96" y2="387.71" stroke="#111" stroke-width="0.7" />
<line x1="201.78" y1="376.99" x2="201.78" y2="370.76" stroke="#111" stroke-width="0.7" />
<line x1="200.48" y1="370.76" x2="203.08" y2="370.76" stroke="#111" stroke-width="0.7" />
<line x1="200.48" y1="376.99" x2="203.08" y2="376.99" stroke="#111" stroke-width="0.7" />
<line x1="213.9" y1="348.96" x2="213.9" y2="338.58" stroke="#111" stroke-width="0.7" />
<line x1="212.6" y1="338.58" x2="215.2" y2="338.58" stroke="#111" stroke-width="0.7" />
<line x1="212.6" y1="348.96" x2="215.2" y2="348.96" stroke="#111" stroke-width="0.7" />
<line x1="226.02" y1="334.77" x2="226.02" y2="325.09" stroke="#111" stroke-width="0.7" />
<line x1="224.72" y1="325.09" x2="227.32" y2="325.09" stroke="#111" stroke-width="0.7" />
<line x1="224.72" y1="334.77" x2="227.32" y2="334.77" stroke="#111" stroke-width="0.7" />
<line x1="165.42" y1="389.44" x2="165.42" y2="388.06" stroke="#187586" stroke-width="0.7" />
<line x1="164.12" y1="388.06" x2="166.72" y2="388.06" stroke="#187586" stroke-width="0.7" />
<line x1="164.12" y1="389.44" x2="166.72" y2="389.44" stroke="#187586" stroke-width="0.7" />
<line x1="177.54" y1="392.9" x2="177.54" y2="391.52" stroke="#187586" stroke-width="0.7" />
<line x1="176.24" y1="391.52" x2="178.84" y2="391.52" stroke="#187586" stroke-width="0.7" />
<line x1="176.24" y1="392.9" x2="178.84" y2="392.9" stroke="#187586" stroke-width="0.7" />
<line x1="189.66" y1="392.9" x2="189.66" y2="391.52" stroke="#187586" stroke-width="0.7" />
<line x1="188.36" y1="391.52" x2="190.96" y2="391.52" stroke="#187586" stroke-width="0.7" />
<line x1="188.36" y1="392.9" x2="190.96" y2="392.9" stroke="#187586" stroke-width="0.7" />
<line x1="201.78" y1="388.06" x2="201.78" y2="385.98" stroke="#187586" stroke-width="0.7" />
<line x1="200.48" y1="385.98" x2="203.08" y2="385.98" stroke="#187586" stroke-width="0.7" />
<line x1="200.48" y1="388.06" x2="203.08" y2="388.06" stroke="#187586" stroke-width="0.7" />
<line x1="213.9" y1="371.8" x2="213.9" y2="368.34" stroke="#187586" stroke-width="0.7" />
<line x1="212.6" y1="368.34" x2="215.2" y2="368.34" stroke="#187586" stroke-width="0.7" />
<line x1="212.6" y1="371.8" x2="215.2" y2="371.8" stroke="#187586" stroke-width="0.7" />
<line x1="226.02" y1="341.35" x2="226.02" y2="334.43" stroke="#187586" stroke-width="0.7" />
<line x1="224.72" y1="334.43" x2="227.32" y2="334.43" stroke="#187586" stroke-width="0.7" />
<line x1="224.72" y1="341.35" x2="227.32" y2="341.35" stroke="#187586" stroke-width="0.7" />
<polyline points="153.3,362.8 165.42,384.6 177.54,388.06 189.66,385.64 201.78,373.87 213.9,343.77 226.02,329.93" fill="none" stroke="#111" stroke-width="0.9"/>
<polyline points="153.3,362.8 165.42,388.75 177.54,392.21 189.66,392.21 201.78,387.02 213.9,370.07 226.02,337.89" fill="none" stroke="#187586" stroke-width="1.25"/>
<circle cx="153.3" cy="362.8" r="1.9" fill="#111" stroke="none" stroke-width="0.3"/>
<circle cx="165.42" cy="384.6" r="1.9" fill="#111" stroke="none" stroke-width="0.3"/>
<circle cx="177.54" cy="388.06" r="1.9" fill="#111" stroke="none" stroke-width="0.3"/>
<circle cx="189.66" cy="385.64" r="1.9" fill="#111" stroke="none" stroke-width="0.3"/>
<circle cx="201.78" cy="373.87" r="1.9" fill="#111" stroke="none" stroke-width="0.3"/>
<circle cx="213.9" cy="343.77" r="1.9" fill="#111" stroke="none" stroke-width="0.3"/>
<circle cx="226.02" cy="329.93" r="1.9" fill="#111" stroke="none" stroke-width="0.3"/>
<rect x="151.4" y="360.9" width="3.8" height="3.8" fill="#187586" stroke="none" stroke-width="0.4" />
<rect x="163.52" y="386.85" width="3.8" height="3.8" fill="#187586" stroke="none" stroke-width="0.4" />
<rect x="175.64" y="390.31" width="3.8" height="3.8" fill="#187586" stroke="none" stroke-width="0.4" />
<rect x="187.76" y="390.31" width="3.8" height="3.8" fill="#187586" stroke="none" stroke-width="0.4" />
<rect x="199.88" y="385.12" width="3.8" height="3.8" fill="#187586" stroke="none" stroke-width="0.4" />
<rect x="212" y="368.17" width="3.8" height="3.8" fill="#187586" stroke="none" stroke-width="0.4" />
<rect x="224.12" y="335.99" width="3.8" height="3.8" fill="#187586" stroke="none" stroke-width="0.4" />
<text x="156.9" y="312.1" font-size="7" textLength="44" lengthAdjust="spacingAndGlyphs" >Myeloid cells</text>
<circle cx="208.35" cy="333" r="0.95" fill="#222" stroke="none" stroke-width="0.3"/>
<circle cx="211.85" cy="333" r="0.95" fill="#222" stroke="none" stroke-width="0.3"/>
<circle cx="215.35" cy="333" r="0.95" fill="#222" stroke="none" stroke-width="0.3"/>
<circle cx="218.85" cy="333" r="0.95" fill="#222" stroke="none" stroke-width="0.3"/>
<line x1="230.4" y1="329.8" x2="230.4" y2="338" stroke="#222" stroke-width="0.9" />
<text x="239.3" y="333.9" font-size="5.2" font-style="italic" text-anchor="middle" fill="#333" stroke="#333" transform="rotate(-90 239.3 333.9)" textLength="24" lengthAdjust="spacingAndGlyphs">P = .0051</text>
<line x1="41.1" y1="515.9" x2="41.1" y2="428" stroke="#1e1e1e" stroke-width="1.35" />
<line x1="41.1" y1="515.9" x2="116.5" y2="515.9" stroke="#1e1e1e" stroke-width="1.35" />
<line x1="38.1" y1="498.85" x2="41.1" y2="498.85" stroke="#222" stroke-width="1.1" />
<text x="34.9" y="501.15" font-size="6.9" text-anchor="end" fill="#333" stroke="#333" textLength="6.89" lengthAdjust="spacingAndGlyphs" >50</text>
<line x1="38.1" y1="481.8" x2="41.1" y2="481.8" stroke="#222" stroke-width="1.1" />
<text x="34.9" y="484.1" font-size="6.9" text-anchor="end" fill="#333" stroke="#333" textLength="10.34" lengthAdjust="spacingAndGlyphs" >100</text>
<line x1="38.1" y1="464.75" x2="41.1" y2="464.75" stroke="#222" stroke-width="1.1" />
<text x="34.9" y="467.05" font-size="6.9" text-anchor="end" fill="#333" stroke="#333" textLength="10.34" lengthAdjust="spacingAndGlyphs" >150</text>
<line x1="38.1" y1="447.7" x2="41.1" y2="447.7" stroke="#222" stroke-width="1.1" />
<text x="34.9" y="450" font-size="6.9" text-anchor="end" fill="#333" stroke="#333" textLength="10.34" lengthAdjust="spacingAndGlyphs" >200</text>
<line x1="38.1" y1="430.65" x2="41.1" y2="430.65" stroke="#222" stroke-width="1.1" />
<text x="34.9" y="432.95" font-size="6.9" text-anchor="end" fill="#333" stroke="#333" textLength="10.34" lengthAdjust="spacingAndGlyphs" >250</text>
<line x1="41.1" y1="515.9" x2="41.1" y2="517.5" stroke="#222" stroke-width="0.9" />
<text x="41.1" y="526.4" font-size="6.8" text-anchor="middle" fill="#333" stroke="#333" textLength="3.39" lengthAdjust="spacingAndGlyphs" >0</text>
<line x1="53.17" y1="515.9" x2="53.17" y2="517.5" stroke="#222" stroke-width="0.9" />
<text x="53.17" y="526.4" font-size="6.8" text-anchor="middle" fill="#333" stroke="#333" textLength="3.39" lengthAdjust="spacingAndGlyphs" >4</text>
<line x1="65.24" y1="515.9" x2="65.24" y2="517.5" stroke="#222" stroke-width="0.9" />
<text x="65.24" y="526.4" font-size="6.8" text-anchor="middle" fill="#333" stroke="#333" textLength="3.39" lengthAdjust="spacingAndGlyphs" >7</text>
<line x1="77.31" y1="515.9" x2="77.31" y2="517.5" stroke="#222" stroke-width="0.9" />
<text x="77.31" y="526.4" font-size="6.8" text-anchor="middle" fill="#333" stroke="#333" textLength="6.78" lengthAdjust="spacingAndGlyphs" >10</text>
<line x1="89.38" y1="515.9" x2="89.38" y2="517.5" stroke="#222" stroke-width="0.9" />
<text x="89.38" y="526.4" font-size="6.8" text-anchor="middle" fill="#333" stroke="#333" textLength="6.78" lengthAdjust="spacingAndGlyphs" >14</text>
<line x1="101.45" y1="515.9" x2="101.45" y2="517.5" stroke="#222" stroke-width="0.9" />
<text x="101.45" y="526.4" font-size="6.8" text-anchor="middle" fill="#333" stroke="#333" textLength="6.78" lengthAdjust="spacingAndGlyphs" >18</text>
<line x1="113.52" y1="515.9" x2="113.52" y2="517.5" stroke="#222" stroke-width="0.9" />
<text x="113.52" y="526.4" font-size="6.8" text-anchor="middle" fill="#333" stroke="#333" textLength="6.78" lengthAdjust="spacingAndGlyphs" >20</text>
<line x1="53.17" y1="506.01" x2="53.17" y2="503.96" stroke="#111" stroke-width="0.7" />
<line x1="51.87" y1="503.96" x2="54.47" y2="503.96" stroke="#111" stroke-width="0.7" />
<line x1="51.87" y1="506.01" x2="54.47" y2="506.01" stroke="#111" stroke-width="0.7" />
<line x1="65.24" y1="510.1" x2="65.24" y2="508.06" stroke="#111" stroke-width="0.7" />
<line x1="63.94" y1="508.06" x2="66.54" y2="508.06" stroke="#111" stroke-width="0.7" />
<line x1="63.94" y1="510.1" x2="66.54" y2="510.1" stroke="#111" stroke-width="0.7" />
<line x1="77.31" y1="509.08" x2="77.31" y2="502.26" stroke="#111" stroke-width="0.7" />
<line x1="76.01" y1="502.26" x2="78.61" y2="502.26" stroke="#111" stroke-width="0.7" />
<line x1="76.01" y1="509.08" x2="78.61" y2="509.08" stroke="#111" stroke-width="0.7" />
<line x1="89.38" y1="497.14" x2="89.38" y2="487.6" stroke="#111" stroke-width="0.7" />
<line x1="88.08" y1="487.6" x2="90.68" y2="487.6" stroke="#111" stroke-width="0.7" />
<line x1="88.08" y1="497.14" x2="90.68" y2="497.14" stroke="#111" stroke-width="0.7" />
<line x1="101.45" y1="465.77" x2="101.45" y2="452.13" stroke="#111" stroke-width="0.7" />
<line x1="100.15" y1="452.13" x2="102.75" y2="452.13" stroke="#111" stroke-width="0.7" />
<line x1="100.15" y1="465.77" x2="102.75" y2="465.77" stroke="#111" stroke-width="0.7" />
<line x1="113.52" y1="453.16" x2="113.52" y2="435.42" stroke="#111" stroke-width="0.7" />
<line x1="112.22" y1="435.42" x2="114.82" y2="435.42" stroke="#111" stroke-width="0.7" />
<line x1="112.22" y1="453.16" x2="114.82" y2="453.16" stroke="#111" stroke-width="0.7" />
<line x1="53.17" y1="508.74" x2="53.17" y2="506.69" stroke="#187586" stroke-width="0.7" />
<line x1="51.87" y1="506.69" x2="54.47" y2="506.69" stroke="#187586" stroke-width="0.7" />
<line x1="51.87" y1="508.74" x2="54.47" y2="508.74" stroke="#187586" stroke-width="0.7" />
<line x1="65.24" y1="512.83" x2="65.24" y2="511.47" stroke="#187586" stroke-width="0.7" />
<line x1="63.94" y1="511.47" x2="66.54" y2="511.47" stroke="#187586" stroke-width="0.7" />
<line x1="63.94" y1="512.83" x2="66.54" y2="512.83" stroke="#187586" stroke-width="0.7" />
<line x1="77.31" y1="512.83" x2="77.31" y2="511.47" stroke="#187586" stroke-width="0.7" />
<line x1="76.01" y1="511.47" x2="78.61" y2="511.47" stroke="#187586" stroke-width="0.7" />
<line x1="76.01" y1="512.83" x2="78.61" y2="512.83" stroke="#187586" stroke-width="0.7" />
<line x1="89.38" y1="507.72" x2="89.38" y2="504.99" stroke="#187586" stroke-width="0.7" />
<line x1="88.08" y1="504.99" x2="90.68" y2="504.99" stroke="#187586" stroke-width="0.7" />
<line x1="88.08" y1="507.72" x2="90.68" y2="507.72" stroke="#187586" stroke-width="0.7" />
<line x1="101.45" y1="491.01" x2="101.45" y2="485.55" stroke="#187586" stroke-width="0.7" />
<line x1="100.15" y1="485.55" x2="102.75" y2="485.55" stroke="#187586" stroke-width="0.7" />
<line x1="100.15" y1="491.01" x2="102.75" y2="491.01" stroke="#187586" stroke-width="0.7" />
<line x1="113.52" y1="471.57" x2="113.52" y2="459.29" stroke="#187586" stroke-width="0.7" />
<line x1="112.22" y1="459.29" x2="114.82" y2="459.29" stroke="#187586" stroke-width="0.7" />
<line x1="112.22" y1="471.57" x2="114.82" y2="471.57" stroke="#187586" stroke-width="0.7" />
<polyline points="41.1,481.8 53.17,504.99 65.24,509.08 77.31,505.67 89.38,492.37 101.45,458.95 113.52,444.29" fill="none" stroke="#111" stroke-width="0.9"/>
<polyline points="41.1,481.8 53.17,507.72 65.24,512.15 77.31,512.15 89.38,506.35 101.45,488.28 113.52,465.43" fill="none" stroke="#187586" stroke-width="1.25"/>
<circle cx="41.1" cy="481.8" r="1.9" fill="#111" stroke="none" stroke-width="0.3"/>
<circle cx="53.17" cy="504.99" r="1.9" fill="#111" stroke="none" stroke-width="0.3"/>
<circle cx="65.24" cy="509.08" r="1.9" fill="#111" stroke="none" stroke-width="0.3"/>
<circle cx="77.31" cy="505.67" r="1.9" fill="#111" stroke="none" stroke-width="0.3"/>
<circle cx="89.38" cy="492.37" r="1.9" fill="#111" stroke="none" stroke-width="0.3"/>
<circle cx="101.45" cy="458.95" r="1.9" fill="#111" stroke="none" stroke-width="0.3"/>
<circle cx="113.52" cy="444.29" r="1.9" fill="#111" stroke="none" stroke-width="0.3"/>
<rect x="39.2" y="479.9" width="3.8" height="3.8" fill="#187586" stroke="none" stroke-width="0.4" />
<rect x="51.27" y="505.82" width="3.8" height="3.8" fill="#187586" stroke="none" stroke-width="0.4" />
<rect x="63.34" y="510.25" width="3.8" height="3.8" fill="#187586" stroke="none" stroke-width="0.4" />
<rect x="75.41" y="510.25" width="3.8" height="3.8" fill="#187586" stroke="none" stroke-width="0.4" />
<rect x="87.48" y="504.45" width="3.8" height="3.8" fill="#187586" stroke="none" stroke-width="0.4" />
<rect x="99.55" y="486.38" width="3.8" height="3.8" fill="#187586" stroke="none" stroke-width="0.4" />
<rect x="111.62" y="463.53" width="3.8" height="3.8" fill="#187586" stroke="none" stroke-width="0.4" />
<text x="43.9" y="431" font-size="7" textLength="40.8" lengthAdjust="spacingAndGlyphs" >Neutrophils</text>
<circle cx="96.85" cy="449" r="0.95" fill="#222" stroke="none" stroke-width="0.3"/>
<circle cx="100.35" cy="449" r="0.95" fill="#222" stroke="none" stroke-width="0.3"/>
<circle cx="103.85" cy="449" r="0.95" fill="#222" stroke="none" stroke-width="0.3"/>
<circle cx="107.35" cy="449" r="0.95" fill="#222" stroke="none" stroke-width="0.3"/>
<circle cx="112.45" cy="431.6" r="0.95" fill="#222" stroke="none" stroke-width="0.3"/>
<circle cx="115.95" cy="431.6" r="0.95" fill="#222" stroke="none" stroke-width="0.3"/>
<line x1="117.7" y1="444" x2="117.7" y2="465" stroke="#222" stroke-width="0.9" />
<text x="124" y="454.5" font-size="5.2" font-style="italic" text-anchor="middle" fill="#333" stroke="#333" transform="rotate(-90 124 454.5)" textLength="22" lengthAdjust="spacingAndGlyphs">P = .0014</text>
<line x1="153.1" y1="515.4" x2="153.1" y2="428" stroke="#1e1e1e" stroke-width="1.35" />
<line x1="153.1" y1="515.4" x2="229" y2="515.4" stroke="#1e1e1e" stroke-width="1.35" />
<line x1="150.1" y1="498.4" x2="153.1" y2="498.4" stroke="#222" stroke-width="1.1" />
<text x="146.9" y="500.7" font-size="6.9" text-anchor="end" fill="#333" stroke="#333" textLength="10.34" lengthAdjust="spacingAndGlyphs" >100</text>
<line x1="150.1" y1="481.4" x2="153.1" y2="481.4" stroke="#222" stroke-width="1.1" />
<text x="146.9" y="483.7" font-size="6.9" text-anchor="end" fill="#333" stroke="#333" textLength="10.34" lengthAdjust="spacingAndGlyphs" >200</text>
<line x1="150.1" y1="464.4" x2="153.1" y2="464.4" stroke="#222" stroke-width="1.1" />
<text x="146.9" y="466.7" font-size="6.9" text-anchor="end" fill="#333" stroke="#333" textLength="10.34" lengthAdjust="spacingAndGlyphs" >300</text>
<line x1="150.1" y1="447.4" x2="153.1" y2="447.4" stroke="#222" stroke-width="1.1" />
<text x="146.9" y="449.7" font-size="6.9" text-anchor="end" fill="#333" stroke="#333" textLength="10.34" lengthAdjust="spacingAndGlyphs" >400</text>
<line x1="150.1" y1="430.4" x2="153.1" y2="430.4" stroke="#222" stroke-width="1.1" />
<text x="146.9" y="432.7" font-size="6.9" text-anchor="end" fill="#333" stroke="#333" textLength="10.34" lengthAdjust="spacingAndGlyphs" >500</text>
<line x1="153.1" y1="515.4" x2="153.1" y2="517" stroke="#222" stroke-width="0.9" />
<text x="153.1" y="525.9" font-size="6.8" text-anchor="middle" fill="#333" stroke="#333" textLength="3.39" lengthAdjust="spacingAndGlyphs" >0</text>
<line x1="165.02" y1="515.4" x2="165.02" y2="517" stroke="#222" stroke-width="0.9" />
<text x="165.02" y="525.9" font-size="6.8" text-anchor="middle" fill="#333" stroke="#333" textLength="3.39" lengthAdjust="spacingAndGlyphs" >4</text>
<line x1="176.94" y1="515.4" x2="176.94" y2="517" stroke="#222" stroke-width="0.9" />
<text x="176.94" y="525.9" font-size="6.8" text-anchor="middle" fill="#333" stroke="#333" textLength="3.39" lengthAdjust="spacingAndGlyphs" >7</text>
<line x1="188.86" y1="515.4" x2="188.86" y2="517" stroke="#222" stroke-width="0.9" />
<text x="188.86" y="525.9" font-size="6.8" text-anchor="middle" fill="#333" stroke="#333" textLength="6.78" lengthAdjust="spacingAndGlyphs" >10</text>
<line x1="200.78" y1="515.4" x2="200.78" y2="517" stroke="#222" stroke-width="0.9" />
<text x="200.78" y="525.9" font-size="6.8" text-anchor="middle" fill="#333" stroke="#333" textLength="6.78" lengthAdjust="spacingAndGlyphs" >14</text>
<line x1="212.7" y1="515.4" x2="212.7" y2="517" stroke="#222" stroke-width="0.9" />
<text x="212.7" y="525.9" font-size="6.8" text-anchor="middle" fill="#333" stroke="#333" textLength="6.78" lengthAdjust="spacingAndGlyphs" >18</text>
<line x1="224.62" y1="515.4" x2="224.62" y2="517" stroke="#222" stroke-width="0.9" />
<text x="224.62" y="525.9" font-size="6.8" text-anchor="middle" fill="#333" stroke="#333" textLength="6.78" lengthAdjust="spacingAndGlyphs" >20</text>
<line x1="165.02" y1="505.54" x2="165.02" y2="501.46" stroke="#111" stroke-width="0.7" />
<line x1="163.72" y1="501.46" x2="166.32" y2="501.46" stroke="#111" stroke-width="0.7" />
<line x1="163.72" y1="505.54" x2="166.32" y2="505.54" stroke="#111" stroke-width="0.7" />
<line x1="176.94" y1="506.05" x2="176.94" y2="500.95" stroke="#111" stroke-width="0.7" />
<line x1="175.64" y1="500.95" x2="178.24" y2="500.95" stroke="#111" stroke-width="0.7" />
<line x1="175.64" y1="506.05" x2="178.24" y2="506.05" stroke="#111" stroke-width="0.7" />
<line x1="188.86" y1="508.26" x2="188.86" y2="505.54" stroke="#111" stroke-width="0.7" />
<line x1="187.56" y1="505.54" x2="190.16" y2="505.54" stroke="#111" stroke-width="0.7" />
<line x1="187.56" y1="508.26" x2="190.16" y2="508.26" stroke="#111" stroke-width="0.7" />
<line x1="200.78" y1="500.1" x2="200.78" y2="493.98" stroke="#111" stroke-width="0.7" />
<line x1="199.48" y1="493.98" x2="202.08" y2="493.98" stroke="#111" stroke-width="0.7" />
<line x1="199.48" y1="500.1" x2="202.08" y2="500.1" stroke="#111" stroke-width="0.7" />
<line x1="212.7" y1="493.13" x2="212.7" y2="484.63" stroke="#111" stroke-width="0.7" />
<line x1="211.4" y1="484.63" x2="214" y2="484.63" stroke="#111" stroke-width="0.7" />
<line x1="211.4" y1="493.13" x2="214" y2="493.13" stroke="#111" stroke-width="0.7" />
<line x1="224.62" y1="492.45" x2="224.62" y2="477.15" stroke="#111" stroke-width="0.7" />
<line x1="223.32" y1="477.15" x2="225.92" y2="477.15" stroke="#111" stroke-width="0.7" />
<line x1="223.32" y1="492.45" x2="225.92" y2="492.45" stroke="#111" stroke-width="0.7" />
<line x1="165.02" y1="509.96" x2="165.02" y2="507.24" stroke="#187586" stroke-width="0.7" />
<line x1="163.72" y1="507.24" x2="166.32" y2="507.24" stroke="#187586" stroke-width="0.7" />
<line x1="163.72" y1="509.96" x2="166.32" y2="509.96" stroke="#187586" stroke-width="0.7" />
<line x1="176.94" y1="509.96" x2="176.94" y2="507.24" stroke="#187586" stroke-width="0.7" />
<line x1="175.64" y1="507.24" x2="178.24" y2="507.24" stroke="#187586" stroke-width="0.7" />
<line x1="175.64" y1="509.96" x2="178.24" y2="509.96" stroke="#187586" stroke-width="0.7" />
<line x1="188.86" y1="509.62" x2="188.86" y2="507.58" stroke="#187586" stroke-width="0.7" />
<line x1="187.56" y1="507.58" x2="190.16" y2="507.58" stroke="#187586" stroke-width="0.7" />
<line x1="187.56" y1="509.62" x2="190.16" y2="509.62" stroke="#187586" stroke-width="0.7" />
<line x1="200.78" y1="505.2" x2="200.78" y2="502.48" stroke="#187586" stroke-width="0.7" />
<line x1="199.48" y1="502.48" x2="202.08" y2="502.48" stroke="#187586" stroke-width="0.7" />
<line x1="199.48" y1="505.2" x2="202.08" y2="505.2" stroke="#187586" stroke-width="0.7" />
<line x1="212.7" y1="507.24" x2="212.7" y2="497.04" stroke="#187586" stroke-width="0.7" />
<line x1="211.4" y1="497.04" x2="214" y2="497.04" stroke="#187586" stroke-width="0.7" />
<line x1="211.4" y1="507.24" x2="214" y2="507.24" stroke="#187586" stroke-width="0.7" />
<line x1="224.62" y1="468.99" x2="224.62" y2="445.19" stroke="#187586" stroke-width="0.7" />
<line x1="223.32" y1="445.19" x2="225.92" y2="445.19" stroke="#187586" stroke-width="0.7" />
<line x1="223.32" y1="468.99" x2="225.92" y2="468.99" stroke="#187586" stroke-width="0.7" />
<polyline points="153.1,498.4 165.02,503.5 176.94,503.5 188.86,506.9 200.78,497.04 212.7,488.88 224.62,484.8" fill="none" stroke="#111" stroke-width="0.9"/>
<polyline points="153.1,498.4 165.02,508.6 176.94,508.6 188.86,508.6 200.78,503.84 212.7,502.14 224.62,457.09" fill="none" stroke="#187586" stroke-width="1.25"/>
<circle cx="153.1" cy="498.4" r="1.9" fill="#111" stroke="none" stroke-width="0.3"/>
<circle cx="165.02" cy="503.5" r="1.9" fill="#111" stroke="none" stroke-width="0.3"/>
<circle cx="176.94" cy="503.5" r="1.9" fill="#111" stroke="none" stroke-width="0.3"/>
<circle cx="188.86" cy="506.9" r="1.9" fill="#111" stroke="none" stroke-width="0.3"/>
<circle cx="200.78" cy="497.04" r="1.9" fill="#111" stroke="none" stroke-width="0.3"/>
<circle cx="212.7" cy="488.88" r="1.9" fill="#111" stroke="none" stroke-width="0.3"/>
<circle cx="224.62" cy="484.8" r="1.9" fill="#111" stroke="none" stroke-width="0.3"/>
<rect x="151.2" y="496.5" width="3.8" height="3.8" fill="#187586" stroke="none" stroke-width="0.4" />
<rect x="163.12" y="506.7" width="3.8" height="3.8" fill="#187586" stroke="none" stroke-width="0.4" />
<rect x="175.04" y="506.7" width="3.8" height="3.8" fill="#187586" stroke="none" stroke-width="0.4" />
<rect x="186.96" y="506.7" width="3.8" height="3.8" fill="#187586" stroke="none" stroke-width="0.4" />
<rect x="198.88" y="501.94" width="3.8" height="3.8" fill="#187586" stroke="none" stroke-width="0.4" />
<rect x="210.8" y="500.24" width="3.8" height="3.8" fill="#187586" stroke="none" stroke-width="0.4" />
<rect x="222.72" y="455.19" width="3.8" height="3.8" fill="#187586" stroke="none" stroke-width="0.4" />
<text x="157.3" y="431" font-size="7" textLength="37" lengthAdjust="spacingAndGlyphs" >Monocytes</text>
<circle cx="221.1" cy="440.8" r="0.95" fill="#222" stroke="none" stroke-width="0.3"/>
<circle cx="224.6" cy="440.8" r="0.95" fill="#222" stroke="none" stroke-width="0.3"/>
<circle cx="228.1" cy="440.8" r="0.95" fill="#222" stroke="none" stroke-width="0.3"/>
<line x1="228.8" y1="457.7" x2="228.8" y2="484.2" stroke="#222" stroke-width="0.9" />
<text x="237.2" y="470.95" font-size="5.2" font-style="italic" text-anchor="middle" fill="#333" stroke="#333" transform="rotate(-90 237.2 470.95)" textLength="24" lengthAdjust="spacingAndGlyphs">P = .8860</text>
<line x1="103.8" y1="649" x2="103.8" y2="561" stroke="#1e1e1e" stroke-width="1.35" />
<line x1="103.8" y1="649" x2="180" y2="649" stroke="#1e1e1e" stroke-width="1.35" />
<line x1="100.8" y1="620.8" x2="103.8" y2="620.8" stroke="#222" stroke-width="1.1" />
<text x="97.6" y="623.1" font-size="6.9" text-anchor="end" fill="#333" stroke="#333" textLength="10.34" lengthAdjust="spacingAndGlyphs" >200</text>
<line x1="100.8" y1="592.6" x2="103.8" y2="592.6" stroke="#222" stroke-width="1.1" />
<text x="97.6" y="594.9" font-size="6.9" text-anchor="end" fill="#333" stroke="#333" textLength="10.34" lengthAdjust="spacingAndGlyphs" >400</text>
<line x1="100.8" y1="564.4" x2="103.8" y2="564.4" stroke="#222" stroke-width="1.1" />
<text x="97.6" y="566.7" font-size="6.9" text-anchor="end" fill="#333" stroke="#333" textLength="10.34" lengthAdjust="spacingAndGlyphs" >600</text>
<line x1="103.8" y1="649" x2="103.8" y2="650.6" stroke="#222" stroke-width="0.9" />
<text x="103.8" y="659.5" font-size="6.8" text-anchor="middle" fill="#333" stroke="#333" textLength="3.39" lengthAdjust="spacingAndGlyphs" >0</text>
<line x1="115.92" y1="649" x2="115.92" y2="650.6" stroke="#222" stroke-width="0.9" />
<text x="115.92" y="659.5" font-size="6.8" text-anchor="middle" fill="#333" stroke="#333" textLength="3.39" lengthAdjust="spacingAndGlyphs" >4</text>
<line x1="128.04" y1="649" x2="128.04" y2="650.6" stroke="#222" stroke-width="0.9" />
<text x="128.04" y="659.5" font-size="6.8" text-anchor="middle" fill="#333" stroke="#333" textLength="3.39" lengthAdjust="spacingAndGlyphs" >7</text>
<line x1="140.16" y1="649" x2="140.16" y2="650.6" stroke="#222" stroke-width="0.9" />
<text x="140.16" y="659.5" font-size="6.8" text-anchor="middle" fill="#333" stroke="#333" textLength="6.78" lengthAdjust="spacingAndGlyphs" >10</text>
<line x1="152.28" y1="649" x2="152.28" y2="650.6" stroke="#222" stroke-width="0.9" />
<text x="152.28" y="659.5" font-size="6.8" text-anchor="middle" fill="#333" stroke="#333" textLength="6.78" lengthAdjust="spacingAndGlyphs" >14</text>
<line x1="164.4" y1="649" x2="164.4" y2="650.6" stroke="#222" stroke-width="0.9" />
<text x="164.4" y="659.5" font-size="6.8" text-anchor="middle" fill="#333" stroke="#333" textLength="6.78" lengthAdjust="spacingAndGlyphs" >18</text>
<line x1="176.52" y1="649" x2="176.52" y2="650.6" stroke="#222" stroke-width="0.9" />
<text x="176.52" y="659.5" font-size="6.8" text-anchor="middle" fill="#333" stroke="#333" textLength="6.78" lengthAdjust="spacingAndGlyphs" >20</text>
<line x1="115.92" y1="638.42" x2="115.92" y2="636.73" stroke="#111" stroke-width="0.7" />
<line x1="114.62" y1="636.73" x2="117.22" y2="636.73" stroke="#111" stroke-width="0.7" />
<line x1="114.62" y1="638.42" x2="117.22" y2="638.42" stroke="#111" stroke-width="0.7" />
<line x1="128.04" y1="640.96" x2="128.04" y2="638.71" stroke="#111" stroke-width="0.7" />
<line x1="126.74" y1="638.71" x2="129.34" y2="638.71" stroke="#111" stroke-width="0.7" />
<line x1="126.74" y1="640.96" x2="129.34" y2="640.96" stroke="#111" stroke-width="0.7" />
<line x1="140.16" y1="624.61" x2="140.16" y2="620.38" stroke="#111" stroke-width="0.7" />
<line x1="138.86" y1="620.38" x2="141.46" y2="620.38" stroke="#111" stroke-width="0.7" />
<line x1="138.86" y1="624.61" x2="141.46" y2="624.61" stroke="#111" stroke-width="0.7" />
<line x1="152.28" y1="593.02" x2="152.28" y2="580.33" stroke="#111" stroke-width="0.7" />
<line x1="150.98" y1="580.33" x2="153.58" y2="580.33" stroke="#111" stroke-width="0.7" />
<line x1="150.98" y1="593.02" x2="153.58" y2="593.02" stroke="#111" stroke-width="0.7" />
<line x1="164.4" y1="599.37" x2="164.4" y2="585.83" stroke="#111" stroke-width="0.7" />
<line x1="163.1" y1="585.83" x2="165.7" y2="585.83" stroke="#111" stroke-width="0.7" />
<line x1="163.1" y1="599.37" x2="165.7" y2="599.37" stroke="#111" stroke-width="0.7" />
<line x1="176.52" y1="606.42" x2="176.52" y2="594.57" stroke="#111" stroke-width="0.7" />
<line x1="175.22" y1="594.57" x2="177.82" y2="594.57" stroke="#111" stroke-width="0.7" />
<line x1="175.22" y1="606.42" x2="177.82" y2="606.42" stroke="#111" stroke-width="0.7" />
<line x1="115.92" y1="639.84" x2="115.92" y2="638.42" stroke="#187586" stroke-width="0.7" />
<line x1="114.62" y1="638.42" x2="117.22" y2="638.42" stroke="#187586" stroke-width="0.7" />
<line x1="114.62" y1="639.84" x2="117.22" y2="639.84" stroke="#187586" stroke-width="0.7" />
<line x1="128.04" y1="644.35" x2="128.04" y2="642.94" stroke="#187586" stroke-width="0.7" />
<line x1="126.74" y1="642.94" x2="129.34" y2="642.94" stroke="#187586" stroke-width="0.7" />
<line x1="126.74" y1="644.35" x2="129.34" y2="644.35" stroke="#187586" stroke-width="0.7" />
<line x1="140.16" y1="631.66" x2="140.16" y2="628.27" stroke="#187586" stroke-width="0.7" />
<line x1="138.86" y1="628.27" x2="141.46" y2="628.27" stroke="#187586" stroke-width="0.7" />
<line x1="138.86" y1="631.66" x2="141.46" y2="631.66" stroke="#187586" stroke-width="0.7" />
<line x1="152.28" y1="609.24" x2="152.28" y2="605.85" stroke="#187586" stroke-width="0.7" />
<line x1="150.98" y1="605.85" x2="153.58" y2="605.85" stroke="#187586" stroke-width="0.7" />
<line x1="150.98" y1="609.24" x2="153.58" y2="609.24" stroke="#187586" stroke-width="0.7" />
<line x1="164.4" y1="611.35" x2="164.4" y2="609.1" stroke="#187586" stroke-width="0.7" />
<line x1="163.1" y1="609.1" x2="165.7" y2="609.1" stroke="#187586" stroke-width="0.7" />
<line x1="163.1" y1="611.35" x2="165.7" y2="611.35" stroke="#187586" stroke-width="0.7" />
<line x1="176.52" y1="613.61" x2="176.52" y2="611.35" stroke="#187586" stroke-width="0.7" />
<line x1="175.22" y1="611.35" x2="177.82" y2="611.35" stroke="#187586" stroke-width="0.7" />
<line x1="175.22" y1="613.61" x2="177.82" y2="613.61" stroke="#187586" stroke-width="0.7" />
<polyline points="103.8,634.9 115.92,637.58 128.04,639.84 140.16,622.49 152.28,586.68 164.4,592.6 176.52,600.5" fill="none" stroke="#111" stroke-width="0.9"/>
<polyline points="103.8,634.9 115.92,639.13 128.04,643.64 140.16,629.97 152.28,607.55 164.4,610.23 176.52,612.48" fill="none" stroke="#187586" stroke-width="1.25"/>
<circle cx="103.8" cy="634.9" r="1.9" fill="#111" stroke="none" stroke-width="0.3"/>
<circle cx="115.92" cy="637.58" r="1.9" fill="#111" stroke="none" stroke-width="0.3"/>
<circle cx="128.04" cy="639.84" r="1.9" fill="#111" stroke="none" stroke-width="0.3"/>
<circle cx="140.16" cy="622.49" r="1.9" fill="#111" stroke="none" stroke-width="0.3"/>
<circle cx="152.28" cy="586.68" r="1.9" fill="#111" stroke="none" stroke-width="0.3"/>
<circle cx="164.4" cy="592.6" r="1.9" fill="#111" stroke="none" stroke-width="0.3"/>
<circle cx="176.52" cy="600.5" r="1.9" fill="#111" stroke="none" stroke-width="0.3"/>
<rect x="101.9" y="633" width="3.8" height="3.8" fill="#187586" stroke="none" stroke-width="0.4" />
<rect x="114.02" y="637.23" width="3.8" height="3.8" fill="#187586" stroke="none" stroke-width="0.4" />
<rect x="126.14" y="641.74" width="3.8" height="3.8" fill="#187586" stroke="none" stroke-width="0.4" />
<rect x="138.26" y="628.07" width="3.8" height="3.8" fill="#187586" stroke="none" stroke-width="0.4" />
<rect x="150.38" y="605.65" width="3.8" height="3.8" fill="#187586" stroke="none" stroke-width="0.4" />
<rect x="162.5" y="608.33" width="3.8" height="3.8" fill="#187586" stroke="none" stroke-width="0.4" />
<rect x="174.62" y="610.58" width="3.8" height="3.8" fill="#187586" stroke="none" stroke-width="0.4" />
<text x="107.4" y="564.8" font-size="7" textLength="29" lengthAdjust="spacingAndGlyphs" >Platelets</text>
<circle cx="148.8" cy="576.3" r="0.95" fill="#222" stroke="none" stroke-width="0.3"/>
<circle cx="152.3" cy="576.3" r="0.95" fill="#222" stroke="none" stroke-width="0.3"/>
<circle cx="155.8" cy="576.3" r="0.95" fill="#222" stroke="none" stroke-width="0.3"/>
<circle cx="162.95" cy="581.6" r="0.95" fill="#222" stroke="none" stroke-width="0.3"/>
<circle cx="166.45" cy="581.6" r="0.95" fill="#222" stroke="none" stroke-width="0.3"/>
<line x1="180.8" y1="601.5" x2="180.8" y2="613.2" stroke="#222" stroke-width="0.9" />
<text x="188" y="607.35" font-size="5.2" font-style="italic" text-anchor="middle" fill="#333" stroke="#333" transform="rotate(-90 188 607.35)" textLength="23" lengthAdjust="spacingAndGlyphs">P = .0019</text>
<text x="18.6" y="352.6" font-size="8.8" text-anchor="middle" transform="rotate(-90 18.6 352.6)" textLength="33" lengthAdjust="spacingAndGlyphs">% baseline</text>
<text x="18.6" y="472" font-size="8.8" text-anchor="middle" transform="rotate(-90 18.6 472)" textLength="33.2" lengthAdjust="spacingAndGlyphs">% baseline</text>
<text x="81.8" y="605.2" font-size="8.8" text-anchor="middle" transform="rotate(-90 81.8 605.2)" textLength="32.3" lengthAdjust="spacingAndGlyphs">% baseline</text>
<text x="78.8" y="540.3" font-size="8.6" text-anchor="middle" textLength="73.2" lengthAdjust="spacingAndGlyphs" >Days post 5-FU injection</text>
<text x="191.1" y="540.3" font-size="8.6" text-anchor="middle" textLength="73.8" lengthAdjust="spacingAndGlyphs" >Days post 5-FU injection</text>
<text x="141.9" y="672.8" font-size="8.6" text-anchor="middle" textLength="73.9" lengthAdjust="spacingAndGlyphs" >Days post 5-FU injection</text>
<text x="257.6" y="299.6" font-size="10.8" font-weight="bold" fill="#000" stroke="#000" >E</text>
<path d="M271.05,307.12 C270.73,304.52 273.56,303.74 275.46,304.78 C276.4,305.56 275.14,307.64 274.01,309.2 C274.01,315.7 274.51,322.2 275.27,326.36 C276.53,328.18 274.83,330.52 273.25,329.22 C271.99,330.52 270.42,328.7 271.99,325.84 C272.75,322.2 272.31,315.7 271.99,309.72 Z" fill="#e4bb8a" stroke="#cf9a5c" stroke-width="0.75" stroke-linejoin="round"/>
<rect x="310.2" y="362.7" width="5.6" height="32.4" fill="#a3a3a3" stroke="none" stroke-width="0.8" />
<rect x="318.3" y="344.7" width="5.8" height="50.4" fill="#96b4cb" stroke="none" stroke-width="0.8" />
<rect x="333.4" y="385.2" width="5.6" height="9.9" fill="#a3a3a3" stroke="none" stroke-width="0.8" />
<rect x="341.5" y="382.5" width="5.8" height="12.6" fill="#96b4cb" stroke="none" stroke-width="0.8" />
<rect x="356.7" y="393.75" width="5.6" height="1.35" fill="#a3a3a3" stroke="none" stroke-width="0.8" />
<rect x="364.8" y="391.95" width="5.8" height="3.15" fill="#96b4cb" stroke="none" stroke-width="0.8" />
<rect x="380.6" y="384.3" width="5.6" height="10.8" fill="#a3a3a3" stroke="none" stroke-width="0.8" />
<rect x="388.7" y="384.3" width="5.8" height="10.8" fill="#96b4cb" stroke="none" stroke-width="0.8" />
<rect x="404" y="384.3" width="5.6" height="10.8" fill="#a3a3a3" stroke="none" stroke-width="0.8" />
<rect x="412.1" y="377.1" width="5.8" height="18" fill="#96b4cb" stroke="none" stroke-width="0.8" />
<rect x="427.5" y="393.3" width="5.6" height="1.8" fill="#a3a3a3" stroke="none" stroke-width="0.8" />
<rect x="435.6" y="390.6" width="5.8" height="4.5" fill="#96b4cb" stroke="none" stroke-width="0.8" />
<circle cx="310.8" cy="352.8" r="1.35" fill="#5c5c5c" stroke="#262626" stroke-width="0.55"/>
<circle cx="313.52" cy="357.3" r="1.35" fill="#5c5c5c" stroke="#262626" stroke-width="0.55"/>
<circle cx="311.84" cy="362.7" r="1.35" fill="#5c5c5c" stroke="#262626" stroke-width="0.55"/>
<circle cx="314.56" cy="363.6" r="1.35" fill="#5c5c5c" stroke="#262626" stroke-width="0.55"/>
<circle cx="312.88" cy="364.5" r="1.35" fill="#5c5c5c" stroke="#262626" stroke-width="0.55"/>
<circle cx="311.2" cy="365.4" r="1.35" fill="#5c5c5c" stroke="#262626" stroke-width="0.55"/>
<circle cx="313.92" cy="368.1" r="1.35" fill="#5c5c5c" stroke="#262626" stroke-width="0.55"/>
<circle cx="312.23" cy="372.6" r="1.35" fill="#5c5c5c" stroke="#262626" stroke-width="0.55"/>
<circle cx="314.95" cy="377.1" r="1.35" fill="#5c5c5c" stroke="#262626" stroke-width="0.55"/>
<circle cx="313.27" cy="381.6" r="1.35" fill="#5c5c5c" stroke="#262626" stroke-width="0.55"/>
<circle cx="311.59" cy="387" r="1.35" fill="#5c5c5c" stroke="#262626" stroke-width="0.55"/>
<rect x="317.8" y="321.9" width="2.4" height="2.4" fill="#4b91ab" stroke="#2c6f88" stroke-width="0.45" />
<rect x="320.52" y="322.8" width="2.4" height="2.4" fill="#4b91ab" stroke="#2c6f88" stroke-width="0.45" />
<rect x="318.84" y="335.4" width="2.4" height="2.4" fill="#4b91ab" stroke="#2c6f88" stroke-width="0.45" />
<rect x="321.56" y="337.2" width="2.4" height="2.4" fill="#4b91ab" stroke="#2c6f88" stroke-width="0.45" />
<rect x="319.88" y="339.9" width="2.4" height="2.4" fill="#4b91ab" stroke="#2c6f88" stroke-width="0.45" />
<rect x="318.2" y="342.6" width="2.4" height="2.4" fill="#4b91ab" stroke="#2c6f88" stroke-width="0.45" />
<rect x="320.92" y="344.4" width="2.4" height="2.4" fill="#4b91ab" stroke="#2c6f88" stroke-width="0.45" />
<rect x="319.23" y="347.1" width="2.4" height="2.4" fill="#4b91ab" stroke="#2c6f88" stroke-width="0.45" />
<rect x="321.95" y="348.9" width="2.4" height="2.4" fill="#4b91ab" stroke="#2c6f88" stroke-width="0.45" />
<rect x="320.27" y="350.7" width="2.4" height="2.4" fill="#4b91ab" stroke="#2c6f88" stroke-width="0.45" />
<rect x="318.59" y="353.4" width="2.4" height="2.4" fill="#4b91ab" stroke="#2c6f88" stroke-width="0.45" />
<rect x="321.31" y="356.1" width="2.4" height="2.4" fill="#4b91ab" stroke="#2c6f88" stroke-width="0.45" />
<rect x="319.63" y="357.9" width="2.4" height="2.4" fill="#4b91ab" stroke="#2c6f88" stroke-width="0.45" />
<rect x="317.95" y="361.5" width="2.4" height="2.4" fill="#4b91ab" stroke="#2c6f88" stroke-width="0.45" />
<rect x="320.67" y="364.2" width="2.4" height="2.4" fill="#4b91ab" stroke="#2c6f88" stroke-width="0.45" />
<rect x="318.99" y="366.9" width="2.4" height="2.4" fill="#4b91ab" stroke="#2c6f88" stroke-width="0.45" />
<circle cx="334" cy="383.4" r="1.35" fill="#5c5c5c" stroke="#262626" stroke-width="0.55"/>
<circle cx="336.72" cy="384.3" r="1.35" fill="#5c5c5c" stroke="#262626" stroke-width="0.55"/>
<circle cx="335.04" cy="385.2" r="1.35" fill="#5c5c5c" stroke="#262626" stroke-width="0.55"/>
<circle cx="337.76" cy="386.1" r="1.35" fill="#5c5c5c" stroke="#262626" stroke-width="0.55"/>
<circle cx="336.08" cy="387" r="1.35" fill="#5c5c5c" stroke="#262626" stroke-width="0.55"/>
<circle cx="334.4" cy="387.9" r="1.35" fill="#5c5c5c" stroke="#262626" stroke-width="0.55"/>
<circle cx="337.12" cy="388.8" r="1.35" fill="#5c5c5c" stroke="#262626" stroke-width="0.55"/>
<circle cx="335.43" cy="390.6" r="1.35" fill="#5c5c5c" stroke="#262626" stroke-width="0.55"/>
<circle cx="338.15" cy="392.4" r="1.35" fill="#5c5c5c" stroke="#262626" stroke-width="0.55"/>
<rect x="341" y="372.3" width="2.4" height="2.4" fill="#4b91ab" stroke="#2c6f88" stroke-width="0.45" />
<rect x="343.72" y="375.9" width="2.4" height="2.4" fill="#4b91ab" stroke="#2c6f88" stroke-width="0.45" />
<rect x="342.04" y="377.7" width="2.4" height="2.4" fill="#4b91ab" stroke="#2c6f88" stroke-width="0.45" />
<rect x="344.76" y="378.6" width="2.4" height="2.4" fill="#4b91ab" stroke="#2c6f88" stroke-width="0.45" />
<rect x="343.08" y="379.5" width="2.4" height="2.4" fill="#4b91ab" stroke="#2c6f88" stroke-width="0.45" />
<rect x="341.4" y="380.4" width="2.4" height="2.4" fill="#4b91ab" stroke="#2c6f88" stroke-width="0.45" />
<rect x="344.12" y="381.3" width="2.4" height="2.4" fill="#4b91ab" stroke="#2c6f88" stroke-width="0.45" />
<rect x="342.43" y="383.1" width="2.4" height="2.4" fill="#4b91ab" stroke="#2c6f88" stroke-width="0.45" />
<rect x="345.15" y="384.9" width="2.4" height="2.4" fill="#4b91ab" stroke="#2c6f88" stroke-width="0.45" />
<rect x="343.47" y="386.7" width="2.4" height="2.4" fill="#4b91ab" stroke="#2c6f88" stroke-width="0.45" />
<rect x="341.79" y="389.4" width="2.4" height="2.4" fill="#4b91ab" stroke="#2c6f88" stroke-width="0.45" />
<circle cx="357.3" cy="393.3" r="1.35" fill="#5c5c5c" stroke="#262626" stroke-width="0.55"/>
<circle cx="360.02" cy="393.75" r="1.35" fill="#5c5c5c" stroke="#262626" stroke-width="0.55"/>
<circle cx="358.34" cy="394.2" r="1.35" fill="#5c5c5c" stroke="#262626" stroke-width="0.55"/>
<circle cx="361.06" cy="394.65" r="1.35" fill="#5c5c5c" stroke="#262626" stroke-width="0.55"/>
<circle cx="359.38" cy="394.02" r="1.35" fill="#5c5c5c" stroke="#262626" stroke-width="0.55"/>
<rect x="364.3" y="388.5" width="2.4" height="2.4" fill="#4b91ab" stroke="#2c6f88" stroke-width="0.45" />
<rect x="367.02" y="389.4" width="2.4" height="2.4" fill="#4b91ab" stroke="#2c6f88" stroke-width="0.45" />
<rect x="365.34" y="389.85" width="2.4" height="2.4" fill="#4b91ab" stroke="#2c6f88" stroke-width="0.45" />
<rect x="368.06" y="390.3" width="2.4" height="2.4" fill="#4b91ab" stroke="#2c6f88" stroke-width="0.45" />
<rect x="366.38" y="390.75" width="2.4" height="2.4" fill="#4b91ab" stroke="#2c6f88" stroke-width="0.45" />
<rect x="364.7" y="391.2" width="2.4" height="2.4" fill="#4b91ab" stroke="#2c6f88" stroke-width="0.45" />
<rect x="367.42" y="391.65" width="2.4" height="2.4" fill="#4b91ab" stroke="#2c6f88" stroke-width="0.45" />
<circle cx="381.2" cy="377.1" r="1.35" fill="#5c5c5c" stroke="#262626" stroke-width="0.55"/>
<circle cx="383.92" cy="383.4" r="1.35" fill="#5c5c5c" stroke="#262626" stroke-width="0.55"/>
<circle cx="382.24" cy="384.3" r="1.35" fill="#5c5c5c" stroke="#262626" stroke-width="0.55"/>
<circle cx="384.96" cy="385.2" r="1.35" fill="#5c5c5c" stroke="#262626" stroke-width="0.55"/>
<circle cx="383.28" cy="386.1" r="1.35" fill="#5c5c5c" stroke="#262626" stroke-width="0.55"/>
<circle cx="381.6" cy="387" r="1.35" fill="#5c5c5c" stroke="#262626" stroke-width="0.55"/>
<circle cx="384.32" cy="387.9" r="1.35" fill="#5c5c5c" stroke="#262626" stroke-width="0.55"/>
<circle cx="382.63" cy="389.7" r="1.35" fill="#5c5c5c" stroke="#262626" stroke-width="0.55"/>
<circle cx="385.35" cy="391.5" r="1.35" fill="#5c5c5c" stroke="#262626" stroke-width="0.55"/>
<rect x="388.2" y="364.2" width="2.4" height="2.4" fill="#4b91ab" stroke="#2c6f88" stroke-width="0.45" />
<rect x="390.92" y="366" width="2.4" height="2.4" fill="#4b91ab" stroke="#2c6f88" stroke-width="0.45" />
<rect x="389.24" y="381.3" width="2.4" height="2.4" fill="#4b91ab" stroke="#2c6f88" stroke-width="0.45" />
<rect x="391.96" y="382.2" width="2.4" height="2.4" fill="#4b91ab" stroke="#2c6f88" stroke-width="0.45" />
<rect x="390.28" y="383.1" width="2.4" height="2.4" fill="#4b91ab" stroke="#2c6f88" stroke-width="0.45" />
<rect x="388.6" y="384" width="2.4" height="2.4" fill="#4b91ab" stroke="#2c6f88" stroke-width="0.45" />
<rect x="391.32" y="384.9" width="2.4" height="2.4" fill="#4b91ab" stroke="#2c6f88" stroke-width="0.45" />
<rect x="389.63" y="386.7" width="2.4" height="2.4" fill="#4b91ab" stroke="#2c6f88" stroke-width="0.45" />
<rect x="392.35" y="388.5" width="2.4" height="2.4" fill="#4b91ab" stroke="#2c6f88" stroke-width="0.45" />
<circle cx="404.6" cy="380.7" r="1.35" fill="#5c5c5c" stroke="#262626" stroke-width="0.55"/>
<circle cx="407.32" cy="381.6" r="1.35" fill="#5c5c5c" stroke="#262626" stroke-width="0.55"/>
<circle cx="405.64" cy="382.5" r="1.35" fill="#5c5c5c" stroke="#262626" stroke-width="0.55"/>
<circle cx="408.36" cy="383.4" r="1.35" fill="#5c5c5c" stroke="#262626" stroke-width="0.55"/>
<circle cx="406.68" cy="384.3" r="1.35" fill="#5c5c5c" stroke="#262626" stroke-width="0.55"/>
<circle cx="405" cy="385.2" r="1.35" fill="#5c5c5c" stroke="#262626" stroke-width="0.55"/>
<circle cx="407.72" cy="386.1" r="1.35" fill="#5c5c5c" stroke="#262626" stroke-width="0.55"/>
<circle cx="406.03" cy="387.9" r="1.35" fill="#5c5c5c" stroke="#262626" stroke-width="0.55"/>
<circle cx="408.75" cy="389.7" r="1.35" fill="#5c5c5c" stroke="#262626" stroke-width="0.55"/>
<rect x="411.6" y="364.2" width="2.4" height="2.4" fill="#4b91ab" stroke="#2c6f88" stroke-width="0.45" />
<rect x="414.32" y="366.9" width="2.4" height="2.4" fill="#4b91ab" stroke="#2c6f88" stroke-width="0.45" />
<rect x="412.64" y="368.7" width="2.4" height="2.4" fill="#4b91ab" stroke="#2c6f88" stroke-width="0.45" />
<rect x="415.36" y="370.5" width="2.4" height="2.4" fill="#4b91ab" stroke="#2c6f88" stroke-width="0.45" />
<rect x="413.68" y="372.3" width="2.4" height="2.4" fill="#4b91ab" stroke="#2c6f88" stroke-width="0.45" />
<rect x="412" y="374.1" width="2.4" height="2.4" fill="#4b91ab" stroke="#2c6f88" stroke-width="0.45" />
<rect x="414.72" y="375.9" width="2.4" height="2.4" fill="#4b91ab" stroke="#2c6f88" stroke-width="0.45" />
<rect x="413.03" y="377.7" width="2.4" height="2.4" fill="#4b91ab" stroke="#2c6f88" stroke-width="0.45" />
<rect x="415.75" y="379.5" width="2.4" height="2.4" fill="#4b91ab" stroke="#2c6f88" stroke-width="0.45" />
<rect x="414.07" y="381.3" width="2.4" height="2.4" fill="#4b91ab" stroke="#2c6f88" stroke-width="0.45" />
<rect x="412.39" y="383.1" width="2.4" height="2.4" fill="#4b91ab" stroke="#2c6f88" stroke-width="0.45" />
<rect x="415.11" y="384.9" width="2.4" height="2.4" fill="#4b91ab" stroke="#2c6f88" stroke-width="0.45" />
<circle cx="428.1" cy="392.85" r="1.35" fill="#5c5c5c" stroke="#262626" stroke-width="0.55"/>
<circle cx="430.82" cy="393.3" r="1.35" fill="#5c5c5c" stroke="#262626" stroke-width="0.55"/>
<circle cx="429.14" cy="393.75" r="1.35" fill="#5c5c5c" stroke="#262626" stroke-width="0.55"/>
<circle cx="431.86" cy="394.2" r="1.35" fill="#5c5c5c" stroke="#262626" stroke-width="0.55"/>
<circle cx="430.18" cy="394.65" r="1.35" fill="#5c5c5c" stroke="#262626" stroke-width="0.55"/>
<rect x="435.1" y="385.8" width="2.4" height="2.4" fill="#4b91ab" stroke="#2c6f88" stroke-width="0.45" />
<rect x="437.82" y="387.6" width="2.4" height="2.4" fill="#4b91ab" stroke="#2c6f88" stroke-width="0.45" />
<rect x="436.14" y="388.5" width="2.4" height="2.4" fill="#4b91ab" stroke="#2c6f88" stroke-width="0.45" />
<rect x="438.86" y="389.4" width="2.4" height="2.4" fill="#4b91ab" stroke="#2c6f88" stroke-width="0.45" />
<rect x="437.18" y="390.3" width="2.4" height="2.4" fill="#4b91ab" stroke="#2c6f88" stroke-width="0.45" />
<rect x="435.5" y="391.2" width="2.4" height="2.4" fill="#4b91ab" stroke="#2c6f88" stroke-width="0.45" />
<rect x="438.22" y="392.1" width="2.4" height="2.4" fill="#4b91ab" stroke="#2c6f88" stroke-width="0.45" />
<line x1="308" y1="395.1" x2="308" y2="302.2" stroke="#1e1e1e" stroke-width="1.35" />
<line x1="308" y1="395.1" x2="443.8" y2="395.1" stroke="#1e1e1e" stroke-width="1.35" />
<line x1="305" y1="395.1" x2="308" y2="395.1" stroke="#222" stroke-width="1.1" />
<text x="301.8" y="397.4" font-size="6.9" text-anchor="end" fill="#333" stroke="#333" textLength="3.45" lengthAdjust="spacingAndGlyphs" >0</text>
<line x1="305" y1="377.1" x2="308" y2="377.1" stroke="#222" stroke-width="1.1" />
<text x="301.8" y="379.4" font-size="6.9" text-anchor="end" fill="#333" stroke="#333" textLength="6.89" lengthAdjust="spacingAndGlyphs" >20</text>
<line x1="305" y1="359.1" x2="308" y2="359.1" stroke="#222" stroke-width="1.1" />
<text x="301.8" y="361.4" font-size="6.9" text-anchor="end" fill="#333" stroke="#333" textLength="6.89" lengthAdjust="spacingAndGlyphs" >40</text>
<line x1="305" y1="341.1" x2="308" y2="341.1" stroke="#222" stroke-width="1.1" />
<text x="301.8" y="343.4" font-size="6.9" text-anchor="end" fill="#333" stroke="#333" textLength="6.89" lengthAdjust="spacingAndGlyphs" >60</text>
<line x1="305" y1="323.1" x2="308" y2="323.1" stroke="#222" stroke-width="1.1" />
<text x="301.8" y="325.4" font-size="6.9" text-anchor="end" fill="#333" stroke="#333" textLength="6.89" lengthAdjust="spacingAndGlyphs" >80</text>
<line x1="305" y1="305.1" x2="308" y2="305.1" stroke="#222" stroke-width="1.1" />
<text x="301.8" y="307.4" font-size="6.9" text-anchor="end" fill="#333" stroke="#333" textLength="10.34" lengthAdjust="spacingAndGlyphs" >100</text>
<line x1="316.5" y1="395.1" x2="316.5" y2="396.7" stroke="#222" stroke-width="0.9" />
<text x="319.1" y="403.2" font-size="6.5" text-anchor="end" transform="rotate(-45 319.1 403.2)" textLength="13" lengthAdjust="spacingAndGlyphs">LSKs</text>
<line x1="339.7" y1="395.1" x2="339.7" y2="396.7" stroke="#222" stroke-width="0.9" />
<text x="342.3" y="403.2" font-size="6.5" text-anchor="end" transform="rotate(-45 342.3 403.2)">LT-HSCs CD41<tspan dy="-2" font-size="3.6">&#8722;</tspan></text>
<line x1="363" y1="395.1" x2="363" y2="396.7" stroke="#222" stroke-width="0.9" />
<text x="365.6" y="403.2" font-size="6.5" text-anchor="end" transform="rotate(-45 365.6 403.2)">LT-HSCs CD41<tspan dy="-2" font-size="3.6">+</tspan></text>
<line x1="386.9" y1="395.1" x2="386.9" y2="396.7" stroke="#222" stroke-width="0.9" />
<text x="387.7" y="404.4" font-size="6.5" text-anchor="end" transform="rotate(-45 387.7 404.4)" textLength="21.7" lengthAdjust="spacingAndGlyphs">ST-HSCs</text>
<line x1="410.3" y1="395.1" x2="410.3" y2="396.7" stroke="#222" stroke-width="0.9" />
<text x="411.1" y="404.8" font-size="6.5" text-anchor="end" transform="rotate(-45 411.1 404.8)" textLength="32.5" lengthAdjust="spacingAndGlyphs">MPP3/MPP4</text>
<line x1="433.8" y1="395.1" x2="433.8" y2="396.7" stroke="#222" stroke-width="0.9" />
<text x="436.4" y="403.6" font-size="6.5" text-anchor="end" transform="rotate(-45 436.4 403.6)" textLength="14.6" lengthAdjust="spacingAndGlyphs">MPP2</text>
<circle cx="322" cy="315.4" r="0.95" fill="#222" stroke="none" stroke-width="0.3"/>
<circle cx="345.4" cy="367.2" r="0.95" fill="#222" stroke="none" stroke-width="0.3"/>
<circle cx="366.45" cy="383.8" r="0.95" fill="#222" stroke="none" stroke-width="0.3"/>
<circle cx="369.95" cy="383.8" r="0.95" fill="#222" stroke="none" stroke-width="0.3"/>
<text x="392.7" y="363.2" font-size="6.6" text-anchor="middle" textLength="11.3" lengthAdjust="spacingAndGlyphs" >n.s.</text>
<circle cx="413.95" cy="361" r="0.95" fill="#222" stroke="none" stroke-width="0.3"/>
<circle cx="417.45" cy="361" r="0.95" fill="#222" stroke="none" stroke-width="0.3"/>
<circle cx="436.95" cy="381.2" r="0.95" fill="#222" stroke="none" stroke-width="0.3"/>
<circle cx="440.45" cy="381.2" r="0.95" fill="#222" stroke="none" stroke-width="0.3"/>
<circle cx="448.5" cy="343.8" r="1.8" fill="#5c5c5c" stroke="#262626" stroke-width="0.55"/>
<text x="454" y="345.9" font-size="6.2" textLength="9.4" lengthAdjust="spacingAndGlyphs" >WT</text>
<rect x="447" y="351.5" width="3" height="3" fill="#4b91ab" stroke="#2c6f88" stroke-width="0.45" />
<text x="454" y="355.3" font-size="6.2" fill="#4a93aa" stroke="#4a93aa" textLength="44.5" lengthAdjust="spacingAndGlyphs"><tspan font-style="italic">Vav</tspan><tspan dy="-2.36" font-size="3.84">Cre+</tspan><tspan dy="2.36" font-style="italic"> Rxrab</tspan><tspan dy="-2.36" font-size="3.84">fl/fl</tspan></text>
<text x="284.8" y="347.6" font-size="7.8" text-anchor="middle" transform="rotate(-90 284.8 347.6)" textLength="82.5" lengthAdjust="spacingAndGlyphs">Cell number ( &#215; 10<tspan dy="-2.8" font-size="4.8">3</tspan><tspan dy="2.8">)/femur</tspan></text>
<text x="257.6" y="465" font-size="10.8" font-weight="bold" fill="#000" stroke="#000" >F</text>
<text x="313.1" y="461" font-size="6" textLength="18.1" lengthAdjust="spacingAndGlyphs" >WT or</text>
<text x="313.2" y="471.4" font-size="6" fill="#4a93aa" stroke="#4a93aa" textLength="43.8" lengthAdjust="spacingAndGlyphs"><tspan font-style="italic">Vav</tspan><tspan dy="-2.28" font-size="3.72">Cre+</tspan><tspan dy="2.28" font-style="italic"> Rxrab</tspan><tspan dy="-2.28" font-size="3.72">fl/fl</tspan></text>
<path d="M352.46,491.93 C355.11,491.93 358.05,493.11 360.11,495.46 C361.68,497.62 361.68,502.22 359.52,504.67 C357.07,506.83 349.72,506.83 343.35,505.06 C339.92,504.08 336.98,502.91 334.04,501.63 C333.65,501.34 333.84,500.75 334.33,500.85 C337.18,502.03 340.21,503.2 343.64,504.08 C349.72,505.65 356.58,505.85 358.74,503.89 C360.5,501.93 360.5,498.01 359.13,496.05 C357.36,494.09 355.01,492.91 352.46,492.91 Z" fill="#f4f4f6" stroke="#8a8a8a" stroke-width="0.5"/>
<path d="M311.79,488.4 C312.97,485.56 314.93,482.62 317.38,480.86 C318.65,479.68 319.83,477.72 320.52,475.96 C321.1,474.88 321.89,474.59 322.48,474.78 C323.46,475.08 324.24,475.76 324.63,476.84 C325.71,477.23 326.98,477.43 327.96,477.82 C329.63,476.55 332.08,475.57 334.53,474.78 C336.49,474.1 337.96,473.7 339.14,473.7 C341.88,473.61 344.33,474.68 346.58,476.15 C349.03,477.62 350.7,479.19 351.58,480.86 C352.95,482.92 353.64,484.58 353.93,486.64 C354.23,488.01 354.33,489.48 354.13,490.76 C353.84,491.93 353.15,492.42 352.17,492.72 C350.7,493.4 348.74,494.38 346.78,495.07 C345.02,496.05 343.64,497.03 343.15,498.2 L338.25,498.69 C337.57,497.81 337.76,496.83 338.55,496.34 C336,495.07 333.06,493.7 330.12,493.5 C329.14,493.6 328.16,494.48 327.57,495.46 L326.4,497.71 L324.24,497.52 C324.73,496.44 325.22,495.46 325.51,494.48 C324.53,493.99 323.26,493.5 322.28,493.01 L319.93,496.73 L317.38,496.54 C318.36,495.36 319.73,493.5 320.52,491.83 C318.36,491.54 315.42,491.25 313.07,490.36 C312.28,489.87 311.7,489.19 311.79,488.4 Z" fill="#e9e9ee" stroke="#7a7a7a" stroke-width="0.5" stroke-linejoin="round"/>
<path d="M312.09,488.4 C313.26,485.66 315.22,482.92 317.58,481.15 C319.83,479.39 322.77,478.21 325.42,478.41 C327.96,478.8 328.75,482.13 327.77,485.27 C326.98,488.01 325.22,490.46 322.48,492.32 C319.83,491.54 315.91,491.15 313.26,490.17 C312.48,489.78 311.99,489.19 312.09,488.4 Z" fill="#f7f7f9" stroke="none"/>
<path d="M324.63,476.84 C324.24,478.21 324.73,480.96 326.59,482.72 C327.47,483.5 328.06,482.13 327.96,480.76 C327.87,479.39 327.67,478.41 327.96,477.82" fill="none" stroke="#666" stroke-width="0.45"/>
<path d="M328.16,485.07 C327.38,488.21 325.61,490.56 322.28,493.01" fill="none" stroke="#777" stroke-width="0.45"/>
<path d="M341.88,488.99 C344.82,490.76 345.8,493.5 343.15,495.85 C341.39,496.64 339.92,496.44 338.55,496.34" fill="none" stroke="#888" stroke-width="0.45"/>
<path d="M328.65,490.46 C327.96,491.93 326.98,493.21 325.51,494.48" fill="none" stroke="#888" stroke-width="0.45"/>
<ellipse cx="318.56" cy="496.34" rx="1.47" ry="0.73" fill="#4a4a4a"/>
<ellipse cx="325.22" cy="497.32" rx="1.37" ry="0.69" fill="#4a4a4a"/>
<ellipse cx="340.51" cy="498.2" rx="1.96" ry="0.73" fill="#4a4a4a"/>
<circle cx="318.07" cy="486.35" r="0.78" fill="#111"/>
<path d="M312.09,487.23 L307.58,484.29" stroke="#999" stroke-width="0.35"/>
<path d="M312.09,487.23 L307.19,487.03" stroke="#999" stroke-width="0.35"/>
<path d="M312.09,487.23 L307.97,489.78" stroke="#999" stroke-width="0.35"/>
<path d="M312.09,487.23 L309.15,482.72" stroke="#999" stroke-width="0.35"/>
<line x1="369.2" y1="495.1" x2="427.9" y2="495.1" stroke="#222" stroke-width="1.15" />
<path d="M426.4,493.2 L430.9,495.1 L426.4,497 Z" fill="#111"/>
<path d="M371.7,495.1 L371.7,491.9 M370.8,492.9 L371.7,491.9 L372.6,492.9" stroke="#222" stroke-width="0.5" fill="none"/>
<path d="M402.9,495.1 L402.9,491.9 M402,492.9 L402.9,491.9 L403.8,492.9" stroke="#222" stroke-width="0.5" fill="none"/>
<text x="371.7" y="503.8" font-size="7" text-anchor="middle" >0</text>
<text x="403" y="503.8" font-size="7" text-anchor="middle" >4</text>
<text x="422.6" y="503.8" font-size="7" text-anchor="middle" >5</text>
<text x="400.3" y="510.6" font-size="8.2" text-anchor="middle" textLength="14.2" lengthAdjust="spacingAndGlyphs" >Days</text>
<text x="372" y="479.8" font-size="7.2" text-anchor="middle" textLength="14" lengthAdjust="spacingAndGlyphs" >5-FU</text>
<text x="371.6" y="488" font-size="7" text-anchor="middle" textLength="34.8" lengthAdjust="spacingAndGlyphs" >(200 mg/gr)</text>
<text x="403.1" y="488" font-size="7" text-anchor="middle" textLength="14.8" lengthAdjust="spacingAndGlyphs" >BrdU</text>
<text x="445.7" y="493.2" font-size="7" text-anchor="middle" textLength="9.8" lengthAdjust="spacingAndGlyphs" >BM</text>
<text x="446" y="501.4" font-size="7" text-anchor="middle" textLength="21.6" lengthAdjust="spacingAndGlyphs" >analysis</text>
<text x="257.4" y="539.8" font-size="10.8" font-weight="bold" fill="#000" stroke="#000" >G</text>
<text x="307.8" y="541.7" font-size="6.8" text-anchor="middle" textLength="13.5" lengthAdjust="spacingAndGlyphs" >LSKs</text>
<text x="372.2" y="541.7" font-size="6.8" text-anchor="middle" textLength="25.2" lengthAdjust="spacingAndGlyphs" >LT-HSCs</text>
<rect x="282.2" y="544.3" width="52" height="50.9" fill="none" stroke="#a0a0a0" stroke-width="1.2" />
<text x="280.2" y="551.3" font-size="4.5" fill="#666" stroke="#666" text-anchor="end">10<tspan dy="-1.8" font-size="2.7">5</tspan></text>
<line x1="281.4" y1="549.8" x2="282.2" y2="549.8" stroke="#555" stroke-width="0.5" />
<text x="280.2" y="562.34" font-size="4.5" fill="#666" stroke="#666" text-anchor="end">10<tspan dy="-1.8" font-size="2.7">4</tspan></text>
<line x1="281.4" y1="560.84" x2="282.2" y2="560.84" stroke="#555" stroke-width="0.5" />
<text x="280.2" y="574.05" font-size="4.5" fill="#666" stroke="#666" text-anchor="end">10<tspan dy="-1.8" font-size="2.7">3</tspan></text>
<line x1="281.4" y1="572.55" x2="282.2" y2="572.55" stroke="#555" stroke-width="0.5" />
<text x="279.6" y="588.71" font-size="4.5" text-anchor="end" fill="#666" stroke="#666" >0</text>
<line x1="281.4" y1="587.21" x2="282.2" y2="587.21" stroke="#555" stroke-width="0.5" />
<circle cx="282.2" cy="587.21" r="0.6" fill="#111" stroke="none" stroke-width="0.3"/>
<text x="286.57" y="601.8" font-size="4.5" fill="#666" stroke="#666" text-anchor="middle">-10<tspan dy="-1.8" font-size="2.7">3</tspan></text>
<text x="294.68" y="601.8" font-size="4.5" text-anchor="middle" fill="#666" stroke="#666" >0</text>
<text x="304.04" y="601.8" font-size="4.5" fill="#666" stroke="#666" text-anchor="middle">10<tspan dy="-1.8" font-size="2.7">3</tspan></text>
<text x="318.34" y="601.8" font-size="4.5" fill="#666" stroke="#666" text-anchor="middle">10<tspan dy="-1.8" font-size="2.7">4</tspan></text>
<text x="330.25" y="601.8" font-size="4.5" fill="#666" stroke="#666" text-anchor="middle">10<tspan dy="-1.8" font-size="2.7">5</tspan></text>
<circle cx="294.68" cy="595.2" r="0.6" fill="#111" stroke="none" stroke-width="0.3"/>
<rect x="345.6" y="544.5" width="51.5" height="50.7" fill="none" stroke="#a0a0a0" stroke-width="1.2" />
<text x="343.6" y="551.48" font-size="4.5" fill="#666" stroke="#666" text-anchor="end">10<tspan dy="-1.8" font-size="2.7">5</tspan></text>
<line x1="344.8" y1="549.98" x2="345.6" y2="549.98" stroke="#555" stroke-width="0.5" />
<text x="343.6" y="562.48" font-size="4.5" fill="#666" stroke="#666" text-anchor="end">10<tspan dy="-1.8" font-size="2.7">4</tspan></text>
<line x1="344.8" y1="560.98" x2="345.6" y2="560.98" stroke="#555" stroke-width="0.5" />
<text x="343.6" y="574.14" font-size="4.5" fill="#666" stroke="#666" text-anchor="end">10<tspan dy="-1.8" font-size="2.7">3</tspan></text>
<line x1="344.8" y1="572.64" x2="345.6" y2="572.64" stroke="#555" stroke-width="0.5" />
<text x="343" y="588.74" font-size="4.5" text-anchor="end" fill="#666" stroke="#666" >0</text>
<line x1="344.8" y1="587.24" x2="345.6" y2="587.24" stroke="#555" stroke-width="0.5" />
<circle cx="345.6" cy="587.24" r="0.6" fill="#111" stroke="none" stroke-width="0.3"/>
<text x="349.93" y="601.8" font-size="4.5" fill="#666" stroke="#666" text-anchor="middle">-10<tspan dy="-1.8" font-size="2.7">3</tspan></text>
<text x="357.96" y="601.8" font-size="4.5" text-anchor="middle" fill="#666" stroke="#666" >0</text>
<text x="367.23" y="601.8" font-size="4.5" fill="#666" stroke="#666" text-anchor="middle">10<tspan dy="-1.8" font-size="2.7">3</tspan></text>
<text x="381.39" y="601.8" font-size="4.5" fill="#666" stroke="#666" text-anchor="middle">10<tspan dy="-1.8" font-size="2.7">4</tspan></text>
<text x="393.19" y="601.8" font-size="4.5" fill="#666" stroke="#666" text-anchor="middle">10<tspan dy="-1.8" font-size="2.7">5</tspan></text>
<circle cx="357.96" cy="595.2" r="0.6" fill="#111" stroke="none" stroke-width="0.3"/>
<rect x="282.5" y="607.8" width="51.7" height="50.8" fill="none" stroke="#a0a0a0" stroke-width="1.2" />
<text x="280.5" y="614.79" font-size="4.5" fill="#666" stroke="#666" text-anchor="end">10<tspan dy="-1.8" font-size="2.7">5</tspan></text>
<line x1="281.7" y1="613.29" x2="282.5" y2="613.29" stroke="#555" stroke-width="0.5" />
<text x="280.5" y="625.81" font-size="4.5" fill="#666" stroke="#666" text-anchor="end">10<tspan dy="-1.8" font-size="2.7">4</tspan></text>
<line x1="281.7" y1="624.31" x2="282.5" y2="624.31" stroke="#555" stroke-width="0.5" />
<text x="280.5" y="637.49" font-size="4.5" fill="#666" stroke="#666" text-anchor="end">10<tspan dy="-1.8" font-size="2.7">3</tspan></text>
<line x1="281.7" y1="635.99" x2="282.5" y2="635.99" stroke="#555" stroke-width="0.5" />
<text x="279.9" y="652.12" font-size="4.5" text-anchor="end" fill="#666" stroke="#666" >0</text>
<line x1="281.7" y1="650.62" x2="282.5" y2="650.62" stroke="#555" stroke-width="0.5" />
<circle cx="282.5" cy="650.62" r="0.6" fill="#111" stroke="none" stroke-width="0.3"/>
<text x="286.84" y="665.2" font-size="4.5" fill="#666" stroke="#666" text-anchor="middle">-10<tspan dy="-1.8" font-size="2.7">3</tspan></text>
<text x="294.91" y="665.2" font-size="4.5" text-anchor="middle" fill="#666" stroke="#666" >0</text>
<text x="304.21" y="665.2" font-size="4.5" fill="#666" stroke="#666" text-anchor="middle">10<tspan dy="-1.8" font-size="2.7">3</tspan></text>
<text x="318.43" y="665.2" font-size="4.5" fill="#666" stroke="#666" text-anchor="middle">10<tspan dy="-1.8" font-size="2.7">4</tspan></text>
<text x="330.27" y="665.2" font-size="4.5" fill="#666" stroke="#666" text-anchor="middle">10<tspan dy="-1.8" font-size="2.7">5</tspan></text>
<circle cx="294.91" cy="658.6" r="0.6" fill="#111" stroke="none" stroke-width="0.3"/>
<rect x="346.2" y="608" width="51.1" height="49.8" fill="none" stroke="#a0a0a0" stroke-width="1.2" />
<text x="344.2" y="614.88" font-size="4.5" fill="#666" stroke="#666" text-anchor="end">10<tspan dy="-1.8" font-size="2.7">5</tspan></text>
<line x1="345.4" y1="613.38" x2="346.2" y2="613.38" stroke="#555" stroke-width="0.5" />
<text x="344.2" y="625.68" font-size="4.5" fill="#666" stroke="#666" text-anchor="end">10<tspan dy="-1.8" font-size="2.7">4</tspan></text>
<line x1="345.4" y1="624.18" x2="346.2" y2="624.18" stroke="#555" stroke-width="0.5" />
<text x="344.2" y="637.14" font-size="4.5" fill="#666" stroke="#666" text-anchor="end">10<tspan dy="-1.8" font-size="2.7">3</tspan></text>
<line x1="345.4" y1="635.64" x2="346.2" y2="635.64" stroke="#555" stroke-width="0.5" />
<text x="343.6" y="651.48" font-size="4.5" text-anchor="end" fill="#666" stroke="#666" >0</text>
<line x1="345.4" y1="649.98" x2="346.2" y2="649.98" stroke="#555" stroke-width="0.5" />
<circle cx="346.2" cy="649.98" r="0.6" fill="#111" stroke="none" stroke-width="0.3"/>
<text x="350.49" y="664.4" font-size="4.5" fill="#666" stroke="#666" text-anchor="middle">-10<tspan dy="-1.8" font-size="2.7">3</tspan></text>
<text x="358.46" y="664.4" font-size="4.5" text-anchor="middle" fill="#666" stroke="#666" >0</text>
<text x="367.66" y="664.4" font-size="4.5" fill="#666" stroke="#666" text-anchor="middle">10<tspan dy="-1.8" font-size="2.7">3</tspan></text>
<text x="381.71" y="664.4" font-size="4.5" fill="#666" stroke="#666" text-anchor="middle">10<tspan dy="-1.8" font-size="2.7">4</tspan></text>
<text x="393.42" y="664.4" font-size="4.5" fill="#666" stroke="#666" text-anchor="middle">10<tspan dy="-1.8" font-size="2.7">5</tspan></text>
<circle cx="358.46" cy="657.8" r="0.6" fill="#111" stroke="none" stroke-width="0.3"/>
<polygon points="302.8,559.6 324.4,560.4 324.4,582.3 302.8,580.5" fill="none" stroke="#8a8a8a" stroke-width="0.7"/>
<polygon points="367.7,560.2 388.7,559.5 388.7,581.0 365.4,578.2" fill="none" stroke="#8a8a8a" stroke-width="0.7"/>
<polygon points="302.8,623.2 324.6,623.2 324.6,645.0 302.8,644.8" fill="none" stroke="#8a8a8a" stroke-width="0.7"/>
<polygon points="367.7,624.0 388.7,623.4 388.7,645.0 365.8,643.0" fill="none" stroke="#8a8a8a" stroke-width="0.7"/>
<path d="M300,569.5 C303,569 305,568.2 308,567.8 C313,567.2 318.5,567.8 318.8,571.2 C319,574.6 314,575.4 309,575.2 C306,575 303,574.2 300,573.8 Z" fill="#cfcfcf" stroke="#6a6a6a" stroke-width="0.7"/>
<path d="M304,570.2 C308,569 313,569 316,570.5 M305,573.2 C309,574 313,574 316,572.8" fill="none" stroke="#888" stroke-width="0.45"/>
<path d="M362,569.6 C368,569 374,568.6 380,568.8 C385,569 386.5,570.5 386.5,572 C386.5,573.6 385,574.8 380,575 C374,575.2 368,574.8 362,574.2 Z" fill="#cfcfcf" stroke="#6a6a6a" stroke-width="0.7"/>
<path d="M366,571 C372,570.2 378,570.2 383,571 M366,573 C372,573.6 378,573.6 383,573" fill="none" stroke="#888" stroke-width="0.45"/>
<path d="M300,631 C305,630 308,629.5 311,628.8 C316,627.5 320,629.5 320.5,634 C320.5,638.8 316,640.5 311,639.5 C308,638.8 305,638.5 300,637.8 Z" fill="#cfcfcf" stroke="#6a6a6a" stroke-width="0.7"/>
<path d="M362,631.5 C366,630.5 369,629.5 372,628.8 C377,627.8 381,630 381,634.2 C381,638.5 377,640.2 372,639.5 C369,639 366,638 362,637.2 Z" fill="#cfcfcf" stroke="#6a6a6a" stroke-width="0.7"/>
<ellipse cx="297.4" cy="571.6" rx="4.9" ry="5.3" fill="#6a6a6a" stroke="#181818" stroke-width="1.4"/>
<ellipse cx="297.1" cy="572" rx="3.24" ry="3.48" fill="#a8a8a8" stroke="#2a2a2a" stroke-width="0.9"/>
<ellipse cx="297" cy="572.2" rx="1.62" ry="1.74" fill="#ddd" stroke="#555" stroke-width="0.5"/>
<circle cx="297" cy="572.2" r="0.7" fill="#fff" stroke="none" stroke-width="0.3"/>
<ellipse cx="359.8" cy="571.8" rx="5.1" ry="5.6" fill="#6a6a6a" stroke="#181818" stroke-width="1.4"/>
<ellipse cx="359.5" cy="572.2" rx="3.36" ry="3.66" fill="#a8a8a8" stroke="#2a2a2a" stroke-width="0.9"/>
<ellipse cx="359.4" cy="572.4" rx="1.68" ry="1.83" fill="#ddd" stroke="#555" stroke-width="0.5"/>
<circle cx="359.4" cy="572.4" r="0.7" fill="#fff" stroke="none" stroke-width="0.3"/>
<ellipse cx="297.2" cy="634.6" rx="5.1" ry="5.4" fill="#6a6a6a" stroke="#181818" stroke-width="1.4"/>
<ellipse cx="296.9" cy="635" rx="3.36" ry="3.54" fill="#a8a8a8" stroke="#2a2a2a" stroke-width="0.9"/>
<ellipse cx="296.8" cy="635.2" rx="1.68" ry="1.77" fill="#ddd" stroke="#555" stroke-width="0.5"/>
<circle cx="296.8" cy="635.2" r="0.7" fill="#fff" stroke="none" stroke-width="0.3"/>
<ellipse cx="359.8" cy="634.2" rx="4.7" ry="5.4" fill="#6a6a6a" stroke="#181818" stroke-width="1.4"/>
<ellipse cx="359.5" cy="634.6" rx="3.12" ry="3.54" fill="#a8a8a8" stroke="#2a2a2a" stroke-width="0.9"/>
<ellipse cx="359.4" cy="634.8" rx="1.56" ry="1.77" fill="#ddd" stroke="#555" stroke-width="0.5"/>
<circle cx="359.4" cy="634.8" r="0.7" fill="#fff" stroke="none" stroke-width="0.3"/>
<text x="306.6" y="555.8" font-size="6" textLength="14.8" lengthAdjust="spacingAndGlyphs" >24.5%</text>
<text x="371.8" y="559" font-size="6" textLength="14.2" lengthAdjust="spacingAndGlyphs" >17.4%</text>
<text x="307" y="621.4" font-size="6" textLength="14.8" lengthAdjust="spacingAndGlyphs" >32.1%</text>
<text x="372.5" y="621" font-size="6" textLength="14.7" lengthAdjust="spacingAndGlyphs" >31.0%</text>
<text x="409.4" y="575.2" font-size="7" transform="rotate(-90 409.4 575.2)" textLength="9.4" lengthAdjust="spacingAndGlyphs" >WT</text>
<text x="408.4" y="654.6" font-size="6.8" fill="#4a93aa" stroke="#4a93aa" transform="rotate(-90 408.4 654.6)" textLength="43" lengthAdjust="spacingAndGlyphs"><tspan font-style="italic">Vav</tspan><tspan dy="-2.58" font-size="4.22">Cre+</tspan><tspan dy="2.58"> Rxrab</tspan><tspan dy="-2.58" font-size="4.22">fl/fl</tspan></text>
<path d="M269.3,671.6 L269.3,638.5 M269.3,671.6 L306.8,671.6" stroke="#000" stroke-width="1.2" fill="none"/>
<path d="M266.6,639.7 L269.3,634.8 L272,639.7 Z M306.0,668.9 L310.6,671.6 L306.0,674.3 Z" fill="#000"/>
<text x="264.4" y="662.2" font-size="7.7" transform="rotate(-90 264.4 662.2)" textLength="17.2" lengthAdjust="spacingAndGlyphs" >Sca-1</text>
<text x="283" y="681.6" font-size="7.7" textLength="14.8" lengthAdjust="spacingAndGlyphs" >BrdU</text>
<text x="419.6" y="539.6" font-size="10.8" font-weight="bold" fill="#000" stroke="#000" >H</text>
<path d="M424,564.5 C423.67,561.92 426.69,561.14 428.69,562.17 C429.7,562.95 428.36,565.01 427.15,566.56 C427.15,573.01 427.69,579.46 428.49,583.59 C429.83,585.39 428.02,587.72 426.35,586.43 C425.01,587.72 423.33,585.91 425.01,583.07 C425.81,579.46 425.35,573.01 425.01,567.08 Z" fill="#e4bb8a" stroke="#cf9a5c" stroke-width="0.75" stroke-linejoin="round"/>
<rect x="455.2" y="606.44" width="10.8" height="48.56" fill="#a3a3a3" stroke="none" stroke-width="0.8" />
<rect x="467.5" y="587.51" width="10.5" height="67.49" fill="#96b4cb" stroke="none" stroke-width="0.8" />
<rect x="490.4" y="602.1" width="10.2" height="52.9" fill="#a3a3a3" stroke="none" stroke-width="0.8" />
<rect x="502.7" y="582.95" width="10.1" height="72.05" fill="#96b4cb" stroke="none" stroke-width="0.8" />
<circle cx="456.5" cy="599.6" r="1.55" fill="#5c5c5c" stroke="#262626" stroke-width="0.55"/>
<circle cx="460.6" cy="598.91" r="1.55" fill="#5c5c5c" stroke="#262626" stroke-width="0.55"/>
<circle cx="462.5" cy="600.74" r="1.55" fill="#5c5c5c" stroke="#262626" stroke-width="0.55"/>
<circle cx="465" cy="599.14" r="1.55" fill="#5c5c5c" stroke="#262626" stroke-width="0.55"/>
<circle cx="458.6" cy="602.1" r="1.55" fill="#5c5c5c" stroke="#262626" stroke-width="0.55"/>
<circle cx="460.6" cy="611" r="1.55" fill="#5c5c5c" stroke="#262626" stroke-width="0.55"/>
<circle cx="460.6" cy="623.99" r="1.55" fill="#5c5c5c" stroke="#262626" stroke-width="0.55"/>
<rect x="470.65" y="580.92" width="2.7" height="2.7" fill="#4b91ab" stroke="#2c6f88" stroke-width="0.45" />
<rect x="474.15" y="580.23" width="2.7" height="2.7" fill="#4b91ab" stroke="#2c6f88" stroke-width="0.45" />
<rect x="469.15" y="582.51" width="2.7" height="2.7" fill="#4b91ab" stroke="#2c6f88" stroke-width="0.45" />
<rect x="471.45" y="584.11" width="2.7" height="2.7" fill="#4b91ab" stroke="#2c6f88" stroke-width="0.45" />
<rect x="471.65" y="588.21" width="2.7" height="2.7" fill="#4b91ab" stroke="#2c6f88" stroke-width="0.45" />
<rect x="471.65" y="594.6" width="2.7" height="2.7" fill="#4b91ab" stroke="#2c6f88" stroke-width="0.45" />
<circle cx="495.5" cy="583.64" r="1.55" fill="#5c5c5c" stroke="#262626" stroke-width="0.55"/>
<circle cx="496.5" cy="595.04" r="1.55" fill="#5c5c5c" stroke="#262626" stroke-width="0.55"/>
<circle cx="498.2" cy="596.18" r="1.55" fill="#5c5c5c" stroke="#262626" stroke-width="0.55"/>
<circle cx="494.2" cy="600.51" r="1.55" fill="#5c5c5c" stroke="#262626" stroke-width="0.55"/>
<circle cx="495.5" cy="615.1" r="1.55" fill="#5c5c5c" stroke="#262626" stroke-width="0.55"/>
<circle cx="495.5" cy="620.57" r="1.55" fill="#5c5c5c" stroke="#262626" stroke-width="0.55"/>
<rect x="504.15" y="573.62" width="2.7" height="2.7" fill="#4b91ab" stroke="#2c6f88" stroke-width="0.45" />
<rect x="508.65" y="572.03" width="2.7" height="2.7" fill="#4b91ab" stroke="#2c6f88" stroke-width="0.45" />
<rect x="506.15" y="581.6" width="2.7" height="2.7" fill="#4b91ab" stroke="#2c6f88" stroke-width="0.45" />
<rect x="504.15" y="582.97" width="2.7" height="2.7" fill="#4b91ab" stroke="#2c6f88" stroke-width="0.45" />
<rect x="508.15" y="583.43" width="2.7" height="2.7" fill="#4b91ab" stroke="#2c6f88" stroke-width="0.45" />
<rect x="506.65" y="596.65" width="2.7" height="2.7" fill="#4b91ab" stroke="#2c6f88" stroke-width="0.45" />
<line x1="460.6" y1="610.08" x2="460.6" y2="602.79" stroke="#333" stroke-width="0.7" />
<line x1="459.5" y1="602.79" x2="461.7" y2="602.79" stroke="#333" stroke-width="0.7" />
<line x1="459.5" y1="610.08" x2="461.7" y2="610.08" stroke="#333" stroke-width="0.7" />
<line x1="472.7" y1="589.79" x2="472.7" y2="585.23" stroke="#2f7a9c" stroke-width="0.7" />
<line x1="471.6" y1="585.23" x2="473.8" y2="585.23" stroke="#2f7a9c" stroke-width="0.7" />
<line x1="471.6" y1="589.79" x2="473.8" y2="589.79" stroke="#2f7a9c" stroke-width="0.7" />
<line x1="495.5" y1="607.8" x2="495.5" y2="596.4" stroke="#333" stroke-width="0.7" />
<line x1="494.4" y1="596.4" x2="496.6" y2="596.4" stroke="#333" stroke-width="0.7" />
<line x1="494.4" y1="607.8" x2="496.6" y2="607.8" stroke="#333" stroke-width="0.7" />
<line x1="507.7" y1="586.37" x2="507.7" y2="579.53" stroke="#2f7a9c" stroke-width="0.7" />
<line x1="506.6" y1="579.53" x2="508.8" y2="579.53" stroke="#2f7a9c" stroke-width="0.7" />
<line x1="506.6" y1="586.37" x2="508.8" y2="586.37" stroke="#2f7a9c" stroke-width="0.7" />
<line x1="449.3" y1="655" x2="449.3" y2="561.5" stroke="#1e1e1e" stroke-width="1.35" />
<line x1="449.3" y1="655" x2="520" y2="655" stroke="#1e1e1e" stroke-width="1.35" />
<line x1="446.3" y1="655" x2="449.3" y2="655" stroke="#222" stroke-width="1.1" />
<text x="443.1" y="657.4" font-size="7" text-anchor="end" fill="#333" stroke="#333" textLength="3.56" lengthAdjust="spacingAndGlyphs" >0</text>
<line x1="446.3" y1="632.2" x2="449.3" y2="632.2" stroke="#222" stroke-width="1.1" />
<text x="443.1" y="634.6" font-size="7" text-anchor="end" fill="#333" stroke="#333" textLength="7.12" lengthAdjust="spacingAndGlyphs" >10</text>
<line x1="446.3" y1="609.4" x2="449.3" y2="609.4" stroke="#222" stroke-width="1.1" />
<text x="443.1" y="611.8" font-size="7" text-anchor="end" fill="#333" stroke="#333" textLength="7.12" lengthAdjust="spacingAndGlyphs" >20</text>
<line x1="446.3" y1="586.6" x2="449.3" y2="586.6" stroke="#222" stroke-width="1.1" />
<text x="443.1" y="589" font-size="7" text-anchor="end" fill="#333" stroke="#333" textLength="7.12" lengthAdjust="spacingAndGlyphs" >30</text>
<line x1="446.3" y1="563.8" x2="449.3" y2="563.8" stroke="#222" stroke-width="1.1" />
<text x="443.1" y="566.2" font-size="7" text-anchor="end" fill="#333" stroke="#333" textLength="7.12" lengthAdjust="spacingAndGlyphs" >40</text>
<line x1="466.6" y1="655" x2="466.6" y2="656.6" stroke="#222" stroke-width="0.9" />
<line x1="501.8" y1="655" x2="501.8" y2="656.6" stroke="#222" stroke-width="0.9" />
<text x="466.6" y="666.6" font-size="6.6" text-anchor="middle" textLength="14.2" lengthAdjust="spacingAndGlyphs" >LSKs</text>
<text x="501.9" y="667" font-size="6.6" text-anchor="middle" textLength="25.4" lengthAdjust="spacingAndGlyphs" >LT-HSCs</text>
<circle cx="472.85" cy="571.4" r="0.95" fill="#222" stroke="none" stroke-width="0.3"/>
<circle cx="476.35" cy="571.4" r="0.95" fill="#222" stroke="none" stroke-width="0.3"/>
<circle cx="506.25" cy="564.4" r="0.95" fill="#222" stroke="none" stroke-width="0.3"/>
<circle cx="509.75" cy="564.4" r="0.95" fill="#222" stroke="none" stroke-width="0.3"/>
<circle cx="456.2" cy="548" r="1.8" fill="#4a4a4a" stroke="none" stroke-width="0.3"/>
<text x="461.4" y="550.3" font-size="6.4" textLength="9.8" lengthAdjust="spacingAndGlyphs" >WT</text>
<rect x="455.15" y="556.55" width="3.1" height="3.1" fill="#4f8799" stroke="none" stroke-width="0.4" />
<text x="461.4" y="559.8" font-size="6.4" fill="#4a93aa" stroke="#4a93aa" textLength="43.6" lengthAdjust="spacingAndGlyphs"><tspan font-style="italic">Vav</tspan><tspan dy="-2.43" font-size="3.97">Cre+</tspan><tspan dy="2.43" font-style="italic"> Rxrab</tspan><tspan dy="-2.43" font-size="3.97">fl/fl</tspan></text>
<text x="430.8" y="620.8" font-size="8.6" text-anchor="middle" transform="rotate(-90 430.6 620.8)" textLength="50.5" lengthAdjust="spacingAndGlyphs">% of BrdU<tspan dy="-2.6" font-size="4.2">+</tspan><tspan dy="2.6"> cells</tspan></text>
</svg></body></html>
